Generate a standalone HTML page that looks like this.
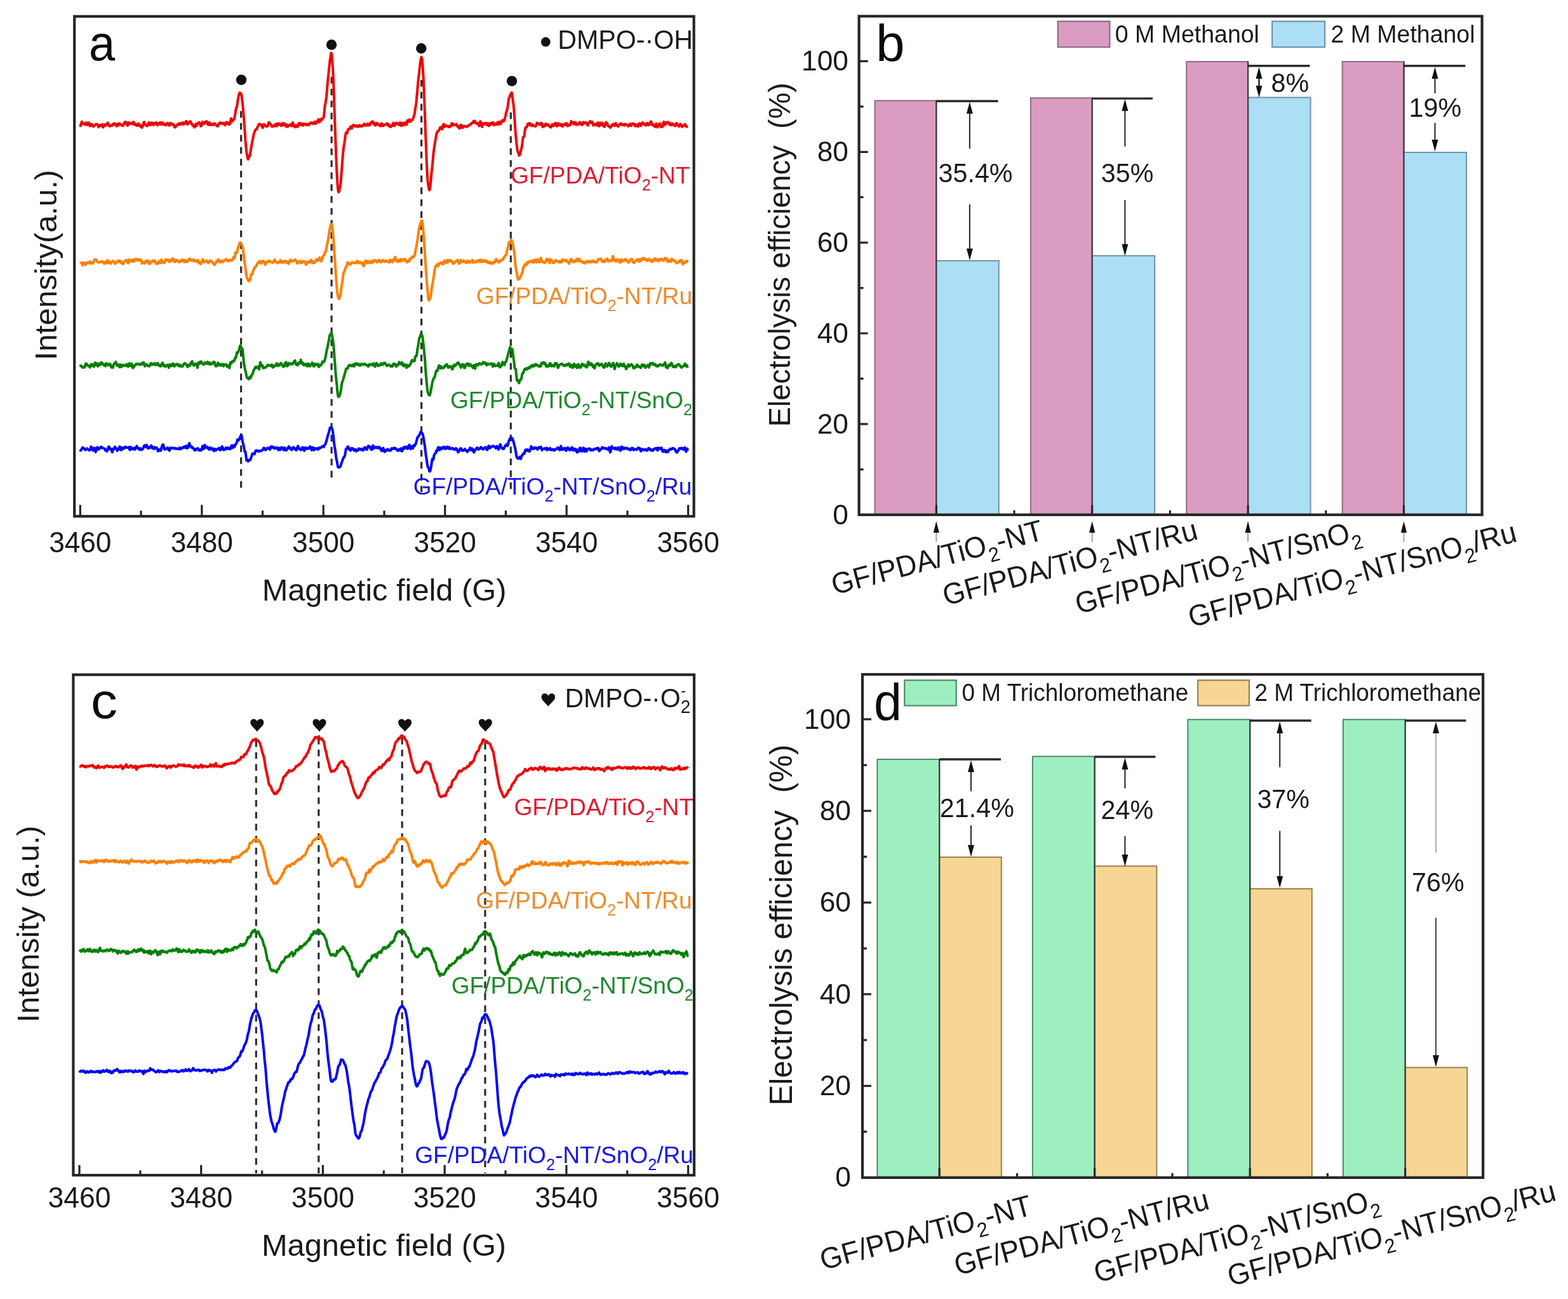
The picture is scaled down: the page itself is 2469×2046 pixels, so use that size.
<!DOCTYPE html>
<html><head><meta charset="utf-8"><title>Figure</title>
<style>
html,body{margin:0;padding:0;background:#fff;width:2469px;height:2046px;overflow:hidden}
svg{display:block}
text{font-family:'Liberation Sans', Arial, sans-serif}
</style></head><body>
<svg width="2469" height="2046" viewBox="0 0 2469 2046">
<rect width="2469" height="2046" fill="#fff"/>
<rect x="117.2" y="25.8" width="975.4" height="787.4" fill="none" stroke="#262626" stroke-width="4.2"/>
<path d="M126.3 813.2V795.2M222.0 813.2V804.2M317.8 813.2V795.2M413.5 813.2V804.2M509.2 813.2V795.2M605.0 813.2V804.2M700.7 813.2V795.2M796.4 813.2V804.2M892.1 813.2V795.2M987.9 813.2V804.2M1083.6 813.2V795.2" stroke="#262626" stroke-width="3.2" fill="none"/>
<text transform="translate(126.3 869.6) scale(1.000 1.04)" font-size="44.2" fill="#1a1a1a" text-anchor="middle" >3460</text>
<text transform="translate(317.8 869.6) scale(1.000 1.04)" font-size="44.2" fill="#1a1a1a" text-anchor="middle" >3480</text>
<text transform="translate(509.2 869.6) scale(1.000 1.04)" font-size="44.2" fill="#1a1a1a" text-anchor="middle" >3500</text>
<text transform="translate(700.7 869.6) scale(1.000 1.04)" font-size="44.2" fill="#1a1a1a" text-anchor="middle" >3520</text>
<text transform="translate(892.1 869.6) scale(1.000 1.04)" font-size="44.2" fill="#1a1a1a" text-anchor="middle" >3540</text>
<text transform="translate(1083.6 869.6) scale(1.000 1.04)" font-size="44.2" fill="#1a1a1a" text-anchor="middle" >3560</text>
<text transform="translate(605.0 946.0) scale(1.060 1.04)" font-size="46" fill="#1a1a1a" text-anchor="middle" >Magnetic field (G)</text>
<text transform="translate(89.3 417.5) rotate(-90) scale(1.054 1.04)" font-size="47" fill="#1a1a1a" text-anchor="middle" >Intensity(a.u.)</text>
<text transform="translate(140.0 94.7) scale(1.000 1.04)" font-size="74.1" fill="#0a0a0a" text-anchor="start" >a</text>
<circle cx="859.3" cy="66" r="7.4" fill="#111"/>
<text transform="translate(878.2 76.7) scale(1.030 1.04)" font-size="40" fill="#1a1a1a" text-anchor="start" >DMPO-·OH</text>
<line x1="379.6" y1="175" x2="379.6" y2="774" stroke="#2e2e2e" stroke-width="3.2" stroke-dasharray="10.5 8.3"/>
<line x1="522.1" y1="121" x2="522.1" y2="760" stroke="#2e2e2e" stroke-width="3.2" stroke-dasharray="10.5 8.3"/>
<line x1="663.6" y1="126" x2="663.6" y2="775" stroke="#2e2e2e" stroke-width="3.2" stroke-dasharray="10.5 8.3"/>
<line x1="804.3" y1="177" x2="804.3" y2="776" stroke="#2e2e2e" stroke-width="3.2" stroke-dasharray="10.5 8.3"/>
<path d="M126.3 199.9 L127.2 196.4 L128.1 193.7 L129.0 191.5 L129.9 194.3 L130.8 195.1 L131.7 195.0 L132.6 196.2 L133.5 195.9 L134.4 193.7 L135.3 193.3 L136.2 194.6 L137.1 196.6 L138.0 196.0 L138.9 193.1 L139.8 193.4 L140.7 196.9 L141.6 198.5 L142.5 196.2 L143.4 195.3 L144.3 197.1 L145.2 196.6 L146.1 198.0 L147.0 199.4 L147.9 198.3 L148.8 197.3 L149.7 197.3 L150.6 195.8 L151.5 195.6 L152.4 195.4 L153.3 195.9 L154.2 197.6 L155.1 200.3 L156.0 198.0 L156.9 196.9 L157.8 197.1 L158.7 198.1 L159.6 198.4 L160.5 196.1 L161.4 199.8 L162.3 200.5 L163.2 196.6 L164.1 196.2 L165.0 197.5 L165.9 198.1 L166.8 195.9 L167.7 196.6 L168.6 196.0 L169.5 193.4 L170.4 194.1 L171.3 197.2 L172.2 198.5 L173.1 198.8 L174.0 198.0 L174.9 197.3 L175.8 197.3 L176.7 197.7 L177.6 195.4 L178.5 195.6 L179.4 195.7 L180.3 194.4 L181.2 196.7 L182.1 195.4 L183.0 196.6 L183.9 198.7 L184.8 195.4 L185.7 195.3 L186.6 197.1 L187.5 194.4 L188.4 194.5 L189.3 196.2 L190.2 196.7 L191.1 196.7 L192.0 197.0 L192.9 198.2 L193.8 197.9 L194.7 196.3 L195.6 193.9 L196.5 192.5 L197.4 191.9 L198.3 194.0 L199.2 193.0 L200.1 196.4 L201.0 197.8 L201.9 193.9 L202.8 193.0 L203.7 194.1 L204.6 195.4 L205.5 193.8 L206.4 193.9 L207.3 193.9 L208.2 194.9 L209.1 195.3 L210.0 191.9 L210.9 194.0 L211.8 196.3 L212.7 196.5 L213.6 194.9 L214.5 197.3 L215.4 197.9 L216.3 197.9 L217.2 196.1 L218.1 194.7 L219.0 197.6 L219.9 198.6 L220.8 197.1 L221.7 197.4 L222.6 200.5 L223.5 200.9 L224.4 198.6 L225.3 198.1 L226.2 192.9 L227.1 192.1 L228.0 196.0 L228.9 196.2 L229.8 197.0 L230.7 197.8 L231.6 198.5 L232.5 197.6 L233.4 195.1 L234.3 192.8 L235.2 194.5 L236.1 196.2 L237.0 197.0 L237.9 193.7 L238.8 193.5 L239.7 193.5 L240.6 194.7 L241.5 196.9 L242.4 195.4 L243.3 193.8 L244.2 194.6 L245.1 195.0 L246.0 193.0 L246.9 194.3 L247.8 197.3 L248.7 196.8 L249.6 194.8 L250.5 193.9 L251.4 193.5 L252.3 192.9 L253.2 195.9 L254.1 196.3 L255.0 194.9 L255.9 193.0 L256.8 193.9 L257.7 196.1 L258.6 196.1 L259.5 195.4 L260.4 196.9 L261.3 197.3 L262.2 195.2 L263.1 194.3 L264.0 193.8 L264.9 194.3 L265.8 197.2 L266.7 197.7 L267.6 196.5 L268.5 194.1 L269.4 194.0 L270.3 195.4 L271.2 195.7 L272.1 195.9 L273.0 195.7 L273.9 198.0 L274.8 200.4 L275.7 200.6 L276.6 199.6 L277.5 197.6 L278.4 197.3 L279.3 196.2 L280.2 196.8 L281.1 195.2 L282.0 194.2 L282.9 194.5 L283.8 196.2 L284.7 196.2 L285.6 195.0 L286.5 193.4 L287.4 193.7 L288.3 193.4 L289.2 196.2 L290.1 195.3 L291.0 194.7 L291.9 193.4 L292.8 191.0 L293.7 191.2 L294.6 194.3 L295.5 196.0 L296.4 193.1 L297.3 192.7 L298.2 193.2 L299.1 191.2 L300.0 191.2 L300.9 193.7 L301.8 195.1 L302.7 196.1 L303.6 198.3 L304.5 197.3 L305.4 198.1 L306.3 200.5 L307.2 199.7 L308.1 195.3 L309.0 196.2 L309.9 197.8 L310.8 194.8 L311.7 193.8 L312.6 193.2 L313.5 192.8 L314.4 193.7 L315.3 196.3 L316.2 198.7 L317.1 198.6 L318.0 195.1 L318.9 191.9 L319.8 193.5 L320.7 194.3 L321.6 194.9 L322.5 193.6 L323.4 191.9 L324.3 193.1 L325.2 191.2 L326.1 192.7 L327.0 195.3 L327.9 196.7 L328.8 196.6 L329.7 192.8 L330.6 195.2 L331.5 196.8 L332.4 196.0 L333.3 196.1 L334.2 195.0 L335.1 196.8 L336.0 196.7 L336.9 194.5 L337.8 194.4 L338.7 195.0 L339.6 195.5 L340.5 197.5 L341.4 197.7 L342.3 198.9 L343.2 198.6 L344.1 196.5 L345.0 194.9 L345.9 193.5 L346.8 193.2 L347.7 193.8 L348.6 194.8 L349.5 193.9 L350.4 194.6 L351.3 194.7 L352.2 193.7 L353.1 194.5 L354.0 197.1 L354.9 196.8 L355.8 193.2 L356.7 192.5 L357.6 192.4 L358.5 193.3 L359.4 195.6 L360.3 195.4 L361.2 195.9 L362.1 195.3 L363.0 190.1 L363.9 186.5 L364.8 189.2 L365.7 191.2 L366.6 189.5 L367.5 188.8 L368.4 188.1 L369.3 185.5 L370.2 180.6 L371.1 174.3 L372.0 169.8 L372.9 168.7 L373.8 163.7 L374.7 156.6 L375.6 152.1 L376.5 148.1 L377.4 146.0 L378.3 148.4 L379.2 146.8 L380.1 148.9 L381.0 155.2 L381.9 162.1 L382.8 171.9 L383.7 182.7 L384.6 193.9 L385.5 207.2 L386.4 221.0 L387.3 230.6 L388.2 239.8 L389.1 244.4 L390.0 249.6 L390.9 250.9 L391.8 248.0 L392.7 244.7 L393.6 245.3 L394.5 238.9 L395.4 233.2 L396.3 228.7 L397.2 223.0 L398.1 219.3 L399.0 214.4 L399.9 209.8 L400.8 208.6 L401.7 205.2 L402.6 204.1 L403.5 204.0 L404.4 203.2 L405.3 200.4 L406.2 198.8 L407.1 197.4 L408.0 195.2 L408.9 195.7 L409.8 195.6 L410.7 195.9 L411.6 197.7 L412.5 198.7 L413.4 201.3 L414.3 200.3 L415.2 195.9 L416.1 196.5 L417.0 196.6 L417.9 198.2 L418.8 198.8 L419.7 199.4 L420.6 199.0 L421.5 198.6 L422.4 195.9 L423.3 192.5 L424.2 193.4 L425.1 194.9 L426.0 195.4 L426.9 196.3 L427.8 199.2 L428.7 198.6 L429.6 199.1 L430.5 198.3 L431.4 199.0 L432.3 196.5 L433.2 196.6 L434.1 195.5 L435.0 197.8 L435.9 198.7 L436.8 194.6 L437.7 194.5 L438.6 196.2 L439.5 195.5 L440.4 194.7 L441.3 197.3 L442.2 197.5 L443.1 198.3 L444.0 196.5 L444.9 194.1 L445.8 195.3 L446.7 197.2 L447.6 194.5 L448.5 195.2 L449.4 197.7 L450.3 199.0 L451.2 198.0 L452.1 196.3 L453.0 199.6 L453.9 198.2 L454.8 197.4 L455.7 197.4 L456.6 196.6 L457.5 195.8 L458.4 197.2 L459.3 198.6 L460.2 194.7 L461.1 193.1 L462.0 197.1 L462.9 198.6 L463.8 199.7 L464.7 200.1 L465.6 197.2 L466.5 197.4 L467.4 198.8 L468.3 199.9 L469.2 198.9 L470.1 195.4 L471.0 193.9 L471.9 194.5 L472.8 194.3 L473.7 196.9 L474.6 195.8 L475.5 194.6 L476.4 194.9 L477.3 197.6 L478.2 196.4 L479.1 195.1 L480.0 195.7 L480.9 195.5 L481.8 196.5 L482.7 197.0 L483.6 195.3 L484.5 195.6 L485.4 196.2 L486.3 196.9 L487.2 196.0 L488.1 194.4 L489.0 193.4 L489.9 193.8 L490.8 193.0 L491.7 194.6 L492.6 194.9 L493.5 194.7 L494.4 193.0 L495.3 191.9 L496.2 192.6 L497.1 194.9 L498.0 193.8 L498.9 192.1 L499.8 190.2 L500.7 190.0 L501.6 188.0 L502.5 192.5 L503.4 192.2 L504.3 190.4 L505.2 187.7 L506.1 187.4 L507.0 188.6 L507.9 187.1 L508.8 186.1 L509.7 184.5 L510.6 177.3 L511.5 166.6 L512.4 163.2 L513.3 158.5 L514.2 150.3 L515.1 139.3 L516.0 129.2 L516.9 120.6 L517.8 111.3 L518.7 102.7 L519.6 94.5 L520.5 89.3 L521.4 83.3 L522.3 85.5 L523.2 95.6 L524.1 108.4 L525.0 126.1 L525.9 151.3 L526.8 178.6 L527.7 205.1 L528.6 228.4 L529.5 251.8 L530.4 272.3 L531.3 288.0 L532.2 298.9 L533.1 302.5 L534.0 301.9 L534.9 296.2 L535.8 293.1 L536.7 286.3 L537.6 274.5 L538.5 263.1 L539.4 249.7 L540.3 240.0 L541.2 231.3 L542.1 226.4 L543.0 220.5 L543.9 213.0 L544.8 209.1 L545.7 208.4 L546.6 209.7 L547.5 205.8 L548.4 203.6 L549.3 203.1 L550.2 203.4 L551.1 203.0 L552.0 199.3 L552.9 199.3 L553.8 202.2 L554.7 200.7 L555.6 198.2 L556.5 196.7 L557.4 198.1 L558.3 198.4 L559.2 198.1 L560.1 199.1 L561.0 197.7 L561.9 198.0 L562.8 199.4 L563.7 199.3 L564.6 199.5 L565.5 197.7 L566.4 197.0 L567.3 198.0 L568.2 198.6 L569.1 199.4 L570.0 198.4 L570.9 197.4 L571.8 197.9 L572.7 197.4 L573.6 195.1 L574.5 195.5 L575.4 196.4 L576.3 197.8 L577.2 196.8 L578.1 196.9 L579.0 194.7 L579.9 195.9 L580.8 197.6 L581.7 196.9 L582.6 196.6 L583.5 193.4 L584.4 194.8 L585.3 194.3 L586.2 191.2 L587.1 192.0 L588.0 194.5 L588.9 193.0 L589.8 196.2 L590.7 197.4 L591.6 197.5 L592.5 195.4 L593.4 193.8 L594.3 194.4 L595.2 195.5 L596.1 196.8 L597.0 196.5 L597.9 197.4 L598.8 198.4 L599.7 198.2 L600.6 194.3 L601.5 195.6 L602.4 198.2 L603.3 198.2 L604.2 196.5 L605.1 196.3 L606.0 196.8 L606.9 196.8 L607.8 195.7 L608.7 194.8 L609.6 194.4 L610.5 196.1 L611.4 197.9 L612.3 196.1 L613.2 198.3 L614.1 199.8 L615.0 198.6 L615.9 199.5 L616.8 197.6 L617.7 198.0 L618.6 195.5 L619.5 193.6 L620.4 196.1 L621.3 198.1 L622.2 195.6 L623.1 195.1 L624.0 193.4 L624.9 193.5 L625.8 195.3 L626.7 195.5 L627.6 196.7 L628.5 196.8 L629.4 193.5 L630.3 193.3 L631.2 195.8 L632.1 198.2 L633.0 195.1 L633.9 193.9 L634.8 195.9 L635.7 197.4 L636.6 194.1 L637.5 193.0 L638.4 194.0 L639.3 195.8 L640.2 196.4 L641.1 191.3 L642.0 189.5 L642.9 191.9 L643.8 191.7 L644.7 188.1 L645.6 189.5 L646.5 191.5 L647.4 189.9 L648.3 189.5 L649.2 188.6 L650.1 187.4 L651.0 185.1 L651.9 182.3 L652.8 179.1 L653.7 172.5 L654.6 167.4 L655.5 161.5 L656.4 151.3 L657.3 141.3 L658.2 130.7 L659.1 121.4 L660.0 115.0 L660.9 105.7 L661.8 99.0 L662.7 92.9 L663.6 89.9 L664.5 92.6 L665.4 101.4 L666.3 115.1 L667.2 133.6 L668.1 153.9 L669.0 179.5 L669.9 205.8 L670.8 229.6 L671.7 252.1 L672.6 272.0 L673.5 285.0 L674.4 291.4 L675.3 297.8 L676.2 299.4 L677.1 297.1 L678.0 289.3 L678.9 278.7 L679.8 270.6 L680.7 262.3 L681.6 251.8 L682.5 241.4 L683.4 234.9 L684.3 228.4 L685.2 222.9 L686.1 218.4 L687.0 212.6 L687.9 209.5 L688.8 207.0 L689.7 206.9 L690.6 206.1 L691.5 204.3 L692.4 202.8 L693.3 200.6 L694.2 200.7 L695.1 200.2 L696.0 203.7 L696.9 202.2 L697.8 196.7 L698.7 195.4 L699.6 199.7 L700.5 199.2 L701.4 199.1 L702.3 197.5 L703.2 198.2 L704.1 198.3 L705.0 199.2 L705.9 199.2 L706.8 200.1 L707.7 198.5 L708.6 199.6 L709.5 198.7 L710.4 197.5 L711.3 194.3 L712.2 194.3 L713.1 197.4 L714.0 195.9 L714.9 196.2 L715.8 196.5 L716.7 196.4 L717.6 197.1 L718.5 195.5 L719.4 196.3 L720.3 199.1 L721.2 198.6 L722.1 200.3 L723.0 201.6 L723.9 202.4 L724.8 200.0 L725.7 196.5 L726.6 197.2 L727.5 199.0 L728.4 201.2 L729.3 200.2 L730.2 198.7 L731.1 199.1 L732.0 198.6 L732.9 199.1 L733.8 199.3 L734.7 199.9 L735.6 199.2 L736.5 198.9 L737.4 197.7 L738.3 197.4 L739.2 196.5 L740.1 196.7 L741.0 195.9 L741.9 194.6 L742.8 193.7 L743.7 193.9 L744.6 193.4 L745.5 191.1 L746.4 193.0 L747.3 190.3 L748.2 191.7 L749.1 193.3 L750.0 194.7 L750.9 194.4 L751.8 193.8 L752.7 194.5 L753.6 196.8 L754.5 198.5 L755.4 195.0 L756.3 191.1 L757.2 192.9 L758.1 196.9 L759.0 199.8 L759.9 195.4 L760.8 194.4 L761.7 195.9 L762.6 195.3 L763.5 193.9 L764.4 195.5 L765.3 193.9 L766.2 195.3 L767.1 197.0 L768.0 194.4 L768.9 195.7 L769.8 198.4 L770.7 196.1 L771.6 194.1 L772.5 195.1 L773.4 196.3 L774.3 193.8 L775.2 193.4 L776.1 192.7 L777.0 194.0 L777.9 197.1 L778.8 196.0 L779.7 195.0 L780.6 195.3 L781.5 193.6 L782.4 193.3 L783.3 196.4 L784.2 196.0 L785.1 192.3 L786.0 191.9 L786.9 195.2 L787.8 195.4 L788.7 193.8 L789.6 191.2 L790.5 190.5 L791.4 189.3 L792.3 191.5 L793.2 190.7 L794.1 189.7 L795.0 185.9 L795.9 183.4 L796.8 177.8 L797.7 175.1 L798.6 172.7 L799.5 167.8 L800.4 161.1 L801.3 154.9 L802.2 153.6 L803.1 150.5 L804.0 148.2 L804.9 146.6 L805.8 145.9 L806.7 151.0 L807.6 159.2 L808.5 164.2 L809.4 174.3 L810.3 186.7 L811.2 201.8 L812.1 212.6 L813.0 221.7 L813.9 231.0 L814.8 236.9 L815.7 239.8 L816.6 242.1 L817.5 244.8 L818.4 244.1 L819.3 241.9 L820.2 237.2 L821.1 234.0 L822.0 230.0 L822.9 221.0 L823.8 215.8 L824.7 215.7 L825.6 213.7 L826.5 205.8 L827.4 201.0 L828.3 200.8 L829.2 200.4 L830.1 199.0 L831.0 195.0 L831.9 196.0 L832.8 196.2 L833.7 194.0 L834.6 194.3 L835.5 197.4 L836.4 197.9 L837.3 197.0 L838.2 198.2 L839.1 196.4 L840.0 197.3 L840.9 198.5 L841.8 198.5 L842.7 199.0 L843.6 198.9 L844.5 196.4 L845.4 193.6 L846.3 194.9 L847.2 194.6 L848.1 194.6 L849.0 195.9 L849.9 194.5 L850.8 196.4 L851.7 195.0 L852.6 193.5 L853.5 195.4 L854.4 200.2 L855.3 199.5 L856.2 196.9 L857.1 198.3 L858.0 198.6 L858.9 195.0 L859.8 195.0 L860.7 196.8 L861.6 196.2 L862.5 195.8 L863.4 197.9 L864.3 197.5 L865.2 198.3 L866.1 200.0 L867.0 199.2 L867.9 200.4 L868.8 197.6 L869.7 195.9 L870.6 196.6 L871.5 198.0 L872.4 198.0 L873.3 196.5 L874.2 193.7 L875.1 193.9 L876.0 196.2 L876.9 198.8 L877.8 198.5 L878.7 194.0 L879.6 195.4 L880.5 196.4 L881.4 197.1 L882.3 197.3 L883.2 195.6 L884.1 195.6 L885.0 198.9 L885.9 199.2 L886.8 197.3 L887.7 196.7 L888.6 195.4 L889.5 194.9 L890.4 196.9 L891.3 195.4 L892.2 194.1 L893.1 195.7 L894.0 198.7 L894.9 197.7 L895.8 196.4 L896.7 196.3 L897.6 197.0 L898.5 195.0 L899.4 190.9 L900.3 192.3 L901.2 193.6 L902.1 194.7 L903.0 193.7 L903.9 192.3 L904.8 195.8 L905.7 195.1 L906.6 193.1 L907.5 196.2 L908.4 196.5 L909.3 196.4 L910.2 196.0 L911.1 195.6 L912.0 194.0 L912.9 192.4 L913.8 193.9 L914.7 195.7 L915.6 196.3 L916.5 196.7 L917.4 194.6 L918.3 192.4 L919.2 194.9 L920.1 193.8 L921.0 192.6 L921.9 193.3 L922.8 193.1 L923.7 194.6 L924.6 195.1 L925.5 197.7 L926.4 195.6 L927.3 193.8 L928.2 192.6 L929.1 190.9 L930.0 192.3 L930.9 193.5 L931.8 193.4 L932.7 192.0 L933.6 195.4 L934.5 197.8 L935.4 196.1 L936.3 196.1 L937.2 196.3 L938.1 194.9 L939.0 195.6 L939.9 197.5 L940.8 196.1 L941.7 193.1 L942.6 193.6 L943.5 198.7 L944.4 196.8 L945.3 193.4 L946.2 195.3 L947.1 196.7 L948.0 195.0 L948.9 193.6 L949.8 197.9 L950.7 199.1 L951.6 199.7 L952.5 198.2 L953.4 194.4 L954.3 192.6 L955.2 194.8 L956.1 194.1 L957.0 197.3 L957.9 198.3 L958.8 198.8 L959.7 199.7 L960.6 200.9 L961.5 200.7 L962.4 199.0 L963.3 197.2 L964.2 197.5 L965.1 195.8 L966.0 195.2 L966.9 197.1 L967.8 198.0 L968.7 197.4 L969.6 194.0 L970.5 196.5 L971.4 197.8 L972.3 197.8 L973.2 199.3 L974.1 198.2 L975.0 197.1 L975.9 195.7 L976.8 195.2 L977.7 194.3 L978.6 195.6 L979.5 197.0 L980.4 196.6 L981.3 196.1 L982.2 195.6 L983.1 197.5 L984.0 195.5 L984.9 195.7 L985.8 196.5 L986.7 196.1 L987.6 196.9 L988.5 197.4 L989.4 198.9 L990.3 197.8 L991.2 196.3 L992.1 195.0 L993.0 196.8 L993.9 198.1 L994.8 196.8 L995.7 194.6 L996.6 194.7 L997.5 195.6 L998.4 195.5 L999.3 195.3 L1000.2 198.8 L1001.1 197.6 L1002.0 196.6 L1002.9 196.1 L1003.8 197.5 L1004.7 199.3 L1005.6 196.0 L1006.5 194.7 L1007.4 194.3 L1008.3 195.9 L1009.2 198.2 L1010.1 195.9 L1011.0 194.1 L1011.9 192.8 L1012.8 194.6 L1013.7 195.9 L1014.6 195.1 L1015.5 195.6 L1016.4 197.4 L1017.3 197.3 L1018.2 195.8 L1019.1 194.0 L1020.0 194.2 L1020.9 197.2 L1021.8 195.1 L1022.7 196.3 L1023.6 194.8 L1024.5 191.5 L1025.4 191.6 L1026.3 194.3 L1027.2 197.3 L1028.1 195.8 L1029.0 197.4 L1029.9 198.3 L1030.8 197.0 L1031.7 199.9 L1032.6 198.0 L1033.5 194.5 L1034.4 198.9 L1035.3 200.5 L1036.2 197.5 L1037.1 196.7 L1038.0 196.4 L1038.9 194.4 L1039.8 197.6 L1040.7 200.2 L1041.6 198.1 L1042.5 199.5 L1043.4 199.6 L1044.3 193.5 L1045.2 191.8 L1046.1 194.2 L1047.0 196.7 L1047.9 196.1 L1048.8 193.7 L1049.7 192.5 L1050.6 192.7 L1051.5 193.2 L1052.4 192.6 L1053.3 194.1 L1054.2 196.2 L1055.1 194.8 L1056.0 194.4 L1056.9 197.3 L1057.8 196.4 L1058.7 194.6 L1059.6 195.3 L1060.5 197.0 L1061.4 196.2 L1062.3 197.0 L1063.2 198.5 L1064.1 197.6 L1065.0 194.0 L1065.9 194.7 L1066.8 196.0 L1067.7 197.3 L1068.6 198.9 L1069.5 199.0 L1070.4 196.4 L1071.3 195.1 L1072.2 196.4 L1073.1 197.2 L1074.0 199.7 L1074.9 198.6 L1075.8 197.9 L1076.7 198.2 L1077.6 196.2 L1078.5 195.8 L1079.4 196.7 L1080.3 198.5 L1081.2 199.7 L1082.1 199.2 L1083.0 198.8" fill="none" stroke="#f00000" stroke-width="4.0" stroke-linejoin="round"/>
<path d="M126.3 415.2 L127.2 414.0 L128.1 413.9 L129.0 414.3 L129.9 417.7 L130.8 414.2 L131.7 413.6 L132.6 413.6 L133.5 414.3 L134.4 417.4 L135.3 414.7 L136.2 414.7 L137.1 414.8 L138.0 413.0 L138.9 414.7 L139.8 414.4 L140.7 414.3 L141.6 412.0 L142.5 412.0 L143.4 414.8 L144.3 414.8 L145.2 414.2 L146.1 414.7 L147.0 413.9 L147.9 410.8 L148.8 408.7 L149.7 408.8 L150.6 408.7 L151.5 408.9 L152.4 411.0 L153.3 412.3 L154.2 413.2 L155.1 413.5 L156.0 412.9 L156.9 412.9 L157.8 412.9 L158.7 411.7 L159.6 412.0 L160.5 412.8 L161.4 412.3 L162.3 412.3 L163.2 413.8 L164.1 415.5 L165.0 414.4 L165.9 412.8 L166.8 412.3 L167.7 413.8 L168.6 414.6 L169.5 409.8 L170.4 412.1 L171.3 413.6 L172.2 413.3 L173.1 412.3 L174.0 415.2 L174.9 414.6 L175.8 412.5 L176.7 411.7 L177.6 410.8 L178.5 411.4 L179.4 412.1 L180.3 414.4 L181.2 415.4 L182.1 413.5 L183.0 413.3 L183.9 413.2 L184.8 411.9 L185.7 410.6 L186.6 412.4 L187.5 410.7 L188.4 410.5 L189.3 412.3 L190.2 414.2 L191.1 414.3 L192.0 412.0 L192.9 415.1 L193.8 415.9 L194.7 413.1 L195.6 412.1 L196.5 411.6 L197.4 410.9 L198.3 409.6 L199.2 409.4 L200.1 411.6 L201.0 413.7 L201.9 414.7 L202.8 410.7 L203.7 408.8 L204.6 411.0 L205.5 411.5 L206.4 411.9 L207.3 410.6 L208.2 409.2 L209.1 410.2 L210.0 412.2 L210.9 411.4 L211.8 409.1 L212.7 408.4 L213.6 407.8 L214.5 409.2 L215.4 410.0 L216.3 408.2 L217.2 408.3 L218.1 410.1 L219.0 410.5 L219.9 410.1 L220.8 409.4 L221.7 408.8 L222.6 411.1 L223.5 415.1 L224.4 413.0 L225.3 413.3 L226.2 412.5 L227.1 414.3 L228.0 414.8 L228.9 413.1 L229.8 410.9 L230.7 410.5 L231.6 412.4 L232.5 410.5 L233.4 410.9 L234.3 415.0 L235.2 415.7 L236.1 413.6 L237.0 412.3 L237.9 412.1 L238.8 412.9 L239.7 411.8 L240.6 410.3 L241.5 411.4 L242.4 412.3 L243.3 410.5 L244.2 411.1 L245.1 413.7 L246.0 415.8 L246.9 414.3 L247.8 414.1 L248.7 415.1 L249.6 411.8 L250.5 411.5 L251.4 413.9 L252.3 414.5 L253.2 412.1 L254.1 409.0 L255.0 412.1 L255.9 413.3 L256.8 412.7 L257.7 413.6 L258.6 414.2 L259.5 412.0 L260.4 409.3 L261.3 408.3 L262.2 410.1 L263.1 409.9 L264.0 409.4 L264.9 409.3 L265.8 411.2 L266.7 412.3 L267.6 411.3 L268.5 409.9 L269.4 411.6 L270.3 410.4 L271.2 407.6 L272.1 409.4 L273.0 407.7 L273.9 408.9 L274.8 412.4 L275.7 412.5 L276.6 410.5 L277.5 410.1 L278.4 410.8 L279.3 409.6 L280.2 411.5 L281.1 412.2 L282.0 412.9 L282.9 411.8 L283.8 410.6 L284.7 411.6 L285.6 410.9 L286.5 409.1 L287.4 409.0 L288.3 409.8 L289.2 411.7 L290.1 412.8 L291.0 411.3 L291.9 409.6 L292.8 410.6 L293.7 412.6 L294.6 412.8 L295.5 410.7 L296.4 411.0 L297.3 409.7 L298.2 407.3 L299.1 407.9 L300.0 409.4 L300.9 410.0 L301.8 410.1 L302.7 410.3 L303.6 410.9 L304.5 409.2 L305.4 408.7 L306.3 410.8 L307.2 411.0 L308.1 411.8 L309.0 411.3 L309.9 412.3 L310.8 409.8 L311.7 409.7 L312.6 413.1 L313.5 414.5 L314.4 412.7 L315.3 415.0 L316.2 415.8 L317.1 414.3 L318.0 411.5 L318.9 408.5 L319.8 408.8 L320.7 410.9 L321.6 412.9 L322.5 412.4 L323.4 411.8 L324.3 411.7 L325.2 410.6 L326.1 412.1 L327.0 412.3 L327.9 414.3 L328.8 413.4 L329.7 411.6 L330.6 410.9 L331.5 410.3 L332.4 411.8 L333.3 411.5 L334.2 412.9 L335.1 414.7 L336.0 414.3 L336.9 415.2 L337.8 417.3 L338.7 415.8 L339.6 414.6 L340.5 412.3 L341.4 410.9 L342.3 412.5 L343.2 411.3 L344.1 408.6 L345.0 411.7 L345.9 412.3 L346.8 411.3 L347.7 413.2 L348.6 412.2 L349.5 410.6 L350.4 410.7 L351.3 412.6 L352.2 411.3 L353.1 410.4 L354.0 410.2 L354.9 409.2 L355.8 408.2 L356.7 409.0 L357.6 410.0 L358.5 411.2 L359.4 410.1 L360.3 411.2 L361.2 410.2 L362.1 409.3 L363.0 410.0 L363.9 410.3 L364.8 410.3 L365.7 410.2 L366.6 408.3 L367.5 405.0 L368.4 405.2 L369.3 406.5 L370.2 402.2 L371.1 397.2 L372.0 397.9 L372.9 398.4 L373.8 394.9 L374.7 390.3 L375.6 387.3 L376.5 385.2 L377.4 382.4 L378.3 381.8 L379.2 383.8 L380.1 384.1 L381.0 386.6 L381.9 388.0 L382.8 393.0 L383.7 399.9 L384.6 408.3 L385.5 414.9 L386.4 421.4 L387.3 428.0 L388.2 435.0 L389.1 438.6 L390.0 438.0 L390.9 441.9 L391.8 442.9 L392.7 441.4 L393.6 441.0 L394.5 438.5 L395.4 432.3 L396.3 432.6 L397.2 432.0 L398.1 427.6 L399.0 425.6 L399.9 424.0 L400.8 421.5 L401.7 420.0 L402.6 420.0 L403.5 418.9 L404.4 416.9 L405.3 415.7 L406.2 413.5 L407.1 413.5 L408.0 412.9 L408.9 411.1 L409.8 412.1 L410.7 414.9 L411.6 414.7 L412.5 413.6 L413.4 411.1 L414.3 411.0 L415.2 411.3 L416.1 412.8 L417.0 416.1 L417.9 417.0 L418.8 414.1 L419.7 412.7 L420.6 411.7 L421.5 411.6 L422.4 412.7 L423.3 411.2 L424.2 410.5 L425.1 412.1 L426.0 412.1 L426.9 412.4 L427.8 412.9 L428.7 413.7 L429.6 413.6 L430.5 413.2 L431.4 410.7 L432.3 409.0 L433.2 411.0 L434.1 412.2 L435.0 412.6 L435.9 413.4 L436.8 414.7 L437.7 412.6 L438.6 412.3 L439.5 412.7 L440.4 413.2 L441.3 410.6 L442.2 410.2 L443.1 413.2 L444.0 413.6 L444.9 412.2 L445.8 411.6 L446.7 413.7 L447.6 413.0 L448.5 411.2 L449.4 410.8 L450.3 411.6 L451.2 413.7 L452.1 412.1 L453.0 411.9 L453.9 414.9 L454.8 415.3 L455.7 413.1 L456.6 410.5 L457.5 409.4 L458.4 410.4 L459.3 411.6 L460.2 410.9 L461.1 410.7 L462.0 411.1 L462.9 410.3 L463.8 409.2 L464.7 408.8 L465.6 409.5 L466.5 410.8 L467.4 413.5 L468.3 414.9 L469.2 413.1 L470.1 413.2 L471.0 411.9 L471.9 412.8 L472.8 411.3 L473.7 412.1 L474.6 414.2 L475.5 414.0 L476.4 412.0 L477.3 411.8 L478.2 411.0 L479.1 412.0 L480.0 412.9 L480.9 413.8 L481.8 417.0 L482.7 415.3 L483.6 413.4 L484.5 411.7 L485.4 411.8 L486.3 412.8 L487.2 413.6 L488.1 412.9 L489.0 410.9 L489.9 409.4 L490.8 410.2 L491.7 414.2 L492.6 414.5 L493.5 413.6 L494.4 412.4 L495.3 413.8 L496.2 412.5 L497.1 410.8 L498.0 409.1 L498.9 408.4 L499.8 410.6 L500.7 410.6 L501.6 409.4 L502.5 406.9 L503.4 405.6 L504.3 407.3 L505.2 410.8 L506.1 411.6 L507.0 408.0 L507.9 405.6 L508.8 403.2 L509.7 402.5 L510.6 401.3 L511.5 397.2 L512.4 396.9 L513.3 395.7 L514.2 389.7 L515.1 384.1 L516.0 381.8 L516.9 375.9 L517.8 369.2 L518.7 363.6 L519.6 358.9 L520.5 355.9 L521.4 352.9 L522.3 354.4 L523.2 357.9 L524.1 366.0 L525.0 376.5 L525.9 388.3 L526.8 403.0 L527.7 415.1 L528.6 428.0 L529.5 442.1 L530.4 453.6 L531.3 462.0 L532.2 467.3 L533.1 470.2 L534.0 470.6 L534.9 467.5 L535.8 466.5 L536.7 459.7 L537.6 452.9 L538.5 447.1 L539.4 442.5 L540.3 434.0 L541.2 429.4 L542.1 427.6 L543.0 425.4 L543.9 421.4 L544.8 421.3 L545.7 420.3 L546.6 415.7 L547.5 413.1 L548.4 415.8 L549.3 415.7 L550.2 415.6 L551.1 416.8 L552.0 416.0 L552.9 414.0 L553.8 413.7 L554.7 413.0 L555.6 414.1 L556.5 414.2 L557.4 414.1 L558.3 413.1 L559.2 413.8 L560.1 414.5 L561.0 414.6 L561.9 413.0 L562.8 410.9 L563.7 412.7 L564.6 412.6 L565.5 414.4 L566.4 413.9 L567.3 413.1 L568.2 413.3 L569.1 415.1 L570.0 413.7 L570.9 415.7 L571.8 417.8 L572.7 419.2 L573.6 416.6 L574.5 413.1 L575.4 411.1 L576.3 410.6 L577.2 411.0 L578.1 414.2 L579.0 413.5 L579.9 411.8 L580.8 413.4 L581.7 413.8 L582.6 414.4 L583.5 413.0 L584.4 411.1 L585.3 412.4 L586.2 413.5 L587.1 412.6 L588.0 411.3 L588.9 409.5 L589.8 409.9 L590.7 411.4 L591.6 412.0 L592.5 410.5 L593.4 411.3 L594.3 413.3 L595.2 410.5 L596.1 409.6 L597.0 409.4 L597.9 410.9 L598.8 412.6 L599.7 412.9 L600.6 412.7 L601.5 412.1 L602.4 409.6 L603.3 410.5 L604.2 410.5 L605.1 411.9 L606.0 411.4 L606.9 412.2 L607.8 410.5 L608.7 411.2 L609.6 411.8 L610.5 411.6 L611.4 411.8 L612.3 413.4 L613.2 411.7 L614.1 409.2 L615.0 410.2 L615.9 412.0 L616.8 411.2 L617.7 412.9 L618.6 410.3 L619.5 408.5 L620.4 410.6 L621.3 408.0 L622.2 404.9 L623.1 408.2 L624.0 409.0 L624.9 410.8 L625.8 412.3 L626.7 412.1 L627.6 410.0 L628.5 409.0 L629.4 411.8 L630.3 411.5 L631.2 410.0 L632.1 408.1 L633.0 408.9 L633.9 410.4 L634.8 410.5 L635.7 410.3 L636.6 408.5 L637.5 407.9 L638.4 410.2 L639.3 411.1 L640.2 412.8 L641.1 412.9 L642.0 410.6 L642.9 410.2 L643.8 411.9 L644.7 410.9 L645.6 407.3 L646.5 406.6 L647.4 407.3 L648.3 406.5 L649.2 404.3 L650.1 404.5 L651.0 404.8 L651.9 403.8 L652.8 402.7 L653.7 398.8 L654.6 392.7 L655.5 388.6 L656.4 383.7 L657.3 377.8 L658.2 371.6 L659.1 365.3 L660.0 359.7 L660.9 355.8 L661.8 353.0 L662.7 350.8 L663.6 347.7 L664.5 347.6 L665.4 350.2 L666.3 361.0 L667.2 372.9 L668.1 385.0 L669.0 399.1 L669.9 413.0 L670.8 427.0 L671.7 439.5 L672.6 450.6 L673.5 459.9 L674.4 469.5 L675.3 473.1 L676.2 472.0 L677.1 470.0 L678.0 467.9 L678.9 461.7 L679.8 454.1 L680.7 448.7 L681.6 443.6 L682.5 438.2 L683.4 432.4 L684.3 425.7 L685.2 421.9 L686.1 418.9 L687.0 419.0 L687.9 417.0 L688.8 415.9 L689.7 419.0 L690.6 417.8 L691.5 414.9 L692.4 414.7 L693.3 413.8 L694.2 415.0 L695.1 414.7 L696.0 413.2 L696.9 414.6 L697.8 416.4 L698.7 414.6 L699.6 410.6 L700.5 410.4 L701.4 412.9 L702.3 413.8 L703.2 413.8 L704.1 410.8 L705.0 409.3 L705.9 412.6 L706.8 411.1 L707.7 410.5 L708.6 409.9 L709.5 411.6 L710.4 410.6 L711.3 411.3 L712.2 412.4 L713.1 414.7 L714.0 415.5 L714.9 414.2 L715.8 413.6 L716.7 412.5 L717.6 411.6 L718.5 410.7 L719.4 410.9 L720.3 409.5 L721.2 412.2 L722.1 413.7 L723.0 415.3 L723.9 413.9 L724.8 409.5 L725.7 410.0 L726.6 412.2 L727.5 412.2 L728.4 412.6 L729.3 411.4 L730.2 410.4 L731.1 412.0 L732.0 412.6 L732.9 413.0 L733.8 413.8 L734.7 414.4 L735.6 411.0 L736.5 411.0 L737.4 413.0 L738.3 411.2 L739.2 412.0 L740.1 413.6 L741.0 413.1 L741.9 412.6 L742.8 411.0 L743.7 409.5 L744.6 412.5 L745.5 413.8 L746.4 412.9 L747.3 411.8 L748.2 412.6 L749.1 413.1 L750.0 411.7 L750.9 410.6 L751.8 410.4 L752.7 411.5 L753.6 410.2 L754.5 411.2 L755.4 412.4 L756.3 409.0 L757.2 409.9 L758.1 412.3 L759.0 412.1 L759.9 412.3 L760.8 409.7 L761.7 409.9 L762.6 412.0 L763.5 410.5 L764.4 410.9 L765.3 411.9 L766.2 412.9 L767.1 410.9 L768.0 411.9 L768.9 413.9 L769.8 414.5 L770.7 413.4 L771.6 413.1 L772.5 412.6 L773.4 414.9 L774.3 414.2 L775.2 414.4 L776.1 415.1 L777.0 413.1 L777.9 412.3 L778.8 413.2 L779.7 412.9 L780.6 408.9 L781.5 408.1 L782.4 410.8 L783.3 410.8 L784.2 411.6 L785.1 413.4 L786.0 411.1 L786.9 410.7 L787.8 411.4 L788.7 409.5 L789.6 409.4 L790.5 409.3 L791.4 409.3 L792.3 408.3 L793.2 405.9 L794.1 405.2 L795.0 403.8 L795.9 402.0 L796.8 401.6 L797.7 398.3 L798.6 394.1 L799.5 390.5 L800.4 386.7 L801.3 381.7 L802.2 382.9 L803.1 382.8 L804.0 379.2 L804.9 377.5 L805.8 378.9 L806.7 382.0 L807.6 384.9 L808.5 390.6 L809.4 395.2 L810.3 401.6 L811.2 413.9 L812.1 421.2 L813.0 425.8 L813.9 431.2 L814.8 436.3 L815.7 440.3 L816.6 439.8 L817.5 439.6 L818.4 437.9 L819.3 435.9 L820.2 434.9 L821.1 432.4 L822.0 429.6 L822.9 427.9 L823.8 421.4 L824.7 421.4 L825.6 418.0 L826.5 416.3 L827.4 417.4 L828.3 417.6 L829.2 416.2 L830.1 413.4 L831.0 415.0 L831.9 412.4 L832.8 412.1 L833.7 412.0 L834.6 411.6 L835.5 412.0 L836.4 412.7 L837.3 411.2 L838.2 410.2 L839.1 412.7 L840.0 413.6 L840.9 412.5 L841.8 410.5 L842.7 409.1 L843.6 411.6 L844.5 413.1 L845.4 411.0 L846.3 408.5 L847.2 411.1 L848.1 412.5 L849.0 413.2 L849.9 412.6 L850.8 408.0 L851.7 406.2 L852.6 411.0 L853.5 412.4 L854.4 411.6 L855.3 412.1 L856.2 413.6 L857.1 412.5 L858.0 414.1 L858.9 413.1 L859.8 411.4 L860.7 407.9 L861.6 409.9 L862.5 409.2 L863.4 408.3 L864.3 411.0 L865.2 414.3 L866.1 410.4 L867.0 408.4 L867.9 411.0 L868.8 410.1 L869.7 411.3 L870.6 414.0 L871.5 414.0 L872.4 413.5 L873.3 413.4 L874.2 411.4 L875.1 409.7 L876.0 410.6 L876.9 411.0 L877.8 411.5 L878.7 412.0 L879.6 413.0 L880.5 413.2 L881.4 411.3 L882.3 411.2 L883.2 412.6 L884.1 413.3 L885.0 410.6 L885.9 408.7 L886.8 410.9 L887.7 409.5 L888.6 409.6 L889.5 410.3 L890.4 410.7 L891.3 409.3 L892.2 411.8 L893.1 411.7 L894.0 412.5 L894.9 412.8 L895.8 415.3 L896.7 412.7 L897.6 410.4 L898.5 408.7 L899.4 408.0 L900.3 411.6 L901.2 410.0 L902.1 411.2 L903.0 412.8 L903.9 412.6 L904.8 411.0 L905.7 410.2 L906.6 411.3 L907.5 410.1 L908.4 407.8 L909.3 408.7 L910.2 411.5 L911.1 411.0 L912.0 407.6 L912.9 409.7 L913.8 410.9 L914.7 412.1 L915.6 411.4 L916.5 411.2 L917.4 413.0 L918.3 414.1 L919.2 413.8 L920.1 412.6 L921.0 413.5 L921.9 414.8 L922.8 412.5 L923.7 411.3 L924.6 412.1 L925.5 411.6 L926.4 412.8 L927.3 411.5 L928.2 412.0 L929.1 413.3 L930.0 411.3 L930.9 411.4 L931.8 412.6 L932.7 411.9 L933.6 410.4 L934.5 412.3 L935.4 412.0 L936.3 412.1 L937.2 413.1 L938.1 413.2 L939.0 412.7 L939.9 412.9 L940.8 411.4 L941.7 408.7 L942.6 408.0 L943.5 408.4 L944.4 408.7 L945.3 408.6 L946.2 407.3 L947.1 410.0 L948.0 412.2 L948.9 412.1 L949.8 410.5 L950.7 410.1 L951.6 412.7 L952.5 410.3 L953.4 409.4 L954.3 409.4 L955.2 407.4 L956.1 407.6 L957.0 410.2 L957.9 411.7 L958.8 410.4 L959.7 410.9 L960.6 411.2 L961.5 410.3 L962.4 409.4 L963.3 410.7 L964.2 407.6 L965.1 403.4 L966.0 406.2 L966.9 410.5 L967.8 410.1 L968.7 409.5 L969.6 411.5 L970.5 411.6 L971.4 409.9 L972.3 408.3 L973.2 409.6 L974.1 410.3 L975.0 410.6 L975.9 413.8 L976.8 411.3 L977.7 408.4 L978.6 408.5 L979.5 411.6 L980.4 411.4 L981.3 410.6 L982.2 410.3 L983.1 410.5 L984.0 408.3 L984.9 408.1 L985.8 409.2 L986.7 409.4 L987.6 411.3 L988.5 412.1 L989.4 413.1 L990.3 413.2 L991.2 412.0 L992.1 408.8 L993.0 408.8 L993.9 408.4 L994.8 408.1 L995.7 409.7 L996.6 412.7 L997.5 413.6 L998.4 414.0 L999.3 412.8 L1000.2 411.8 L1001.1 410.4 L1002.0 409.9 L1002.9 409.5 L1003.8 408.5 L1004.7 408.3 L1005.6 410.7 L1006.5 412.0 L1007.4 409.1 L1008.3 408.7 L1009.2 411.1 L1010.1 409.7 L1011.0 407.5 L1011.9 407.6 L1012.8 406.4 L1013.7 408.6 L1014.6 408.4 L1015.5 407.4 L1016.4 408.6 L1017.3 409.2 L1018.2 410.5 L1019.1 408.9 L1020.0 408.7 L1020.9 407.8 L1021.8 409.3 L1022.7 410.5 L1023.6 411.0 L1024.5 410.2 L1025.4 408.7 L1026.3 412.0 L1027.2 412.5 L1028.1 410.1 L1029.0 410.0 L1029.9 409.8 L1030.8 407.1 L1031.7 408.2 L1032.6 410.0 L1033.5 410.4 L1034.4 409.6 L1035.3 408.3 L1036.2 410.5 L1037.1 411.3 L1038.0 410.2 L1038.9 408.2 L1039.8 407.5 L1040.7 408.9 L1041.6 409.5 L1042.5 408.1 L1043.4 408.8 L1044.3 410.6 L1045.2 410.4 L1046.1 407.9 L1047.0 406.5 L1047.9 407.6 L1048.8 406.5 L1049.7 407.4 L1050.6 411.4 L1051.5 412.4 L1052.4 409.4 L1053.3 409.3 L1054.2 410.2 L1055.1 411.4 L1056.0 412.3 L1056.9 410.3 L1057.8 407.5 L1058.7 409.6 L1059.6 410.2 L1060.5 410.3 L1061.4 410.5 L1062.3 410.3 L1063.2 410.8 L1064.1 413.0 L1065.0 414.2 L1065.9 414.6 L1066.8 414.1 L1067.7 413.6 L1068.6 412.2 L1069.5 410.8 L1070.4 412.6 L1071.3 411.9 L1072.2 410.8 L1073.1 409.5 L1074.0 412.0 L1074.9 416.1 L1075.8 413.6 L1076.7 413.8 L1077.6 414.5 L1078.5 413.3 L1079.4 411.7 L1080.3 412.0 L1081.2 412.7 L1082.1 411.3 L1083.0 409.5" fill="none" stroke="#ff8000" stroke-width="4.0" stroke-linejoin="round"/>
<path d="M126.3 574.4 L127.2 576.5 L128.1 576.3 L129.0 577.3 L129.9 578.6 L130.8 578.2 L131.7 578.9 L132.6 578.8 L133.5 577.9 L134.4 574.0 L135.3 572.5 L136.2 572.8 L137.1 575.1 L138.0 575.4 L138.9 576.5 L139.8 576.0 L140.7 576.4 L141.6 578.7 L142.5 576.7 L143.4 574.1 L144.3 573.3 L145.2 576.2 L146.1 576.0 L147.0 574.7 L147.9 577.6 L148.8 575.3 L149.7 571.3 L150.6 573.2 L151.5 575.1 L152.4 572.3 L153.3 574.9 L154.2 576.9 L155.1 573.6 L156.0 572.7 L156.9 574.1 L157.8 574.9 L158.7 573.7 L159.6 570.8 L160.5 571.4 L161.4 573.1 L162.3 573.8 L163.2 575.2 L164.1 573.7 L165.0 574.1 L165.9 576.7 L166.8 574.2 L167.7 572.2 L168.6 573.2 L169.5 574.0 L170.4 575.4 L171.3 575.1 L172.2 573.6 L173.1 573.0 L174.0 573.9 L174.9 577.5 L175.8 578.7 L176.7 577.5 L177.6 579.1 L178.5 576.5 L179.4 573.3 L180.3 572.6 L181.2 571.7 L182.1 570.0 L183.0 571.9 L183.9 575.0 L184.8 576.0 L185.7 574.4 L186.6 574.2 L187.5 576.8 L188.4 578.2 L189.3 574.3 L190.2 574.6 L191.1 577.9 L192.0 577.2 L192.9 574.8 L193.8 575.5 L194.7 575.1 L195.6 576.1 L196.5 575.3 L197.4 575.3 L198.3 576.1 L199.2 573.7 L200.1 574.1 L201.0 576.9 L201.9 577.5 L202.8 575.2 L203.7 572.4 L204.6 575.8 L205.5 576.4 L206.4 574.1 L207.3 572.7 L208.2 577.1 L209.1 579.6 L210.0 578.6 L210.9 578.1 L211.8 575.6 L212.7 575.3 L213.6 574.0 L214.5 573.1 L215.4 573.7 L216.3 573.2 L217.2 573.1 L218.1 573.3 L219.0 573.9 L219.9 574.4 L220.8 574.4 L221.7 573.1 L222.6 573.6 L223.5 572.0 L224.4 573.8 L225.3 573.5 L226.2 570.7 L227.1 573.6 L228.0 576.8 L228.9 576.1 L229.8 574.1 L230.7 573.9 L231.6 575.2 L232.5 575.9 L233.4 576.6 L234.3 576.3 L235.2 576.8 L236.1 575.6 L237.0 573.0 L237.9 572.1 L238.8 573.3 L239.7 574.4 L240.6 573.8 L241.5 574.5 L242.4 572.2 L243.3 572.5 L244.2 572.9 L245.1 574.7 L246.0 575.0 L246.9 573.8 L247.8 572.1 L248.7 572.3 L249.6 574.0 L250.5 576.2 L251.4 575.2 L252.3 576.5 L253.2 576.9 L254.1 574.4 L255.0 572.9 L255.9 571.3 L256.8 574.1 L257.7 576.2 L258.6 574.9 L259.5 576.4 L260.4 577.6 L261.3 576.7 L262.2 575.4 L263.1 575.5 L264.0 574.5 L264.9 576.1 L265.8 579.2 L266.7 575.8 L267.6 574.2 L268.5 575.6 L269.4 576.5 L270.3 576.4 L271.2 573.9 L272.1 572.5 L273.0 573.4 L273.9 576.6 L274.8 577.1 L275.7 574.4 L276.6 574.0 L277.5 574.3 L278.4 573.4 L279.3 574.4 L280.2 575.9 L281.1 574.0 L282.0 575.9 L282.9 576.9 L283.8 574.7 L284.7 576.5 L285.6 576.7 L286.5 577.5 L287.4 577.3 L288.3 575.2 L289.2 573.7 L290.1 572.6 L291.0 572.0 L291.9 572.5 L292.8 573.7 L293.7 575.1 L294.6 575.9 L295.5 578.0 L296.4 575.4 L297.3 574.4 L298.2 574.6 L299.1 576.0 L300.0 573.9 L300.9 570.7 L301.8 570.2 L302.7 569.1 L303.6 573.2 L304.5 574.8 L305.4 575.8 L306.3 575.2 L307.2 572.9 L308.1 572.8 L309.0 573.0 L309.9 574.0 L310.8 579.2 L311.7 575.8 L312.6 570.9 L313.5 570.4 L314.4 572.6 L315.3 571.9 L316.2 569.5 L317.1 569.5 L318.0 572.1 L318.9 572.9 L319.8 573.8 L320.7 574.1 L321.6 574.1 L322.5 571.1 L323.4 572.6 L324.3 571.5 L325.2 571.5 L326.1 572.9 L327.0 570.1 L327.9 571.4 L328.8 572.8 L329.7 573.8 L330.6 571.3 L331.5 572.9 L332.4 573.9 L333.3 573.2 L334.2 573.0 L335.1 571.9 L336.0 570.1 L336.9 570.2 L337.8 570.3 L338.7 574.7 L339.6 576.6 L340.5 576.1 L341.4 576.7 L342.3 573.9 L343.2 571.4 L344.1 572.9 L345.0 575.3 L345.9 574.6 L346.8 573.8 L347.7 575.7 L348.6 575.2 L349.5 573.8 L350.4 573.5 L351.3 576.2 L352.2 576.7 L353.1 574.1 L354.0 574.1 L354.9 574.6 L355.8 574.5 L356.7 574.3 L357.6 577.6 L358.5 576.5 L359.4 575.7 L360.3 576.3 L361.2 579.8 L362.1 575.2 L363.0 570.5 L363.9 572.7 L364.8 571.4 L365.7 569.1 L366.6 568.9 L367.5 568.1 L368.4 569.1 L369.3 567.2 L370.2 563.3 L371.1 563.7 L372.0 561.2 L372.9 555.2 L373.8 556.5 L374.7 555.1 L375.6 552.8 L376.5 550.8 L377.4 546.6 L378.3 544.2 L379.2 545.8 L380.1 547.4 L381.0 549.2 L381.9 550.1 L382.8 558.7 L383.7 569.7 L384.6 574.8 L385.5 579.9 L386.4 583.7 L387.3 587.3 L388.2 592.6 L389.1 595.3 L390.0 595.4 L390.9 596.4 L391.8 597.2 L392.7 594.5 L393.6 593.5 L394.5 595.3 L395.4 593.8 L396.3 590.6 L397.2 590.3 L398.1 587.9 L399.0 584.5 L399.9 581.9 L400.8 581.4 L401.7 579.1 L402.6 578.0 L403.5 577.7 L404.4 579.3 L405.3 578.2 L406.2 577.5 L407.1 579.4 L408.0 581.7 L408.9 577.0 L409.8 570.4 L410.7 573.7 L411.6 576.1 L412.5 575.1 L413.4 575.7 L414.3 579.5 L415.2 579.7 L416.1 579.2 L417.0 578.7 L417.9 579.0 L418.8 578.5 L419.7 577.5 L420.6 576.2 L421.5 574.7 L422.4 575.0 L423.3 575.8 L424.2 575.4 L425.1 576.2 L426.0 575.6 L426.9 576.3 L427.8 574.4 L428.7 576.5 L429.6 578.7 L430.5 577.6 L431.4 575.9 L432.3 577.2 L433.2 576.2 L434.1 575.6 L435.0 574.0 L435.9 572.2 L436.8 575.0 L437.7 576.3 L438.6 575.9 L439.5 574.1 L440.4 575.2 L441.3 573.5 L442.2 571.8 L443.1 572.4 L444.0 574.2 L444.9 575.1 L445.8 577.6 L446.7 577.6 L447.6 576.8 L448.5 574.1 L449.4 571.3 L450.3 570.6 L451.2 573.5 L452.1 576.7 L453.0 575.8 L453.9 572.0 L454.8 573.7 L455.7 574.5 L456.6 572.4 L457.5 572.6 L458.4 572.4 L459.3 573.5 L460.2 573.7 L461.1 572.8 L462.0 571.3 L462.9 569.3 L463.8 569.8 L464.7 567.9 L465.6 572.6 L466.5 574.4 L467.4 572.7 L468.3 575.3 L469.2 574.7 L470.1 571.7 L471.0 571.1 L471.9 572.4 L472.8 571.1 L473.7 566.6 L474.6 570.5 L475.5 572.6 L476.4 570.8 L477.3 573.0 L478.2 575.3 L479.1 573.7 L480.0 573.6 L480.9 575.1 L481.8 573.0 L482.7 573.6 L483.6 576.7 L484.5 576.8 L485.4 572.9 L486.3 573.2 L487.2 575.5 L488.1 576.8 L489.0 575.4 L489.9 574.0 L490.8 573.9 L491.7 571.1 L492.6 573.8 L493.5 576.5 L494.4 577.1 L495.3 575.1 L496.2 572.9 L497.1 575.0 L498.0 573.9 L498.9 574.1 L499.8 575.1 L500.7 573.2 L501.6 577.7 L502.5 577.8 L503.4 576.2 L504.3 574.6 L505.2 575.0 L506.1 574.6 L507.0 572.2 L507.9 569.3 L508.8 570.4 L509.7 570.3 L510.6 569.3 L511.5 566.5 L512.4 563.2 L513.3 558.7 L514.2 552.9 L515.1 549.4 L516.0 545.8 L516.9 540.5 L517.8 536.2 L518.7 530.0 L519.6 527.1 L520.5 526.7 L521.4 524.9 L522.3 525.1 L523.2 530.2 L524.1 535.7 L525.0 541.7 L525.9 552.1 L526.8 565.0 L527.7 577.0 L528.6 588.8 L529.5 598.3 L530.4 605.9 L531.3 617.3 L532.2 623.5 L533.1 625.1 L534.0 624.1 L534.9 622.6 L535.8 619.7 L536.7 615.2 L537.6 609.1 L538.5 602.2 L539.4 600.9 L540.3 598.1 L541.2 594.6 L542.1 591.7 L543.0 588.0 L543.9 585.5 L544.8 581.0 L545.7 580.8 L546.6 580.1 L547.5 580.4 L548.4 577.3 L549.3 575.4 L550.2 575.3 L551.1 576.0 L552.0 575.0 L552.9 576.6 L553.8 576.6 L554.7 575.1 L555.6 574.2 L556.5 574.2 L557.4 577.1 L558.3 575.5 L559.2 572.7 L560.1 573.8 L561.0 572.4 L561.9 573.8 L562.8 574.7 L563.7 573.3 L564.6 573.1 L565.5 574.9 L566.4 575.8 L567.3 575.7 L568.2 574.9 L569.1 573.0 L570.0 573.9 L570.9 573.8 L571.8 574.5 L572.7 573.4 L573.6 573.1 L574.5 573.3 L575.4 574.1 L576.3 574.7 L577.2 575.4 L578.1 575.8 L579.0 575.0 L579.9 577.2 L580.8 575.0 L581.7 573.8 L582.6 574.8 L583.5 574.1 L584.4 573.9 L585.3 574.2 L586.2 573.4 L587.1 574.9 L588.0 572.6 L588.9 573.4 L589.8 576.8 L590.7 577.4 L591.6 575.0 L592.5 572.0 L593.4 572.6 L594.3 574.3 L595.2 576.3 L596.1 575.1 L597.0 575.1 L597.9 575.6 L598.8 574.1 L599.7 572.3 L600.6 573.2 L601.5 574.4 L602.4 574.7 L603.3 572.6 L604.2 571.8 L605.1 571.4 L606.0 571.4 L606.9 573.3 L607.8 573.7 L608.7 575.8 L609.6 576.2 L610.5 575.1 L611.4 574.8 L612.3 574.3 L613.2 575.1 L614.1 576.0 L615.0 576.9 L615.9 575.8 L616.8 577.3 L617.7 577.3 L618.6 575.7 L619.5 573.0 L620.4 572.9 L621.3 574.7 L622.2 574.7 L623.1 574.2 L624.0 577.4 L624.9 576.2 L625.8 575.1 L626.7 575.1 L627.6 572.3 L628.5 570.3 L629.4 572.4 L630.3 572.9 L631.2 573.8 L632.1 573.4 L633.0 570.9 L633.9 572.1 L634.8 575.7 L635.7 576.7 L636.6 574.5 L637.5 574.0 L638.4 574.4 L639.3 575.8 L640.2 579.1 L641.1 577.6 L642.0 574.9 L642.9 577.0 L643.8 577.0 L644.7 575.3 L645.6 575.0 L646.5 573.5 L647.4 570.2 L648.3 568.0 L649.2 567.2 L650.1 568.3 L651.0 569.2 L651.9 568.5 L652.8 568.4 L653.7 562.4 L654.6 560.7 L655.5 560.9 L656.4 557.7 L657.3 549.8 L658.2 545.8 L659.1 540.8 L660.0 533.4 L660.9 531.9 L661.8 528.7 L662.7 526.1 L663.6 527.1 L664.5 527.5 L665.4 530.7 L666.3 538.9 L667.2 546.2 L668.1 556.4 L669.0 564.7 L669.9 579.3 L670.8 590.8 L671.7 601.4 L672.6 610.7 L673.5 617.7 L674.4 619.8 L675.3 621.9 L676.2 622.6 L677.1 621.9 L678.0 617.6 L678.9 612.3 L679.8 608.5 L680.7 602.4 L681.6 599.4 L682.5 596.8 L683.4 594.8 L684.3 594.6 L685.2 590.6 L686.1 587.3 L687.0 583.7 L687.9 584.1 L688.8 584.1 L689.7 580.1 L690.6 577.3 L691.5 575.5 L692.4 576.8 L693.3 580.0 L694.2 577.1 L695.1 578.1 L696.0 579.9 L696.9 579.4 L697.8 578.9 L698.7 578.8 L699.6 578.9 L700.5 575.9 L701.4 576.2 L702.3 576.1 L703.2 573.7 L704.1 574.8 L705.0 577.2 L705.9 579.0 L706.8 577.3 L707.7 577.8 L708.6 576.8 L709.5 578.4 L710.4 577.0 L711.3 579.2 L712.2 581.9 L713.1 579.8 L714.0 577.7 L714.9 574.5 L715.8 575.7 L716.7 576.2 L717.6 574.9 L718.5 574.3 L719.4 572.5 L720.3 572.2 L721.2 571.1 L722.1 571.6 L723.0 574.4 L723.9 574.0 L724.8 576.1 L725.7 579.0 L726.6 577.7 L727.5 574.6 L728.4 574.1 L729.3 574.1 L730.2 576.2 L731.1 579.6 L732.0 579.3 L732.9 575.1 L733.8 573.8 L734.7 575.4 L735.6 572.9 L736.5 574.1 L737.4 572.5 L738.3 575.4 L739.2 576.2 L740.1 574.5 L741.0 573.9 L741.9 576.2 L742.8 576.8 L743.7 577.5 L744.6 579.4 L745.5 576.0 L746.4 575.1 L747.3 579.1 L748.2 580.7 L749.1 575.5 L750.0 573.7 L750.9 573.8 L751.8 575.1 L752.7 575.4 L753.6 573.2 L754.5 572.6 L755.4 572.2 L756.3 573.4 L757.2 573.6 L758.1 574.0 L759.0 573.4 L759.9 572.6 L760.8 570.3 L761.7 571.0 L762.6 572.3 L763.5 572.7 L764.4 571.3 L765.3 572.5 L766.2 575.1 L767.1 574.5 L768.0 572.8 L768.9 573.2 L769.8 573.4 L770.7 574.1 L771.6 573.3 L772.5 572.6 L773.4 573.2 L774.3 572.5 L775.2 575.6 L776.1 577.4 L777.0 576.2 L777.9 573.1 L778.8 574.4 L779.7 576.5 L780.6 576.1 L781.5 575.7 L782.4 575.7 L783.3 576.0 L784.2 573.8 L785.1 571.7 L786.0 575.1 L786.9 578.4 L787.8 576.9 L788.7 576.4 L789.6 576.7 L790.5 572.3 L791.4 570.2 L792.3 571.1 L793.2 573.2 L794.1 574.9 L795.0 572.8 L795.9 570.1 L796.8 569.7 L797.7 566.8 L798.6 563.7 L799.5 560.0 L800.4 556.4 L801.3 554.1 L802.2 550.3 L803.1 546.9 L804.0 548.4 L804.9 551.5 L805.8 550.1 L806.7 550.0 L807.6 556.5 L808.5 564.3 L809.4 569.8 L810.3 579.4 L811.2 580.6 L812.1 581.3 L813.0 590.4 L813.9 598.7 L814.8 599.7 L815.7 599.2 L816.6 602.5 L817.5 603.2 L818.4 598.9 L819.3 598.4 L820.2 597.9 L821.1 595.8 L822.0 590.9 L822.9 587.5 L823.8 587.2 L824.7 585.3 L825.6 582.5 L826.5 580.9 L827.4 581.1 L828.3 580.3 L829.2 582.0 L830.1 579.8 L831.0 580.7 L831.9 580.6 L832.8 579.0 L833.7 578.2 L834.6 579.3 L835.5 577.7 L836.4 576.0 L837.3 577.1 L838.2 577.0 L839.1 575.1 L840.0 576.9 L840.9 574.6 L841.8 576.2 L842.7 575.7 L843.6 573.5 L844.5 574.5 L845.4 574.6 L846.3 575.9 L847.2 575.4 L848.1 576.2 L849.0 577.3 L849.9 577.4 L850.8 575.8 L851.7 576.6 L852.6 572.1 L853.5 571.7 L854.4 572.5 L855.3 570.7 L856.2 571.0 L857.1 573.3 L858.0 571.6 L858.9 573.0 L859.8 576.6 L860.7 577.3 L861.6 575.5 L862.5 576.5 L863.4 577.1 L864.3 576.2 L865.2 574.1 L866.1 572.2 L867.0 572.7 L867.9 576.8 L868.8 576.6 L869.7 575.0 L870.6 575.2 L871.5 576.8 L872.4 576.9 L873.3 574.6 L874.2 572.1 L875.1 572.1 L876.0 572.3 L876.9 572.9 L877.8 577.5 L878.7 579.3 L879.6 576.8 L880.5 575.2 L881.4 574.6 L882.3 574.2 L883.2 573.6 L884.1 573.0 L885.0 573.0 L885.9 573.9 L886.8 575.1 L887.7 576.1 L888.6 576.1 L889.5 574.8 L890.4 575.9 L891.3 574.2 L892.2 574.2 L893.1 575.4 L894.0 573.5 L894.9 573.9 L895.8 572.6 L896.7 574.8 L897.6 577.8 L898.5 577.7 L899.4 574.6 L900.3 575.1 L901.2 579.0 L902.1 579.1 L903.0 577.3 L903.9 573.1 L904.8 577.2 L905.7 577.3 L906.6 574.8 L907.5 576.9 L908.4 579.5 L909.3 577.7 L910.2 573.9 L911.1 573.8 L912.0 578.5 L912.9 578.9 L913.8 577.6 L914.7 578.7 L915.6 575.6 L916.5 573.2 L917.4 574.9 L918.3 575.4 L919.2 574.2 L920.1 576.3 L921.0 575.2 L921.9 576.3 L922.8 577.9 L923.7 578.5 L924.6 577.6 L925.5 572.1 L926.4 569.9 L927.3 571.0 L928.2 573.5 L929.1 575.0 L930.0 572.9 L930.9 572.4 L931.8 573.4 L932.7 575.2 L933.6 578.0 L934.5 575.9 L935.4 579.1 L936.3 580.1 L937.2 576.1 L938.1 574.5 L939.0 574.0 L939.9 573.1 L940.8 572.4 L941.7 572.2 L942.6 575.0 L943.5 575.9 L944.4 574.3 L945.3 575.2 L946.2 573.8 L947.1 573.1 L948.0 574.2 L948.9 575.2 L949.8 578.3 L950.7 579.0 L951.6 578.4 L952.5 576.1 L953.4 572.5 L954.3 572.8 L955.2 575.1 L956.1 577.1 L957.0 575.0 L957.9 575.1 L958.8 571.7 L959.7 572.5 L960.6 574.5 L961.5 577.2 L962.4 577.5 L963.3 576.1 L964.2 575.1 L965.1 571.9 L966.0 571.9 L966.9 577.7 L967.8 581.4 L968.7 578.5 L969.6 575.4 L970.5 574.6 L971.4 572.1 L972.3 573.4 L973.2 575.2 L974.1 577.4 L975.0 577.0 L975.9 576.1 L976.8 573.1 L977.7 573.3 L978.6 574.1 L979.5 576.3 L980.4 576.3 L981.3 574.5 L982.2 573.0 L983.1 577.0 L984.0 576.1 L984.9 577.2 L985.8 581.2 L986.7 580.4 L987.6 577.9 L988.5 576.8 L989.4 574.1 L990.3 574.9 L991.2 577.2 L992.1 576.2 L993.0 575.3 L993.9 573.9 L994.8 574.6 L995.7 575.3 L996.6 577.0 L997.5 580.0 L998.4 578.3 L999.3 578.1 L1000.2 579.2 L1001.1 577.9 L1002.0 577.2 L1002.9 574.3 L1003.8 575.9 L1004.7 577.6 L1005.6 576.7 L1006.5 577.6 L1007.4 577.4 L1008.3 578.8 L1009.2 579.3 L1010.1 576.7 L1011.0 574.3 L1011.9 574.5 L1012.8 576.3 L1013.7 575.7 L1014.6 574.5 L1015.5 578.1 L1016.4 579.2 L1017.3 577.4 L1018.2 577.1 L1019.1 576.4 L1020.0 574.9 L1020.9 576.7 L1021.8 578.6 L1022.7 576.1 L1023.6 572.9 L1024.5 572.2 L1025.4 573.5 L1026.3 573.8 L1027.2 572.9 L1028.1 571.6 L1029.0 573.7 L1029.9 574.7 L1030.8 574.5 L1031.7 573.8 L1032.6 576.0 L1033.5 576.7 L1034.4 576.9 L1035.3 575.5 L1036.2 576.7 L1037.1 576.3 L1038.0 575.0 L1038.9 574.9 L1039.8 573.8 L1040.7 574.5 L1041.6 574.9 L1042.5 575.1 L1043.4 575.8 L1044.3 575.7 L1045.2 573.7 L1046.1 573.6 L1047.0 570.8 L1047.9 573.3 L1048.8 578.7 L1049.7 578.1 L1050.6 577.7 L1051.5 579.7 L1052.4 575.8 L1053.3 574.6 L1054.2 574.4 L1055.1 575.9 L1056.0 574.1 L1056.9 571.7 L1057.8 572.4 L1058.7 574.8 L1059.6 577.5 L1060.5 578.0 L1061.4 578.1 L1062.3 576.9 L1063.2 576.3 L1064.1 578.3 L1065.0 576.0 L1065.9 575.6 L1066.8 574.3 L1067.7 574.0 L1068.6 574.0 L1069.5 574.0 L1070.4 576.2 L1071.3 576.5 L1072.2 578.0 L1073.1 579.0 L1074.0 578.0 L1074.9 577.2 L1075.8 577.0 L1076.7 575.9 L1077.6 575.7 L1078.5 572.9 L1079.4 574.5 L1080.3 576.8 L1081.2 575.0 L1082.1 577.3 L1083.0 579.2" fill="none" stroke="#008000" stroke-width="4.0" stroke-linejoin="round"/>
<path d="M126.3 711.3 L127.2 709.1 L128.1 708.2 L129.0 706.8 L129.9 704.8 L130.8 706.1 L131.7 705.6 L132.6 707.0 L133.5 707.5 L134.4 708.9 L135.3 707.9 L136.2 707.0 L137.1 706.3 L138.0 707.8 L138.9 707.9 L139.8 708.8 L140.7 709.4 L141.6 708.8 L142.5 706.2 L143.4 703.5 L144.3 704.7 L145.2 708.1 L146.1 709.5 L147.0 709.0 L147.9 706.1 L148.8 705.5 L149.7 709.6 L150.6 712.1 L151.5 708.7 L152.4 705.9 L153.3 704.3 L154.2 706.1 L155.1 707.9 L156.0 705.6 L156.9 705.3 L157.8 705.9 L158.7 705.1 L159.6 703.5 L160.5 704.7 L161.4 705.5 L162.3 705.9 L163.2 706.2 L164.1 706.4 L165.0 706.7 L165.9 709.3 L166.8 708.8 L167.7 710.6 L168.6 710.8 L169.5 708.2 L170.4 705.1 L171.3 703.3 L172.2 704.5 L173.1 707.0 L174.0 707.9 L174.9 707.0 L175.8 708.6 L176.7 712.3 L177.6 709.6 L178.5 706.9 L179.4 707.8 L180.3 705.5 L181.2 703.7 L182.1 706.1 L183.0 706.4 L183.9 707.9 L184.8 709.9 L185.7 707.6 L186.6 706.3 L187.5 707.4 L188.4 703.4 L189.3 704.1 L190.2 708.5 L191.1 709.0 L192.0 706.1 L192.9 705.0 L193.8 706.3 L194.7 706.8 L195.6 706.2 L196.5 704.8 L197.4 703.5 L198.3 704.2 L199.2 705.0 L200.1 705.1 L201.0 705.0 L201.9 704.8 L202.8 704.1 L203.7 707.5 L204.6 708.6 L205.5 705.5 L206.4 704.2 L207.3 706.4 L208.2 707.3 L209.1 707.0 L210.0 707.6 L210.9 705.6 L211.8 705.3 L212.7 707.9 L213.6 706.3 L214.5 704.4 L215.4 702.6 L216.3 704.5 L217.2 705.6 L218.1 706.9 L219.0 708.1 L219.9 707.1 L220.8 706.0 L221.7 708.4 L222.6 708.6 L223.5 708.3 L224.4 707.4 L225.3 706.4 L226.2 703.9 L227.1 702.0 L228.0 701.4 L228.9 703.7 L229.8 704.3 L230.7 700.8 L231.6 702.7 L232.5 704.6 L233.4 706.4 L234.3 704.8 L235.2 704.2 L236.1 705.1 L237.0 704.7 L237.9 701.7 L238.8 702.5 L239.7 705.6 L240.6 706.2 L241.5 706.5 L242.4 707.1 L243.3 704.2 L244.2 704.9 L245.1 705.3 L246.0 705.8 L246.9 705.4 L247.8 707.7 L248.7 710.7 L249.6 708.9 L250.5 708.0 L251.4 709.5 L252.3 709.6 L253.2 709.7 L254.1 705.7 L255.0 703.1 L255.9 700.8 L256.8 700.0 L257.7 702.5 L258.6 707.7 L259.5 707.8 L260.4 707.5 L261.3 707.1 L262.2 706.5 L263.1 705.5 L264.0 705.1 L264.9 708.1 L265.8 708.1 L266.7 709.8 L267.6 708.3 L268.5 705.2 L269.4 705.5 L270.3 705.9 L271.2 705.7 L272.1 705.8 L273.0 706.3 L273.9 705.6 L274.8 705.6 L275.7 706.7 L276.6 706.7 L277.5 706.3 L278.4 706.9 L279.3 706.5 L280.2 707.0 L281.1 707.3 L282.0 707.2 L282.9 705.0 L283.8 707.5 L284.7 706.8 L285.6 707.0 L286.5 705.1 L287.4 704.9 L288.3 705.4 L289.2 704.1 L290.1 703.5 L291.0 704.5 L291.9 705.4 L292.8 702.2 L293.7 703.8 L294.6 706.0 L295.5 705.1 L296.4 705.0 L297.3 699.6 L298.2 698.1 L299.1 701.2 L300.0 702.6 L300.9 703.6 L301.8 705.0 L302.7 704.1 L303.6 705.6 L304.5 706.3 L305.4 707.0 L306.3 709.2 L307.2 708.0 L308.1 709.1 L309.0 706.9 L309.9 707.2 L310.8 707.0 L311.7 706.1 L312.6 708.2 L313.5 709.6 L314.4 708.7 L315.3 708.2 L316.2 709.5 L317.1 709.0 L318.0 706.4 L318.9 702.5 L319.8 705.4 L320.7 707.3 L321.6 703.7 L322.5 700.9 L323.4 703.4 L324.3 704.8 L325.2 703.5 L326.1 705.0 L327.0 706.1 L327.9 704.8 L328.8 705.7 L329.7 708.1 L330.6 706.4 L331.5 705.0 L332.4 707.0 L333.3 707.9 L334.2 707.1 L335.1 706.4 L336.0 707.2 L336.9 710.4 L337.8 707.3 L338.7 707.3 L339.6 708.8 L340.5 709.2 L341.4 707.7 L342.3 707.5 L343.2 706.9 L344.1 706.8 L345.0 705.5 L345.9 708.5 L346.8 708.9 L347.7 708.5 L348.6 706.1 L349.5 703.2 L350.4 704.2 L351.3 706.6 L352.2 708.8 L353.1 708.0 L354.0 708.3 L354.9 706.8 L355.8 705.1 L356.7 705.6 L357.6 707.2 L358.5 707.1 L359.4 705.2 L360.3 705.7 L361.2 706.5 L362.1 707.5 L363.0 707.0 L363.9 703.2 L364.8 701.7 L365.7 701.8 L366.6 705.5 L367.5 703.4 L368.4 701.3 L369.3 703.8 L370.2 701.3 L371.1 699.5 L372.0 698.8 L372.9 696.8 L373.8 692.4 L374.7 692.8 L375.6 693.6 L376.5 692.2 L377.4 690.2 L378.3 688.4 L379.2 686.1 L380.1 685.0 L381.0 689.1 L381.9 695.5 L382.8 699.1 L383.7 701.8 L384.6 707.1 L385.5 711.7 L386.4 711.5 L387.3 717.3 L388.2 725.2 L389.1 724.7 L390.0 724.5 L390.9 726.6 L391.8 724.8 L392.7 724.4 L393.6 724.6 L394.5 724.0 L395.4 720.4 L396.3 718.6 L397.2 715.0 L398.1 714.5 L399.0 714.4 L399.9 714.7 L400.8 715.3 L401.7 712.1 L402.6 710.1 L403.5 709.4 L404.4 709.5 L405.3 710.4 L406.2 710.8 L407.1 711.2 L408.0 709.8 L408.9 710.6 L409.8 710.6 L410.7 710.1 L411.6 710.1 L412.5 709.6 L413.4 708.7 L414.3 707.6 L415.2 705.5 L416.1 705.7 L417.0 707.5 L417.9 708.8 L418.8 708.5 L419.7 706.8 L420.6 705.9 L421.5 706.7 L422.4 706.0 L423.3 705.1 L424.2 707.2 L425.1 707.9 L426.0 705.5 L426.9 703.3 L427.8 704.6 L428.7 704.7 L429.6 703.6 L430.5 705.4 L431.4 706.1 L432.3 706.4 L433.2 705.0 L434.1 705.1 L435.0 706.1 L435.9 706.7 L436.8 705.0 L437.7 706.6 L438.6 708.9 L439.5 706.6 L440.4 705.5 L441.3 708.4 L442.2 707.8 L443.1 704.8 L444.0 705.3 L444.9 704.8 L445.8 706.7 L446.7 708.9 L447.6 708.2 L448.5 705.4 L449.4 706.1 L450.3 709.4 L451.2 708.8 L452.1 707.4 L453.0 706.9 L453.9 704.8 L454.8 703.2 L455.7 704.1 L456.6 706.3 L457.5 706.1 L458.4 707.9 L459.3 708.6 L460.2 707.1 L461.1 705.0 L462.0 704.5 L462.9 704.7 L463.8 706.4 L464.7 708.0 L465.6 707.9 L466.5 709.1 L467.4 707.0 L468.3 704.2 L469.2 702.6 L470.1 704.5 L471.0 707.3 L471.9 707.3 L472.8 706.9 L473.7 708.8 L474.6 708.1 L475.5 706.8 L476.4 704.5 L477.3 704.8 L478.2 708.1 L479.1 709.9 L480.0 706.3 L480.9 704.9 L481.8 706.3 L482.7 707.2 L483.6 706.6 L484.5 705.4 L485.4 705.6 L486.3 706.6 L487.2 705.5 L488.1 703.2 L489.0 704.1 L489.9 707.1 L490.8 709.0 L491.7 707.8 L492.6 704.9 L493.5 705.3 L494.4 709.0 L495.3 707.7 L496.2 706.0 L497.1 706.5 L498.0 707.1 L498.9 706.4 L499.8 707.0 L500.7 708.1 L501.6 705.7 L502.5 705.0 L503.4 705.9 L504.3 705.5 L505.2 705.0 L506.1 704.5 L507.0 703.2 L507.9 703.2 L508.8 703.1 L509.7 704.0 L510.6 701.2 L511.5 700.4 L512.4 699.7 L513.3 696.5 L514.2 694.0 L515.1 690.2 L516.0 686.9 L516.9 683.9 L517.8 681.2 L518.7 677.8 L519.6 673.5 L520.5 674.3 L521.4 674.4 L522.3 673.8 L523.2 675.6 L524.1 680.5 L525.0 687.1 L525.9 696.6 L526.8 703.0 L527.7 708.2 L528.6 714.9 L529.5 722.0 L530.4 726.0 L531.3 731.0 L532.2 735.7 L533.1 735.2 L534.0 736.2 L534.9 735.7 L535.8 735.0 L536.7 733.0 L537.6 729.8 L538.5 727.8 L539.4 724.6 L540.3 722.6 L541.2 720.1 L542.1 719.8 L543.0 717.9 L543.9 712.5 L544.8 707.2 L545.7 706.7 L546.6 705.6 L547.5 703.6 L548.4 703.5 L549.3 707.8 L550.2 707.9 L551.1 708.5 L552.0 709.6 L552.9 706.5 L553.8 705.9 L554.7 707.0 L555.6 706.3 L556.5 708.1 L557.4 709.6 L558.3 709.1 L559.2 707.6 L560.1 708.2 L561.0 710.7 L561.9 709.2 L562.8 708.9 L563.7 709.3 L564.6 706.5 L565.5 708.0 L566.4 707.5 L567.3 708.4 L568.2 707.6 L569.1 706.9 L570.0 707.5 L570.9 709.3 L571.8 709.3 L572.7 708.5 L573.6 705.2 L574.5 704.7 L575.4 704.8 L576.3 705.9 L577.2 708.0 L578.1 707.9 L579.0 704.8 L579.9 702.4 L580.8 703.3 L581.7 703.0 L582.6 704.0 L583.5 706.2 L584.4 707.8 L585.3 708.5 L586.2 704.4 L587.1 701.8 L588.0 702.6 L588.9 706.2 L589.8 704.5 L590.7 704.8 L591.6 704.8 L592.5 704.1 L593.4 705.5 L594.3 705.0 L595.2 706.0 L596.1 703.9 L597.0 704.1 L597.9 704.9 L598.8 706.3 L599.7 708.6 L600.6 709.8 L601.5 710.3 L602.4 709.0 L603.3 705.6 L604.2 707.6 L605.1 711.0 L606.0 711.7 L606.9 710.4 L607.8 708.9 L608.7 709.4 L609.6 708.1 L610.5 707.5 L611.4 709.4 L612.3 709.0 L613.2 708.8 L614.1 709.8 L615.0 709.7 L615.9 707.5 L616.8 706.1 L617.7 706.8 L618.6 707.0 L619.5 706.7 L620.4 705.4 L621.3 706.4 L622.2 706.9 L623.1 706.2 L624.0 707.8 L624.9 708.2 L625.8 709.4 L626.7 710.0 L627.6 708.8 L628.5 707.6 L629.4 709.1 L630.3 709.5 L631.2 706.3 L632.1 708.4 L633.0 710.6 L633.9 708.6 L634.8 706.2 L635.7 704.4 L636.6 705.1 L637.5 706.2 L638.4 704.1 L639.3 703.5 L640.2 704.0 L641.1 706.5 L642.0 706.8 L642.9 703.6 L643.8 701.7 L644.7 700.6 L645.6 705.3 L646.5 707.3 L647.4 705.5 L648.3 703.2 L649.2 705.2 L650.1 706.3 L651.0 702.0 L651.9 701.2 L652.8 702.5 L653.7 700.4 L654.6 699.4 L655.5 696.0 L656.4 692.9 L657.3 689.2 L658.2 687.9 L659.1 687.2 L660.0 685.5 L660.9 684.4 L661.8 681.9 L662.7 679.7 L663.6 681.2 L664.5 682.4 L665.4 682.9 L666.3 686.7 L667.2 692.1 L668.1 697.0 L669.0 702.8 L669.9 710.9 L670.8 717.9 L671.7 723.0 L672.6 730.0 L673.5 735.2 L674.4 736.4 L675.3 737.5 L676.2 742.4 L677.1 742.3 L678.0 739.5 L678.9 734.9 L679.8 728.4 L680.7 722.8 L681.6 724.8 L682.5 723.3 L683.4 717.3 L684.3 715.4 L685.2 714.3 L686.1 713.4 L687.0 709.9 L687.9 711.1 L688.8 709.1 L689.7 704.9 L690.6 704.3 L691.5 707.6 L692.4 708.7 L693.3 705.8 L694.2 705.1 L695.1 705.7 L696.0 707.1 L696.9 705.9 L697.8 704.4 L698.7 703.7 L699.6 704.1 L700.5 706.5 L701.4 707.2 L702.3 705.6 L703.2 704.7 L704.1 703.6 L705.0 705.7 L705.9 706.5 L706.8 706.6 L707.7 704.4 L708.6 707.2 L709.5 706.9 L710.4 706.6 L711.3 706.5 L712.2 705.8 L713.1 707.2 L714.0 707.4 L714.9 707.0 L715.8 708.3 L716.7 707.6 L717.6 706.2 L718.5 706.5 L719.4 707.3 L720.3 709.8 L721.2 712.1 L722.1 710.2 L723.0 710.9 L723.9 709.0 L724.8 706.4 L725.7 706.1 L726.6 707.5 L727.5 708.6 L728.4 710.1 L729.3 708.9 L730.2 708.7 L731.1 709.2 L732.0 707.2 L732.9 708.3 L733.8 709.8 L734.7 709.5 L735.6 711.7 L736.5 710.7 L737.4 709.2 L738.3 709.4 L739.2 708.4 L740.1 705.2 L741.0 707.3 L741.9 707.8 L742.8 709.3 L743.7 706.6 L744.6 708.1 L745.5 711.3 L746.4 712.4 L747.3 709.8 L748.2 708.7 L749.1 708.0 L750.0 706.3 L750.9 705.3 L751.8 705.3 L752.7 707.1 L753.6 707.8 L754.5 706.5 L755.4 706.9 L756.3 706.0 L757.2 704.3 L758.1 705.9 L759.0 705.6 L759.9 707.3 L760.8 707.8 L761.7 707.1 L762.6 706.6 L763.5 705.0 L764.4 704.4 L765.3 706.5 L766.2 706.5 L767.1 708.6 L768.0 707.3 L768.9 702.8 L769.8 702.4 L770.7 705.0 L771.6 705.5 L772.5 705.4 L773.4 703.7 L774.3 703.5 L775.2 703.3 L776.1 702.4 L777.0 703.0 L777.9 703.1 L778.8 703.6 L779.7 703.8 L780.6 706.1 L781.5 705.1 L782.4 702.9 L783.3 703.4 L784.2 706.7 L785.1 708.0 L786.0 706.0 L786.9 701.5 L787.8 699.9 L788.7 703.1 L789.6 704.5 L790.5 706.1 L791.4 706.8 L792.3 706.8 L793.2 706.9 L794.1 704.9 L795.0 702.7 L795.9 701.5 L796.8 701.7 L797.7 699.7 L798.6 702.4 L799.5 701.5 L800.4 698.2 L801.3 694.5 L802.2 692.7 L803.1 690.4 L804.0 690.0 L804.9 690.7 L805.8 689.9 L806.7 690.4 L807.6 693.0 L808.5 695.3 L809.4 698.9 L810.3 702.8 L811.2 705.9 L812.1 711.1 L813.0 717.2 L813.9 720.7 L814.8 721.0 L815.7 722.2 L816.6 722.3 L817.5 722.0 L818.4 719.6 L819.3 721.5 L820.2 722.6 L821.1 718.8 L822.0 717.4 L822.9 715.9 L823.8 715.8 L824.7 713.7 L825.6 714.4 L826.5 711.6 L827.4 708.4 L828.3 709.5 L829.2 709.8 L830.1 708.1 L831.0 708.2 L831.9 710.4 L832.8 710.5 L833.7 711.1 L834.6 709.3 L835.5 706.9 L836.4 703.0 L837.3 704.7 L838.2 706.5 L839.1 706.7 L840.0 707.2 L840.9 705.1 L841.8 706.0 L842.7 706.1 L843.6 705.0 L844.5 705.4 L845.4 706.5 L846.3 708.0 L847.2 706.8 L848.1 704.9 L849.0 705.6 L849.9 704.4 L850.8 703.9 L851.7 703.7 L852.6 706.9 L853.5 709.0 L854.4 707.5 L855.3 707.1 L856.2 706.8 L857.1 706.1 L858.0 707.3 L858.9 706.3 L859.8 706.0 L860.7 705.4 L861.6 708.8 L862.5 708.6 L863.4 706.9 L864.3 707.2 L865.2 707.7 L866.1 705.8 L867.0 707.5 L867.9 708.7 L868.8 708.0 L869.7 708.4 L870.6 707.6 L871.5 707.6 L872.4 709.4 L873.3 708.6 L874.2 708.7 L875.1 707.7 L876.0 706.9 L876.9 707.0 L877.8 705.3 L878.7 705.1 L879.6 706.5 L880.5 708.0 L881.4 708.9 L882.3 707.7 L883.2 702.6 L884.1 704.8 L885.0 708.2 L885.9 706.9 L886.8 708.1 L887.7 707.1 L888.6 705.8 L889.5 706.1 L890.4 706.1 L891.3 710.0 L892.2 708.6 L893.1 706.1 L894.0 704.9 L894.9 706.6 L895.8 708.1 L896.7 707.8 L897.6 709.0 L898.5 707.1 L899.4 705.9 L900.3 704.6 L901.2 705.2 L902.1 709.1 L903.0 707.6 L903.9 707.1 L904.8 709.4 L905.7 707.3 L906.6 707.3 L907.5 707.9 L908.4 712.6 L909.3 712.1 L910.2 710.3 L911.1 711.3 L912.0 707.9 L912.9 705.4 L913.8 705.4 L914.7 709.3 L915.6 710.9 L916.5 710.6 L917.4 707.3 L918.3 705.2 L919.2 707.2 L920.1 711.0 L921.0 710.4 L921.9 706.5 L922.8 709.9 L923.7 710.8 L924.6 709.2 L925.5 707.9 L926.4 707.0 L927.3 706.4 L928.2 706.5 L929.1 707.1 L930.0 709.4 L930.9 709.1 L931.8 708.1 L932.7 708.7 L933.6 709.2 L934.5 708.9 L935.4 707.2 L936.3 707.5 L937.2 707.2 L938.1 706.6 L939.0 707.3 L939.9 706.0 L940.8 706.8 L941.7 705.4 L942.6 708.0 L943.5 710.5 L944.4 709.5 L945.3 707.7 L946.2 707.3 L947.1 707.3 L948.0 704.6 L948.9 705.0 L949.8 705.6 L950.7 705.5 L951.6 705.8 L952.5 706.7 L953.4 706.9 L954.3 706.0 L955.2 707.1 L956.1 707.2 L957.0 708.1 L957.9 706.9 L958.8 704.9 L959.7 706.3 L960.6 712.4 L961.5 711.6 L962.4 704.7 L963.3 703.0 L964.2 705.7 L965.1 705.7 L966.0 706.5 L966.9 705.9 L967.8 707.3 L968.7 707.1 L969.6 705.4 L970.5 706.2 L971.4 707.6 L972.3 708.2 L973.2 705.1 L974.1 705.1 L975.0 705.6 L975.9 707.7 L976.8 709.9 L977.7 707.2 L978.6 703.4 L979.5 706.3 L980.4 707.3 L981.3 705.1 L982.2 705.0 L983.1 707.0 L984.0 705.9 L984.9 705.8 L985.8 705.9 L986.7 705.3 L987.6 707.3 L988.5 707.0 L989.4 706.9 L990.3 706.5 L991.2 708.3 L992.1 708.8 L993.0 708.7 L993.9 707.9 L994.8 705.4 L995.7 705.4 L996.6 706.5 L997.5 708.9 L998.4 708.1 L999.3 707.1 L1000.2 707.5 L1001.1 708.4 L1002.0 707.9 L1002.9 708.0 L1003.8 707.4 L1004.7 705.2 L1005.6 705.6 L1006.5 706.5 L1007.4 706.1 L1008.3 709.0 L1009.2 710.7 L1010.1 708.2 L1011.0 707.4 L1011.9 707.2 L1012.8 708.3 L1013.7 709.1 L1014.6 709.1 L1015.5 708.5 L1016.4 707.7 L1017.3 708.9 L1018.2 709.4 L1019.1 709.7 L1020.0 708.7 L1020.9 706.1 L1021.8 706.0 L1022.7 707.4 L1023.6 708.4 L1024.5 707.5 L1025.4 709.4 L1026.3 708.8 L1027.2 708.9 L1028.1 709.8 L1029.0 707.6 L1029.9 706.9 L1030.8 707.5 L1031.7 706.9 L1032.6 706.1 L1033.5 705.7 L1034.4 705.9 L1035.3 709.6 L1036.2 707.0 L1037.1 705.3 L1038.0 706.6 L1038.9 707.1 L1039.8 706.2 L1040.7 705.6 L1041.6 705.3 L1042.5 708.4 L1043.4 711.2 L1044.3 711.3 L1045.2 710.3 L1046.1 708.8 L1047.0 709.6 L1047.9 711.8 L1048.8 712.1 L1049.7 709.7 L1050.6 710.6 L1051.5 712.2 L1052.4 710.2 L1053.3 708.6 L1054.2 708.7 L1055.1 708.0 L1056.0 706.6 L1056.9 707.6 L1057.8 707.2 L1058.7 706.7 L1059.6 705.8 L1060.5 706.1 L1061.4 706.9 L1062.3 707.2 L1063.2 707.8 L1064.1 711.0 L1065.0 712.1 L1065.9 712.7 L1066.8 710.5 L1067.7 710.4 L1068.6 708.7 L1069.5 706.3 L1070.4 706.0 L1071.3 706.8 L1072.2 705.9 L1073.1 706.1 L1074.0 705.6 L1074.9 707.5 L1075.8 706.3 L1076.7 708.0 L1077.6 707.5 L1078.5 704.9 L1079.4 708.6 L1080.3 711.5 L1081.2 707.5 L1082.1 706.5 L1083.0 710.0" fill="none" stroke="#0000ff" stroke-width="4.0" stroke-linejoin="round"/>
<circle cx="380" cy="125.7" r="8.2" fill="#111"/>
<circle cx="522" cy="70.5" r="8.2" fill="#111"/>
<circle cx="663.3" cy="76.2" r="8.2" fill="#111"/>
<circle cx="806" cy="127.6" r="8.2" fill="#111"/>
<text transform="translate(1086.5 289.0) scale(1.022 1.04)" font-size="36.3" fill="#e3182f" text-anchor="end" >GF/PDA/TiO<tspan font-size="0.68em" dy="0.4265em">2</tspan><tspan dy="-0.2900em">​</tspan>-NT</text>
<text transform="translate(1090.0 478.6) scale(1.022 1.04)" font-size="36.3" fill="#f08a2a" text-anchor="end" >GF/PDA/TiO<tspan font-size="0.68em" dy="0.4265em">2</tspan><tspan dy="-0.2900em">​</tspan>-NT/Ru</text>
<text transform="translate(1090.0 643.2) scale(1.022 1.04)" font-size="36.3" fill="#1e8a2e" text-anchor="end" >GF/PDA/TiO<tspan font-size="0.68em" dy="0.4265em">2</tspan><tspan dy="-0.2900em">​</tspan>-NT/SnO<tspan font-size="0.68em" dy="0.4265em">2</tspan><tspan dy="-0.2900em">​</tspan></text>
<text transform="translate(1089.5 779.0) scale(1.022 1.04)" font-size="36.3" fill="#1515f0" text-anchor="end" >GF/PDA/TiO<tspan font-size="0.68em" dy="0.4265em">2</tspan><tspan dy="-0.2900em">​</tspan>-NT/SnO<tspan font-size="0.68em" dy="0.4265em">2</tspan><tspan dy="-0.2900em">​</tspan>/Ru</text>
<rect x="115.4" y="1062.7" width="977.6" height="788.3" fill="none" stroke="#262626" stroke-width="4.2"/>
<path d="M125.0 1851.0V1835.0M220.9 1851.0V1843.5M316.7 1851.0V1835.0M412.6 1851.0V1843.5M508.4 1851.0V1835.0M604.3 1851.0V1843.5M700.2 1851.0V1835.0M796.0 1851.0V1843.5M891.9 1851.0V1835.0M987.7 1851.0V1843.5M1083.6 1851.0V1835.0" stroke="#262626" stroke-width="3.2" fill="none"/>
<text transform="translate(125.0 1902.4) scale(0.990 1.04)" font-size="45.0" fill="#1a1a1a" text-anchor="middle" >3460</text>
<text transform="translate(316.7 1902.4) scale(0.990 1.04)" font-size="45.0" fill="#1a1a1a" text-anchor="middle" >3480</text>
<text transform="translate(508.4 1902.4) scale(0.990 1.04)" font-size="45.0" fill="#1a1a1a" text-anchor="middle" >3500</text>
<text transform="translate(700.2 1902.4) scale(0.990 1.04)" font-size="45.0" fill="#1a1a1a" text-anchor="middle" >3520</text>
<text transform="translate(891.9 1902.4) scale(0.990 1.04)" font-size="45.0" fill="#1a1a1a" text-anchor="middle" >3540</text>
<text transform="translate(1083.6 1902.4) scale(0.990 1.04)" font-size="45.0" fill="#1a1a1a" text-anchor="middle" >3560</text>
<text transform="translate(604.5 1978.0) scale(1.050 1.04)" font-size="46.5" fill="#1a1a1a" text-anchor="middle" >Magnetic field (G)</text>
<text transform="translate(60.9 1455.5) rotate(-90) scale(1.042 1.04)" font-size="47" fill="#1a1a1a" text-anchor="middle" >Intensity (a.u.)</text>
<text transform="translate(143.0 1131.0) scale(1.106 1.04)" font-size="75.6" fill="#0a0a0a" text-anchor="start" >c</text>
<path transform="translate(863.3 1092.3)" d="M0 20.48 C-3.07 15.36 -10.75 11.26 -10.75 5.63 C-10.75 1.54 -7.99 0 -5.43 0 C-2.87 0 -0.82 1.54 0 3.58 C0.82 1.54 2.87 0 5.43 0 C7.99 0 10.75 1.54 10.75 5.63 C10.75 11.26 3.07 15.36 0 20.48 Z" fill="#111"/>
<text transform="translate(889.5 1114.0) scale(1.000 1.04)" font-size="41" fill="#1a1a1a" text-anchor="start" >DMPO-·O<tspan font-size="0.68em" dy="0.3em">2</tspan></text>
<line x1="1073" y1="1089.5" x2="1079" y2="1089.5" stroke="#222" stroke-width="2"/>
<line x1="403.3" y1="1166" x2="403.3" y2="1848" stroke="#2e2e2e" stroke-width="3.2" stroke-dasharray="10.5 8.3"/>
<line x1="501.8" y1="1162" x2="501.8" y2="1848" stroke="#2e2e2e" stroke-width="3.2" stroke-dasharray="10.5 8.3"/>
<line x1="633.2" y1="1162" x2="633.2" y2="1848" stroke="#2e2e2e" stroke-width="3.2" stroke-dasharray="10.5 8.3"/>
<line x1="763.9" y1="1170" x2="763.9" y2="1848" stroke="#2e2e2e" stroke-width="3.2" stroke-dasharray="10.5 8.3"/>
<path d="M125.0 1206.7 L125.9 1207.0 L126.8 1207.3 L127.7 1206.2 L128.6 1206.5 L129.5 1205.3 L130.4 1205.9 L131.3 1206.7 L132.2 1207.6 L133.1 1206.8 L134.0 1206.5 L134.9 1208.2 L135.8 1208.4 L136.7 1206.8 L137.6 1207.0 L138.5 1206.7 L139.4 1207.0 L140.3 1206.9 L141.2 1206.1 L142.1 1206.6 L143.0 1206.1 L143.9 1206.1 L144.8 1206.2 L145.7 1205.2 L146.6 1205.9 L147.5 1207.8 L148.4 1208.9 L149.3 1208.8 L150.2 1208.1 L151.1 1209.0 L152.0 1210.0 L152.9 1209.0 L153.8 1206.4 L154.7 1205.9 L155.6 1208.0 L156.5 1209.1 L157.4 1208.5 L158.3 1208.7 L159.2 1208.3 L160.1 1208.1 L161.0 1208.1 L161.9 1207.8 L162.8 1207.9 L163.7 1209.4 L164.6 1208.8 L165.5 1207.1 L166.4 1206.6 L167.3 1206.4 L168.2 1206.9 L169.1 1205.9 L170.0 1206.7 L170.9 1207.9 L171.8 1208.1 L172.7 1207.5 L173.6 1206.5 L174.5 1207.4 L175.4 1207.7 L176.3 1208.3 L177.2 1207.9 L178.1 1208.9 L179.0 1208.4 L179.9 1208.0 L180.8 1207.0 L181.7 1206.6 L182.6 1207.1 L183.5 1207.9 L184.4 1207.1 L185.3 1207.4 L186.2 1208.5 L187.1 1208.0 L188.0 1207.2 L188.9 1206.9 L189.8 1205.4 L190.7 1205.5 L191.6 1208.0 L192.5 1210.5 L193.4 1210.8 L194.3 1210.3 L195.2 1208.3 L196.1 1207.1 L197.0 1207.3 L197.9 1205.2 L198.8 1204.0 L199.7 1206.6 L200.6 1208.2 L201.5 1208.4 L202.4 1208.8 L203.3 1208.2 L204.2 1207.1 L205.1 1205.9 L206.0 1206.0 L206.9 1205.7 L207.8 1206.9 L208.7 1208.8 L209.6 1208.1 L210.5 1207.5 L211.4 1207.6 L212.3 1208.9 L213.2 1206.4 L214.1 1208.4 L215.0 1212.3 L215.9 1209.0 L216.8 1207.1 L217.7 1208.2 L218.6 1208.8 L219.5 1208.3 L220.4 1207.4 L221.3 1207.7 L222.2 1206.4 L223.1 1206.0 L224.0 1206.4 L224.9 1207.3 L225.8 1206.8 L226.7 1206.3 L227.6 1206.5 L228.5 1206.0 L229.4 1206.1 L230.3 1206.3 L231.2 1205.9 L232.1 1205.3 L233.0 1205.6 L233.9 1206.6 L234.8 1205.2 L235.7 1206.0 L236.6 1205.7 L237.5 1205.1 L238.4 1204.7 L239.3 1205.8 L240.2 1206.4 L241.1 1207.1 L242.0 1206.0 L242.9 1204.9 L243.8 1205.3 L244.7 1207.1 L245.6 1207.2 L246.5 1206.9 L247.4 1207.9 L248.3 1207.1 L249.2 1206.4 L250.1 1206.4 L251.0 1205.6 L251.9 1205.8 L252.8 1205.6 L253.7 1206.9 L254.6 1207.3 L255.5 1207.0 L256.4 1207.3 L257.3 1206.5 L258.2 1206.8 L259.1 1206.3 L260.0 1205.7 L260.9 1207.5 L261.8 1209.4 L262.7 1210.1 L263.6 1207.9 L264.5 1207.6 L265.4 1207.9 L266.3 1206.5 L267.2 1207.1 L268.1 1206.8 L269.0 1208.9 L269.9 1207.5 L270.8 1206.4 L271.7 1206.8 L272.6 1205.7 L273.5 1205.9 L274.4 1206.1 L275.3 1206.7 L276.2 1207.4 L277.1 1207.7 L278.0 1207.2 L278.9 1206.9 L279.8 1206.0 L280.7 1204.3 L281.6 1204.1 L282.5 1205.3 L283.4 1204.6 L284.3 1204.8 L285.2 1205.6 L286.1 1205.2 L287.0 1204.6 L287.9 1204.6 L288.8 1205.9 L289.7 1206.5 L290.6 1204.6 L291.5 1205.4 L292.4 1206.8 L293.3 1206.4 L294.2 1205.7 L295.1 1206.3 L296.0 1207.1 L296.9 1207.1 L297.8 1205.2 L298.7 1205.5 L299.6 1206.9 L300.5 1207.5 L301.4 1207.5 L302.3 1207.8 L303.2 1208.2 L304.1 1208.7 L305.0 1209.5 L305.9 1207.3 L306.8 1206.2 L307.7 1205.9 L308.6 1207.4 L309.5 1207.6 L310.4 1206.8 L311.3 1206.8 L312.2 1208.9 L313.1 1208.6 L314.0 1207.8 L314.9 1206.3 L315.8 1205.7 L316.7 1204.7 L317.6 1207.6 L318.5 1208.6 L319.4 1207.9 L320.3 1206.1 L321.2 1206.5 L322.1 1207.1 L323.0 1207.0 L323.9 1206.7 L324.8 1207.1 L325.7 1208.0 L326.6 1207.2 L327.5 1207.7 L328.4 1207.6 L329.3 1206.7 L330.2 1205.9 L331.1 1204.2 L332.0 1205.6 L332.9 1207.1 L333.8 1205.6 L334.7 1204.7 L335.6 1206.3 L336.5 1206.1 L337.4 1207.4 L338.3 1206.4 L339.2 1203.4 L340.1 1202.0 L341.0 1206.1 L341.9 1207.3 L342.8 1206.9 L343.7 1206.9 L344.6 1206.4 L345.5 1206.2 L346.4 1207.4 L347.3 1208.0 L348.2 1207.3 L349.1 1207.9 L350.0 1206.9 L350.9 1204.8 L351.8 1205.9 L352.7 1205.9 L353.6 1203.3 L354.5 1203.6 L355.4 1204.4 L356.3 1203.6 L357.2 1203.7 L358.1 1203.3 L359.0 1202.7 L359.9 1202.9 L360.8 1202.9 L361.7 1203.0 L362.6 1202.7 L363.5 1201.9 L364.4 1201.4 L365.3 1201.7 L366.2 1202.0 L367.1 1201.5 L368.0 1202.2 L368.9 1201.5 L369.8 1202.3 L370.7 1200.8 L371.6 1199.5 L372.5 1199.1 L373.4 1199.4 L374.3 1198.5 L375.2 1197.1 L376.1 1197.2 L377.0 1197.0 L377.9 1196.5 L378.8 1195.4 L379.7 1192.2 L380.6 1192.2 L381.5 1192.1 L382.4 1192.7 L383.3 1192.5 L384.2 1189.3 L385.1 1188.0 L386.0 1188.1 L386.9 1188.4 L387.8 1187.0 L388.7 1184.4 L389.6 1183.3 L390.5 1181.6 L391.4 1180.2 L392.3 1178.1 L393.2 1176.3 L394.1 1173.7 L395.0 1170.7 L395.9 1168.9 L396.8 1168.2 L397.7 1166.3 L398.6 1165.2 L399.5 1165.3 L400.4 1165.7 L401.3 1165.2 L402.2 1163.9 L403.1 1164.2 L404.0 1164.9 L404.9 1165.1 L405.8 1166.7 L406.7 1167.1 L407.6 1167.5 L408.5 1169.6 L409.4 1171.2 L410.3 1174.2 L411.2 1176.5 L412.1 1180.9 L413.0 1184.9 L413.9 1187.0 L414.8 1190.1 L415.7 1193.7 L416.6 1198.6 L417.5 1204.3 L418.4 1210.2 L419.3 1214.2 L420.2 1217.6 L421.1 1222.8 L422.0 1226.5 L422.9 1232.0 L423.8 1235.7 L424.7 1237.4 L425.6 1237.5 L426.5 1238.9 L427.4 1241.6 L428.3 1244.2 L429.2 1246.0 L430.1 1246.7 L431.0 1248.9 L431.9 1250.3 L432.8 1250.5 L433.7 1249.1 L434.6 1248.8 L435.5 1249.8 L436.4 1248.6 L437.3 1245.7 L438.2 1246.0 L439.1 1245.5 L440.0 1243.4 L440.9 1242.0 L441.8 1239.0 L442.7 1235.7 L443.6 1233.2 L444.5 1232.2 L445.4 1228.3 L446.3 1224.2 L447.2 1223.4 L448.1 1222.7 L449.0 1221.6 L449.9 1221.7 L450.8 1219.1 L451.7 1217.7 L452.6 1217.5 L453.5 1216.8 L454.4 1214.4 L455.3 1213.2 L456.2 1213.9 L457.1 1214.9 L458.0 1214.6 L458.9 1214.3 L459.8 1213.4 L460.7 1213.7 L461.6 1212.9 L462.5 1211.8 L463.4 1211.3 L464.3 1210.4 L465.2 1208.8 L466.1 1206.8 L467.0 1206.9 L467.9 1206.4 L468.8 1205.9 L469.7 1204.8 L470.6 1203.7 L471.5 1203.8 L472.4 1204.0 L473.3 1202.4 L474.2 1200.8 L475.1 1200.1 L476.0 1199.4 L476.9 1197.3 L477.8 1196.1 L478.7 1194.4 L479.6 1192.6 L480.5 1192.8 L481.4 1191.7 L482.3 1189.0 L483.2 1187.2 L484.1 1186.5 L485.0 1185.1 L485.9 1182.2 L486.8 1181.0 L487.7 1177.9 L488.6 1173.2 L489.5 1172.1 L490.4 1171.2 L491.3 1169.4 L492.2 1168.5 L493.1 1166.9 L494.0 1165.4 L494.9 1163.3 L495.8 1161.5 L496.7 1161.7 L497.6 1160.9 L498.5 1161.5 L499.4 1162.0 L500.3 1163.3 L501.2 1161.2 L502.1 1159.9 L503.0 1162.8 L503.9 1163.2 L504.8 1164.1 L505.7 1164.4 L506.6 1163.2 L507.5 1164.0 L508.4 1166.6 L509.3 1167.4 L510.2 1169.2 L511.1 1174.3 L512.0 1179.9 L512.9 1182.3 L513.8 1185.4 L514.7 1191.0 L515.6 1194.8 L516.5 1197.8 L517.4 1201.1 L518.3 1204.3 L519.2 1209.3 L520.1 1211.3 L521.0 1214.6 L521.9 1215.7 L522.8 1214.3 L523.7 1214.1 L524.6 1214.0 L525.5 1214.7 L526.4 1214.7 L527.3 1213.5 L528.2 1212.5 L529.1 1211.0 L530.0 1210.5 L530.9 1208.9 L531.8 1206.2 L532.7 1204.4 L533.6 1204.2 L534.5 1202.2 L535.4 1200.9 L536.3 1200.2 L537.2 1200.3 L538.1 1199.5 L539.0 1198.5 L539.9 1199.2 L540.8 1200.4 L541.7 1203.1 L542.6 1205.7 L543.5 1206.7 L544.4 1207.6 L545.3 1208.4 L546.2 1208.6 L547.1 1210.3 L548.0 1213.0 L548.9 1217.5 L549.8 1220.1 L550.7 1222.2 L551.6 1225.9 L552.5 1229.4 L553.4 1233.1 L554.3 1235.6 L555.2 1238.2 L556.1 1241.5 L557.0 1244.4 L557.9 1247.4 L558.8 1249.0 L559.7 1251.1 L560.6 1253.2 L561.5 1254.1 L562.4 1255.8 L563.3 1257.0 L564.2 1256.3 L565.1 1256.4 L566.0 1254.6 L566.9 1253.5 L567.8 1252.7 L568.7 1250.7 L569.6 1247.6 L570.5 1245.9 L571.4 1245.3 L572.3 1243.0 L573.2 1241.2 L574.1 1239.6 L575.0 1236.6 L575.9 1233.5 L576.8 1231.1 L577.7 1230.8 L578.6 1230.6 L579.5 1226.8 L580.4 1224.4 L581.3 1224.5 L582.2 1224.8 L583.1 1223.0 L584.0 1221.7 L584.9 1220.9 L585.8 1219.9 L586.7 1217.9 L587.6 1216.8 L588.5 1217.6 L589.4 1217.7 L590.3 1214.7 L591.2 1214.1 L592.1 1213.6 L593.0 1212.9 L593.9 1212.3 L594.8 1211.5 L595.7 1211.2 L596.6 1209.2 L597.5 1207.8 L598.4 1208.1 L599.3 1209.2 L600.2 1209.8 L601.1 1207.5 L602.0 1206.4 L602.9 1204.0 L603.8 1204.6 L604.7 1204.6 L605.6 1202.9 L606.5 1202.0 L607.4 1200.2 L608.3 1198.8 L609.2 1198.3 L610.1 1197.4 L611.0 1195.6 L611.9 1197.4 L612.8 1197.4 L613.7 1194.4 L614.6 1193.1 L615.5 1192.1 L616.4 1191.2 L617.3 1187.0 L618.2 1184.3 L619.1 1182.3 L620.0 1180.7 L620.9 1176.6 L621.8 1172.8 L622.7 1169.7 L623.6 1168.6 L624.5 1168.0 L625.4 1166.5 L626.3 1165.7 L627.2 1163.1 L628.1 1163.4 L629.0 1163.7 L629.9 1161.9 L630.8 1160.0 L631.7 1159.0 L632.6 1158.4 L633.5 1160.1 L634.4 1159.9 L635.3 1160.0 L636.2 1160.7 L637.1 1162.2 L638.0 1164.8 L638.9 1166.1 L639.8 1166.6 L640.7 1168.4 L641.6 1172.3 L642.5 1174.8 L643.4 1176.7 L644.3 1181.3 L645.2 1185.8 L646.1 1188.9 L647.0 1192.9 L647.9 1198.0 L648.8 1201.4 L649.7 1203.0 L650.6 1206.9 L651.5 1209.8 L652.4 1212.0 L653.3 1213.6 L654.2 1215.0 L655.1 1214.9 L656.0 1216.7 L656.9 1217.6 L657.8 1216.1 L658.7 1215.6 L659.6 1215.4 L660.5 1215.8 L661.4 1215.8 L662.3 1214.6 L663.2 1214.1 L664.1 1211.1 L665.0 1209.5 L665.9 1207.3 L666.8 1204.2 L667.7 1203.2 L668.6 1202.8 L669.5 1201.1 L670.4 1200.1 L671.3 1200.2 L672.2 1199.7 L673.1 1200.7 L674.0 1201.5 L674.9 1203.1 L675.8 1203.7 L676.7 1202.6 L677.6 1204.7 L678.5 1209.3 L679.4 1213.9 L680.3 1215.5 L681.2 1217.6 L682.1 1220.7 L683.0 1225.2 L683.9 1226.8 L684.8 1229.8 L685.7 1232.6 L686.6 1232.9 L687.5 1234.1 L688.4 1239.2 L689.3 1244.4 L690.2 1247.6 L691.1 1249.6 L692.0 1253.0 L692.9 1253.6 L693.8 1254.9 L694.7 1255.0 L695.6 1254.2 L696.5 1254.4 L697.4 1254.1 L698.3 1253.0 L699.2 1252.9 L700.1 1252.7 L701.0 1253.9 L701.9 1253.0 L702.8 1249.2 L703.7 1246.7 L704.6 1246.2 L705.5 1244.7 L706.4 1241.4 L707.3 1240.6 L708.2 1239.6 L709.1 1239.0 L710.0 1240.2 L710.9 1236.5 L711.8 1231.9 L712.7 1229.2 L713.6 1229.1 L714.5 1228.1 L715.4 1227.1 L716.3 1226.6 L717.2 1225.8 L718.1 1223.0 L719.0 1221.9 L719.9 1220.0 L720.8 1217.9 L721.7 1216.1 L722.6 1214.6 L723.5 1213.9 L724.4 1215.4 L725.3 1215.2 L726.2 1214.0 L727.1 1214.2 L728.0 1213.4 L728.9 1212.1 L729.8 1210.7 L730.7 1210.4 L731.6 1211.0 L732.5 1210.4 L733.4 1209.4 L734.3 1209.4 L735.2 1208.1 L736.1 1206.6 L737.0 1207.4 L737.9 1206.8 L738.8 1206.6 L739.7 1203.3 L740.6 1201.2 L741.5 1202.6 L742.4 1202.8 L743.3 1200.3 L744.2 1199.4 L745.1 1199.6 L746.0 1197.7 L746.9 1195.1 L747.8 1192.2 L748.7 1189.4 L749.6 1186.8 L750.5 1184.9 L751.4 1183.9 L752.3 1183.2 L753.2 1182.7 L754.1 1180.4 L755.0 1177.1 L755.9 1174.8 L756.8 1173.1 L757.7 1171.8 L758.6 1171.3 L759.5 1168.0 L760.4 1165.0 L761.3 1164.7 L762.2 1165.5 L763.1 1167.1 L764.0 1168.0 L764.9 1168.2 L765.8 1167.9 L766.7 1167.6 L767.6 1169.9 L768.5 1170.2 L769.4 1170.1 L770.3 1170.9 L771.2 1171.4 L772.1 1173.0 L773.0 1175.6 L773.9 1177.6 L774.8 1180.3 L775.7 1182.4 L776.6 1183.6 L777.5 1188.3 L778.4 1195.0 L779.3 1199.2 L780.2 1204.6 L781.1 1210.4 L782.0 1215.6 L782.9 1221.1 L783.8 1225.8 L784.7 1230.3 L785.6 1235.1 L786.5 1239.3 L787.4 1241.8 L788.3 1244.5 L789.2 1246.2 L790.1 1248.1 L791.0 1250.8 L791.9 1252.8 L792.8 1254.7 L793.7 1255.6 L794.6 1254.8 L795.5 1254.2 L796.4 1253.5 L797.3 1251.4 L798.2 1250.4 L799.1 1249.5 L800.0 1246.6 L800.9 1244.5 L801.8 1244.2 L802.7 1244.2 L803.6 1242.7 L804.5 1240.5 L805.4 1238.4 L806.3 1236.0 L807.2 1234.8 L808.1 1233.5 L809.0 1233.0 L809.9 1231.3 L810.8 1230.1 L811.7 1228.5 L812.6 1226.5 L813.5 1224.7 L814.4 1222.9 L815.3 1221.8 L816.2 1222.0 L817.1 1220.7 L818.0 1220.2 L818.9 1220.1 L819.8 1219.7 L820.7 1219.5 L821.6 1218.8 L822.5 1218.3 L823.4 1216.6 L824.3 1216.2 L825.2 1215.0 L826.1 1213.0 L827.0 1211.3 L827.9 1212.7 L828.8 1213.6 L829.7 1214.0 L830.6 1214.2 L831.5 1213.2 L832.4 1211.9 L833.3 1211.0 L834.2 1211.2 L835.1 1211.2 L836.0 1209.6 L836.9 1209.5 L837.8 1211.1 L838.7 1212.4 L839.6 1211.8 L840.5 1211.6 L841.4 1210.5 L842.3 1209.5 L843.2 1210.0 L844.1 1210.8 L845.0 1210.4 L845.9 1210.6 L846.8 1211.5 L847.7 1212.9 L848.6 1211.8 L849.5 1208.8 L850.4 1207.9 L851.3 1208.4 L852.2 1209.7 L853.1 1210.9 L854.0 1211.5 L854.9 1210.9 L855.8 1208.3 L856.7 1208.1 L857.6 1210.0 L858.5 1214.5 L859.4 1212.5 L860.3 1210.4 L861.2 1210.8 L862.1 1211.5 L863.0 1210.8 L863.9 1209.8 L864.8 1211.3 L865.7 1212.2 L866.6 1211.2 L867.5 1211.0 L868.4 1210.9 L869.3 1212.1 L870.2 1210.7 L871.1 1210.6 L872.0 1211.4 L872.9 1211.8 L873.8 1211.5 L874.7 1210.7 L875.6 1212.5 L876.5 1213.8 L877.4 1212.6 L878.3 1211.5 L879.2 1209.9 L880.1 1209.0 L881.0 1211.6 L881.9 1211.3 L882.8 1210.9 L883.7 1212.6 L884.6 1212.9 L885.5 1212.2 L886.4 1212.6 L887.3 1211.6 L888.2 1210.4 L889.1 1210.5 L890.0 1211.5 L890.9 1210.7 L891.8 1209.9 L892.7 1210.6 L893.6 1211.0 L894.5 1210.6 L895.4 1211.2 L896.3 1211.8 L897.2 1211.3 L898.1 1211.6 L899.0 1211.2 L899.9 1211.1 L900.8 1210.5 L901.7 1209.9 L902.6 1209.3 L903.5 1210.2 L904.4 1209.5 L905.3 1209.4 L906.2 1209.2 L907.1 1209.7 L908.0 1210.7 L908.9 1209.7 L909.8 1210.2 L910.7 1211.0 L911.6 1211.4 L912.5 1211.3 L913.4 1211.1 L914.3 1211.5 L915.2 1211.7 L916.1 1209.2 L917.0 1208.4 L917.9 1209.8 L918.8 1210.6 L919.7 1211.1 L920.6 1210.8 L921.5 1210.5 L922.4 1208.5 L923.3 1209.2 L924.2 1210.4 L925.1 1210.4 L926.0 1210.7 L926.9 1210.1 L927.8 1210.2 L928.7 1211.3 L929.6 1211.5 L930.5 1211.2 L931.4 1211.9 L932.3 1211.0 L933.2 1210.2 L934.1 1208.9 L935.0 1211.3 L935.9 1212.7 L936.8 1211.8 L937.7 1210.9 L938.6 1211.7 L939.5 1211.2 L940.4 1210.0 L941.3 1210.0 L942.2 1210.7 L943.1 1210.0 L944.0 1210.3 L944.9 1211.8 L945.8 1212.2 L946.7 1211.9 L947.6 1210.8 L948.5 1211.6 L949.4 1212.7 L950.3 1212.8 L951.2 1214.5 L952.1 1213.1 L953.0 1211.0 L953.9 1209.5 L954.8 1210.7 L955.7 1210.8 L956.6 1208.7 L957.5 1208.0 L958.4 1209.0 L959.3 1210.1 L960.2 1210.4 L961.1 1210.4 L962.0 1209.9 L962.9 1211.8 L963.8 1212.5 L964.7 1211.0 L965.6 1209.7 L966.5 1209.5 L967.4 1210.2 L968.3 1210.2 L969.2 1209.8 L970.1 1209.2 L971.0 1209.3 L971.9 1208.7 L972.8 1208.0 L973.7 1207.7 L974.6 1208.0 L975.5 1209.2 L976.4 1208.3 L977.3 1208.7 L978.2 1209.6 L979.1 1209.9 L980.0 1209.6 L980.9 1210.1 L981.8 1209.4 L982.7 1209.1 L983.6 1208.7 L984.5 1208.3 L985.4 1208.8 L986.3 1209.5 L987.2 1210.3 L988.1 1210.8 L989.0 1208.6 L989.9 1208.4 L990.8 1208.9 L991.7 1210.3 L992.6 1210.6 L993.5 1209.3 L994.4 1209.0 L995.3 1210.1 L996.2 1209.3 L997.1 1207.7 L998.0 1208.3 L998.9 1209.1 L999.8 1209.5 L1000.7 1211.3 L1001.6 1209.4 L1002.5 1209.1 L1003.4 1209.7 L1004.3 1209.5 L1005.2 1208.6 L1006.1 1209.0 L1007.0 1210.0 L1007.9 1210.6 L1008.8 1210.6 L1009.7 1210.0 L1010.6 1209.7 L1011.5 1209.8 L1012.4 1209.2 L1013.3 1208.3 L1014.2 1208.7 L1015.1 1210.0 L1016.0 1209.6 L1016.9 1209.8 L1017.8 1210.4 L1018.7 1209.7 L1019.6 1209.7 L1020.5 1210.6 L1021.4 1209.2 L1022.3 1208.0 L1023.2 1208.7 L1024.1 1210.1 L1025.0 1211.2 L1025.9 1210.4 L1026.8 1209.8 L1027.7 1208.8 L1028.6 1209.0 L1029.5 1208.0 L1030.4 1209.8 L1031.3 1210.9 L1032.2 1211.6 L1033.1 1210.4 L1034.0 1209.9 L1034.9 1209.1 L1035.8 1208.7 L1036.7 1209.7 L1037.6 1210.2 L1038.5 1210.3 L1039.4 1213.2 L1040.3 1212.3 L1041.2 1208.6 L1042.1 1207.4 L1043.0 1207.7 L1043.9 1208.1 L1044.8 1210.3 L1045.7 1209.9 L1046.6 1208.7 L1047.5 1208.6 L1048.4 1210.3 L1049.3 1210.2 L1050.2 1210.4 L1051.1 1211.2 L1052.0 1212.0 L1052.9 1210.9 L1053.8 1211.8 L1054.7 1212.1 L1055.6 1211.6 L1056.5 1211.7 L1057.4 1210.0 L1058.3 1210.9 L1059.2 1212.5 L1060.1 1212.9 L1061.0 1212.4 L1061.9 1211.4 L1062.8 1209.5 L1063.7 1210.4 L1064.6 1210.8 L1065.5 1210.0 L1066.4 1209.2 L1067.3 1210.1 L1068.2 1210.0 L1069.1 1206.6 L1070.0 1208.7 L1070.9 1212.2 L1071.8 1211.9 L1072.7 1211.0 L1073.6 1211.6 L1074.5 1211.5 L1075.4 1210.6 L1076.3 1210.8 L1077.2 1209.4 L1078.1 1209.8 L1079.0 1211.2 L1079.9 1210.5 L1080.8 1209.1 L1081.7 1208.6 L1082.6 1209.2 L1083.5 1210.3" fill="none" stroke="#f00000" stroke-width="4.0" stroke-linejoin="round"/>
<path d="M125.0 1356.8 L125.9 1356.4 L126.8 1358.0 L127.7 1357.4 L128.6 1356.5 L129.5 1356.4 L130.4 1357.5 L131.3 1356.7 L132.2 1357.3 L133.1 1356.8 L134.0 1357.0 L134.9 1357.2 L135.8 1358.0 L136.7 1357.9 L137.6 1356.9 L138.5 1358.4 L139.4 1359.0 L140.3 1359.4 L141.2 1359.0 L142.1 1357.2 L143.0 1358.3 L143.9 1356.3 L144.8 1356.4 L145.7 1357.9 L146.6 1358.8 L147.5 1358.4 L148.4 1356.9 L149.3 1354.9 L150.2 1355.0 L151.1 1357.4 L152.0 1358.5 L152.9 1355.0 L153.8 1355.5 L154.7 1356.1 L155.6 1355.5 L156.5 1356.0 L157.4 1356.4 L158.3 1356.1 L159.2 1355.7 L160.1 1355.3 L161.0 1356.2 L161.9 1355.4 L162.8 1355.6 L163.7 1357.7 L164.6 1356.1 L165.5 1354.8 L166.4 1354.1 L167.3 1355.5 L168.2 1355.0 L169.1 1355.4 L170.0 1357.0 L170.9 1356.9 L171.8 1356.0 L172.7 1356.9 L173.6 1357.0 L174.5 1356.2 L175.4 1355.6 L176.3 1356.1 L177.2 1355.2 L178.1 1356.4 L179.0 1356.2 L179.9 1354.9 L180.8 1355.9 L181.7 1358.0 L182.6 1355.4 L183.5 1355.9 L184.4 1356.5 L185.3 1357.2 L186.2 1357.6 L187.1 1358.2 L188.0 1357.9 L188.9 1356.6 L189.8 1355.4 L190.7 1356.4 L191.6 1357.7 L192.5 1358.2 L193.4 1358.4 L194.3 1356.9 L195.2 1355.6 L196.1 1356.2 L197.0 1357.5 L197.9 1358.6 L198.8 1358.7 L199.7 1357.7 L200.6 1355.9 L201.5 1357.6 L202.4 1360.3 L203.3 1359.0 L204.2 1357.4 L205.1 1355.9 L206.0 1355.7 L206.9 1353.7 L207.8 1355.0 L208.7 1356.2 L209.6 1356.4 L210.5 1357.1 L211.4 1356.5 L212.3 1356.5 L213.2 1356.7 L214.1 1356.2 L215.0 1357.3 L215.9 1356.4 L216.8 1356.7 L217.7 1356.5 L218.6 1356.0 L219.5 1356.4 L220.4 1356.6 L221.3 1356.8 L222.2 1358.2 L223.1 1356.3 L224.0 1356.7 L224.9 1358.0 L225.8 1358.0 L226.7 1357.5 L227.6 1355.6 L228.5 1356.1 L229.4 1357.3 L230.3 1358.0 L231.2 1356.7 L232.1 1357.5 L233.0 1359.2 L233.9 1358.5 L234.8 1357.9 L235.7 1357.9 L236.6 1357.9 L237.5 1355.6 L238.4 1355.8 L239.3 1356.7 L240.2 1357.4 L241.1 1356.8 L242.0 1355.4 L242.9 1356.6 L243.8 1357.7 L244.7 1360.0 L245.6 1358.6 L246.5 1359.1 L247.4 1359.1 L248.3 1357.3 L249.2 1356.4 L250.1 1357.9 L251.0 1358.0 L251.9 1356.1 L252.8 1357.1 L253.7 1358.1 L254.6 1358.2 L255.5 1357.2 L256.4 1357.7 L257.3 1356.1 L258.2 1356.5 L259.1 1356.4 L260.0 1356.9 L260.9 1358.3 L261.8 1359.1 L262.7 1360.3 L263.6 1357.9 L264.5 1356.9 L265.4 1358.3 L266.3 1357.8 L267.2 1357.5 L268.1 1359.1 L269.0 1358.8 L269.9 1356.3 L270.8 1356.9 L271.7 1358.2 L272.6 1357.6 L273.5 1358.7 L274.4 1357.9 L275.3 1357.6 L276.2 1357.0 L277.1 1355.8 L278.0 1356.0 L278.9 1355.8 L279.8 1356.4 L280.7 1357.8 L281.6 1357.3 L282.5 1355.3 L283.4 1354.5 L284.3 1356.6 L285.2 1356.4 L286.1 1355.9 L287.0 1356.4 L287.9 1355.2 L288.8 1355.2 L289.7 1357.1 L290.6 1355.6 L291.5 1356.0 L292.4 1356.6 L293.3 1356.8 L294.2 1358.9 L295.1 1359.3 L296.0 1357.1 L296.9 1355.2 L297.8 1355.7 L298.7 1355.1 L299.6 1356.9 L300.5 1357.8 L301.4 1357.8 L302.3 1358.1 L303.2 1356.9 L304.1 1355.5 L305.0 1356.1 L305.9 1356.7 L306.8 1354.6 L307.7 1355.4 L308.6 1356.0 L309.5 1357.7 L310.4 1354.7 L311.3 1353.7 L312.2 1356.7 L313.1 1357.2 L314.0 1355.7 L314.9 1355.2 L315.8 1354.5 L316.7 1355.7 L317.6 1357.0 L318.5 1356.7 L319.4 1355.9 L320.3 1355.8 L321.2 1357.8 L322.1 1359.0 L323.0 1357.9 L323.9 1355.4 L324.8 1355.6 L325.7 1355.3 L326.6 1355.8 L327.5 1357.6 L328.4 1359.5 L329.3 1357.7 L330.2 1356.3 L331.1 1356.0 L332.0 1356.2 L332.9 1355.2 L333.8 1356.9 L334.7 1357.4 L335.6 1356.6 L336.5 1358.9 L337.4 1359.4 L338.3 1357.1 L339.2 1357.1 L340.1 1356.2 L341.0 1356.1 L341.9 1357.4 L342.8 1356.8 L343.7 1354.7 L344.6 1354.4 L345.5 1355.4 L346.4 1354.3 L347.3 1354.2 L348.2 1355.1 L349.1 1355.6 L350.0 1356.9 L350.9 1357.7 L351.8 1355.7 L352.7 1356.2 L353.6 1354.6 L354.5 1355.4 L355.4 1357.3 L356.3 1357.6 L357.2 1354.9 L358.1 1356.2 L359.0 1355.5 L359.9 1355.1 L360.8 1356.1 L361.7 1357.7 L362.6 1357.9 L363.5 1355.3 L364.4 1353.1 L365.3 1351.7 L366.2 1350.1 L367.1 1351.0 L368.0 1352.7 L368.9 1350.6 L369.8 1350.0 L370.7 1350.4 L371.6 1350.1 L372.5 1349.4 L373.4 1348.9 L374.3 1349.6 L375.2 1351.1 L376.1 1350.3 L377.0 1348.5 L377.9 1347.0 L378.8 1347.0 L379.7 1346.4 L380.6 1344.4 L381.5 1343.6 L382.4 1343.9 L383.3 1342.7 L384.2 1341.8 L385.1 1341.8 L386.0 1340.9 L386.9 1340.1 L387.8 1341.0 L388.7 1339.2 L389.6 1337.3 L390.5 1336.9 L391.4 1336.0 L392.3 1332.4 L393.2 1328.2 L394.1 1327.5 L395.0 1327.7 L395.9 1327.4 L396.8 1327.1 L397.7 1325.4 L398.6 1323.9 L399.5 1323.6 L400.4 1322.4 L401.3 1322.2 L402.2 1320.9 L403.1 1322.5 L404.0 1322.5 L404.9 1324.4 L405.8 1325.7 L406.7 1323.3 L407.6 1323.6 L408.5 1325.2 L409.4 1326.6 L410.3 1328.4 L411.2 1330.5 L412.1 1331.6 L413.0 1333.2 L413.9 1336.5 L414.8 1339.7 L415.7 1344.1 L416.6 1348.2 L417.5 1352.0 L418.4 1355.8 L419.3 1360.9 L420.2 1365.3 L421.1 1369.0 L422.0 1372.2 L422.9 1375.8 L423.8 1378.8 L424.7 1379.8 L425.6 1379.7 L426.5 1383.0 L427.4 1386.2 L428.3 1385.5 L429.2 1387.7 L430.1 1389.6 L431.0 1392.0 L431.9 1391.8 L432.8 1390.9 L433.7 1390.2 L434.6 1389.5 L435.5 1391.8 L436.4 1390.5 L437.3 1387.8 L438.2 1387.1 L439.1 1387.1 L440.0 1385.2 L440.9 1383.6 L441.8 1383.1 L442.7 1380.9 L443.6 1379.2 L444.5 1377.5 L445.4 1375.2 L446.3 1375.3 L447.2 1373.2 L448.1 1369.3 L449.0 1367.4 L449.9 1367.4 L450.8 1366.6 L451.7 1364.7 L452.6 1363.9 L453.5 1363.3 L454.4 1363.0 L455.3 1363.7 L456.2 1364.9 L457.1 1364.4 L458.0 1361.7 L458.9 1360.9 L459.8 1360.4 L460.7 1360.2 L461.6 1360.1 L462.5 1361.1 L463.4 1360.1 L464.3 1358.4 L465.2 1358.4 L466.1 1356.6 L467.0 1356.2 L467.9 1355.8 L468.8 1354.2 L469.7 1353.2 L470.6 1353.7 L471.5 1353.7 L472.4 1353.0 L473.3 1353.6 L474.2 1352.0 L475.1 1350.1 L476.0 1349.8 L476.9 1348.6 L477.8 1348.3 L478.7 1347.8 L479.6 1347.1 L480.5 1346.5 L481.4 1344.3 L482.3 1342.5 L483.2 1340.0 L484.1 1337.3 L485.0 1336.4 L485.9 1334.8 L486.8 1331.6 L487.7 1332.0 L488.6 1331.8 L489.5 1331.0 L490.4 1329.4 L491.3 1328.1 L492.2 1325.8 L493.1 1324.1 L494.0 1323.5 L494.9 1322.3 L495.8 1322.7 L496.7 1321.3 L497.6 1321.8 L498.5 1320.1 L499.4 1318.9 L500.3 1318.4 L501.2 1319.2 L502.1 1319.4 L503.0 1317.8 L503.9 1316.5 L504.8 1316.2 L505.7 1318.6 L506.6 1322.6 L507.5 1324.3 L508.4 1325.4 L509.3 1329.2 L510.2 1328.9 L511.1 1330.0 L512.0 1334.5 L512.9 1336.3 L513.8 1338.1 L514.7 1342.4 L515.6 1347.6 L516.5 1350.9 L517.4 1351.7 L518.3 1353.2 L519.2 1356.8 L520.1 1360.6 L521.0 1362.3 L521.9 1363.4 L522.8 1363.9 L523.7 1364.4 L524.6 1362.7 L525.5 1361.2 L526.4 1359.6 L527.3 1360.0 L528.2 1358.9 L529.1 1358.8 L530.0 1358.6 L530.9 1357.1 L531.8 1355.3 L532.7 1352.7 L533.6 1353.2 L534.5 1353.7 L535.4 1353.1 L536.3 1352.4 L537.2 1351.3 L538.1 1351.6 L539.0 1350.9 L539.9 1351.5 L540.8 1353.6 L541.7 1354.9 L542.6 1354.5 L543.5 1353.3 L544.4 1354.1 L545.3 1355.7 L546.2 1358.5 L547.1 1362.1 L548.0 1363.5 L548.9 1363.7 L549.8 1366.8 L550.7 1369.2 L551.6 1370.7 L552.5 1373.7 L553.4 1377.6 L554.3 1379.5 L555.2 1381.5 L556.1 1382.4 L557.0 1382.6 L557.9 1387.5 L558.8 1392.2 L559.7 1395.9 L560.6 1397.2 L561.5 1395.6 L562.4 1396.3 L563.3 1396.8 L564.2 1396.9 L565.1 1396.0 L566.0 1396.4 L566.9 1396.5 L567.8 1395.6 L568.7 1394.5 L569.6 1393.5 L570.5 1391.3 L571.4 1389.4 L572.3 1388.0 L573.2 1386.3 L574.1 1385.1 L575.0 1382.7 L575.9 1378.0 L576.8 1375.2 L577.7 1374.6 L578.6 1375.5 L579.5 1375.1 L580.4 1372.8 L581.3 1369.7 L582.2 1371.7 L583.1 1373.0 L584.0 1369.9 L584.9 1368.2 L585.8 1367.9 L586.7 1365.5 L587.6 1364.4 L588.5 1365.0 L589.4 1363.4 L590.3 1363.1 L591.2 1361.8 L592.1 1360.7 L593.0 1360.0 L593.9 1360.3 L594.8 1359.6 L595.7 1358.5 L596.6 1357.5 L597.5 1357.3 L598.4 1358.3 L599.3 1358.1 L600.2 1357.9 L601.1 1357.0 L602.0 1355.2 L602.9 1353.3 L603.8 1355.4 L604.7 1356.1 L605.6 1354.9 L606.5 1353.3 L607.4 1352.1 L608.3 1350.5 L609.2 1349.6 L610.1 1350.5 L611.0 1350.0 L611.9 1347.4 L612.8 1345.4 L613.7 1345.0 L614.6 1344.3 L615.5 1342.5 L616.4 1340.1 L617.3 1340.3 L618.2 1342.3 L619.1 1339.9 L620.0 1334.4 L620.9 1332.5 L621.8 1330.9 L622.7 1329.7 L623.6 1328.2 L624.5 1327.2 L625.4 1324.7 L626.3 1322.6 L627.2 1322.3 L628.1 1322.1 L629.0 1322.1 L629.9 1321.5 L630.8 1320.8 L631.7 1319.8 L632.6 1319.2 L633.5 1319.2 L634.4 1320.3 L635.3 1322.0 L636.2 1322.5 L637.1 1321.2 L638.0 1321.7 L638.9 1323.5 L639.8 1325.8 L640.7 1326.2 L641.6 1328.0 L642.5 1329.3 L643.4 1333.3 L644.3 1335.9 L645.2 1339.5 L646.1 1342.7 L647.0 1343.1 L647.9 1345.2 L648.8 1350.3 L649.7 1353.5 L650.6 1357.0 L651.5 1359.2 L652.4 1357.4 L653.3 1356.2 L654.2 1359.4 L655.1 1361.4 L656.0 1363.4 L656.9 1365.0 L657.8 1363.3 L658.7 1362.4 L659.6 1363.7 L660.5 1363.2 L661.4 1360.8 L662.3 1361.3 L663.2 1360.7 L664.1 1359.6 L665.0 1357.4 L665.9 1355.7 L666.8 1355.3 L667.7 1357.4 L668.6 1357.5 L669.5 1357.9 L670.4 1355.9 L671.3 1354.5 L672.2 1355.1 L673.1 1355.8 L674.0 1357.5 L674.9 1357.2 L675.8 1356.9 L676.7 1355.0 L677.6 1355.9 L678.5 1357.8 L679.4 1358.8 L680.3 1360.8 L681.2 1364.7 L682.1 1368.0 L683.0 1371.6 L683.9 1373.4 L684.8 1375.3 L685.7 1376.7 L686.6 1379.8 L687.5 1382.4 L688.4 1385.4 L689.3 1389.0 L690.2 1390.3 L691.1 1390.5 L692.0 1392.4 L692.9 1395.1 L693.8 1395.4 L694.7 1396.4 L695.6 1398.2 L696.5 1398.0 L697.4 1396.3 L698.3 1395.5 L699.2 1395.1 L700.1 1394.4 L701.0 1394.2 L701.9 1394.3 L702.8 1392.5 L703.7 1390.4 L704.6 1388.7 L705.5 1387.5 L706.4 1385.3 L707.3 1383.8 L708.2 1381.5 L709.1 1380.6 L710.0 1378.7 L710.9 1375.4 L711.8 1376.4 L712.7 1376.4 L713.6 1375.1 L714.5 1374.7 L715.4 1373.1 L716.3 1371.2 L717.2 1370.4 L718.1 1369.4 L719.0 1366.4 L719.9 1365.2 L720.8 1365.7 L721.7 1363.9 L722.6 1362.4 L723.5 1360.9 L724.4 1362.0 L725.3 1362.2 L726.2 1360.9 L727.1 1361.1 L728.0 1360.0 L728.9 1360.5 L729.8 1362.1 L730.7 1362.1 L731.6 1360.4 L732.5 1360.1 L733.4 1358.6 L734.3 1358.0 L735.2 1355.0 L736.1 1353.9 L737.0 1354.5 L737.9 1354.2 L738.8 1354.1 L739.7 1353.6 L740.6 1353.2 L741.5 1352.7 L742.4 1350.5 L743.3 1349.2 L744.2 1348.6 L745.1 1347.3 L746.0 1345.9 L746.9 1344.3 L747.8 1344.0 L748.7 1342.0 L749.6 1341.6 L750.5 1339.9 L751.4 1337.1 L752.3 1336.6 L753.2 1335.8 L754.1 1333.2 L755.0 1331.3 L755.9 1329.3 L756.8 1327.9 L757.7 1325.4 L758.6 1327.5 L759.5 1327.8 L760.4 1325.8 L761.3 1324.7 L762.2 1325.9 L763.1 1326.0 L764.0 1325.1 L764.9 1327.2 L765.8 1329.1 L766.7 1326.4 L767.6 1325.0 L768.5 1326.4 L769.4 1327.8 L770.3 1327.3 L771.2 1328.3 L772.1 1329.5 L773.0 1330.2 L773.9 1331.9 L774.8 1335.3 L775.7 1338.0 L776.6 1338.9 L777.5 1341.0 L778.4 1345.3 L779.3 1349.5 L780.2 1353.5 L781.1 1357.2 L782.0 1362.9 L782.9 1367.5 L783.8 1372.6 L784.7 1375.3 L785.6 1377.6 L786.5 1380.6 L787.4 1383.9 L788.3 1386.3 L789.2 1387.7 L790.1 1387.6 L791.0 1389.2 L791.9 1390.7 L792.8 1390.7 L793.7 1392.7 L794.6 1393.9 L795.5 1393.1 L796.4 1392.6 L797.3 1391.8 L798.2 1390.9 L799.1 1389.9 L800.0 1390.7 L800.9 1390.1 L801.8 1389.0 L802.7 1388.6 L803.6 1386.2 L804.5 1382.9 L805.4 1379.6 L806.3 1379.0 L807.2 1379.9 L808.1 1379.4 L809.0 1376.8 L809.9 1375.4 L810.8 1372.1 L811.7 1369.3 L812.6 1369.4 L813.5 1369.6 L814.4 1369.2 L815.3 1368.7 L816.2 1367.8 L817.1 1369.2 L818.0 1367.7 L818.9 1364.4 L819.8 1364.7 L820.7 1367.0 L821.6 1365.2 L822.5 1364.8 L823.4 1364.8 L824.3 1366.4 L825.2 1363.9 L826.1 1364.8 L827.0 1364.0 L827.9 1362.6 L828.8 1363.1 L829.7 1363.6 L830.6 1361.3 L831.5 1362.6 L832.4 1364.0 L833.3 1362.4 L834.2 1362.4 L835.1 1362.2 L836.0 1360.0 L836.9 1358.4 L837.8 1356.6 L838.7 1359.6 L839.6 1360.6 L840.5 1360.8 L841.4 1358.3 L842.3 1358.8 L843.2 1360.9 L844.1 1360.9 L845.0 1360.1 L845.9 1360.2 L846.8 1359.9 L847.7 1359.0 L848.6 1360.7 L849.5 1359.7 L850.4 1358.1 L851.3 1357.3 L852.2 1358.8 L853.1 1362.0 L854.0 1362.2 L854.9 1361.5 L855.8 1362.6 L856.7 1362.6 L857.6 1360.2 L858.5 1358.1 L859.4 1358.3 L860.3 1359.9 L861.2 1361.8 L862.1 1362.0 L863.0 1362.1 L863.9 1363.2 L864.8 1362.0 L865.7 1361.5 L866.6 1360.1 L867.5 1360.2 L868.4 1361.4 L869.3 1361.5 L870.2 1359.6 L871.1 1361.3 L872.0 1360.9 L872.9 1361.8 L873.8 1360.8 L874.7 1359.4 L875.6 1360.5 L876.5 1362.9 L877.4 1361.5 L878.3 1360.0 L879.2 1358.9 L880.1 1359.8 L881.0 1362.4 L881.9 1363.6 L882.8 1363.6 L883.7 1361.7 L884.6 1359.7 L885.5 1359.4 L886.4 1360.9 L887.3 1359.3 L888.2 1358.0 L889.1 1358.6 L890.0 1359.5 L890.9 1360.3 L891.8 1360.1 L892.7 1362.7 L893.6 1364.6 L894.5 1360.5 L895.4 1355.9 L896.3 1355.7 L897.2 1358.3 L898.1 1360.2 L899.0 1360.4 L899.9 1358.1 L900.8 1359.3 L901.7 1360.3 L902.6 1360.4 L903.5 1359.6 L904.4 1359.0 L905.3 1359.2 L906.2 1359.9 L907.1 1360.1 L908.0 1358.4 L908.9 1357.9 L909.8 1358.0 L910.7 1357.8 L911.6 1356.9 L912.5 1359.6 L913.4 1359.3 L914.3 1357.9 L915.2 1358.2 L916.1 1358.2 L917.0 1358.0 L917.9 1359.5 L918.8 1362.6 L919.7 1362.1 L920.6 1357.8 L921.5 1358.3 L922.4 1358.6 L923.3 1357.4 L924.2 1357.8 L925.1 1358.2 L926.0 1357.9 L926.9 1356.6 L927.8 1357.3 L928.7 1359.6 L929.6 1360.3 L930.5 1360.4 L931.4 1359.7 L932.3 1358.5 L933.2 1359.3 L934.1 1359.4 L935.0 1360.0 L935.9 1359.6 L936.8 1359.6 L937.7 1359.2 L938.6 1360.5 L939.5 1359.9 L940.4 1359.4 L941.3 1359.2 L942.2 1361.0 L943.1 1361.6 L944.0 1361.3 L944.9 1359.5 L945.8 1359.9 L946.7 1359.7 L947.6 1359.5 L948.5 1359.9 L949.4 1359.9 L950.3 1360.5 L951.2 1358.7 L952.1 1358.1 L953.0 1358.8 L953.9 1359.8 L954.8 1358.4 L955.7 1357.8 L956.6 1359.9 L957.5 1360.8 L958.4 1359.6 L959.3 1359.7 L960.2 1359.4 L961.1 1360.0 L962.0 1359.6 L962.9 1358.5 L963.8 1360.7 L964.7 1360.4 L965.6 1360.8 L966.5 1360.3 L967.4 1359.1 L968.3 1360.3 L969.2 1358.9 L970.1 1358.1 L971.0 1359.9 L971.9 1361.9 L972.8 1360.2 L973.7 1356.5 L974.6 1357.2 L975.5 1358.1 L976.4 1357.5 L977.3 1356.9 L978.2 1357.1 L979.1 1359.1 L980.0 1363.1 L980.9 1360.5 L981.8 1357.9 L982.7 1359.2 L983.6 1360.4 L984.5 1359.6 L985.4 1359.7 L986.3 1358.2 L987.2 1359.4 L988.1 1362.0 L989.0 1359.9 L989.9 1358.6 L990.8 1360.4 L991.7 1360.1 L992.6 1360.4 L993.5 1359.1 L994.4 1358.4 L995.3 1360.6 L996.2 1359.4 L997.1 1358.2 L998.0 1360.2 L998.9 1360.9 L999.8 1362.4 L1000.7 1361.6 L1001.6 1359.5 L1002.5 1357.1 L1003.4 1356.9 L1004.3 1358.0 L1005.2 1357.8 L1006.1 1359.6 L1007.0 1361.1 L1007.9 1361.4 L1008.8 1362.1 L1009.7 1361.8 L1010.6 1360.9 L1011.5 1359.7 L1012.4 1359.1 L1013.3 1359.6 L1014.2 1360.6 L1015.1 1361.5 L1016.0 1360.0 L1016.9 1358.6 L1017.8 1358.1 L1018.7 1358.0 L1019.6 1359.2 L1020.5 1361.9 L1021.4 1361.7 L1022.3 1360.5 L1023.2 1360.1 L1024.1 1359.0 L1025.0 1357.7 L1025.9 1357.6 L1026.8 1359.3 L1027.7 1360.6 L1028.6 1360.6 L1029.5 1359.3 L1030.4 1359.2 L1031.3 1358.3 L1032.2 1358.9 L1033.1 1358.9 L1034.0 1358.7 L1034.9 1357.4 L1035.8 1358.2 L1036.7 1358.4 L1037.6 1358.5 L1038.5 1359.7 L1039.4 1359.8 L1040.3 1360.0 L1041.2 1360.0 L1042.1 1358.2 L1043.0 1358.1 L1043.9 1356.4 L1044.8 1356.8 L1045.7 1356.4 L1046.6 1356.9 L1047.5 1358.5 L1048.4 1359.5 L1049.3 1359.5 L1050.2 1359.7 L1051.1 1359.4 L1052.0 1358.5 L1052.9 1358.6 L1053.8 1357.8 L1054.7 1357.5 L1055.6 1358.8 L1056.5 1357.6 L1057.4 1355.8 L1058.3 1356.2 L1059.2 1358.2 L1060.1 1358.5 L1061.0 1358.4 L1061.9 1358.8 L1062.8 1358.3 L1063.7 1357.8 L1064.6 1357.7 L1065.5 1359.5 L1066.4 1360.2 L1067.3 1358.3 L1068.2 1358.1 L1069.1 1359.5 L1070.0 1360.1 L1070.9 1359.7 L1071.8 1358.6 L1072.7 1358.6 L1073.6 1358.3 L1074.5 1358.4 L1075.4 1357.7 L1076.3 1358.1 L1077.2 1358.0 L1078.1 1359.7 L1079.0 1357.9 L1079.9 1358.8 L1080.8 1360.0 L1081.7 1359.3 L1082.6 1358.9 L1083.5 1357.5" fill="none" stroke="#ff8000" stroke-width="4.0" stroke-linejoin="round"/>
<path d="M125.0 1498.9 L125.9 1497.6 L126.8 1497.0 L127.7 1498.8 L128.6 1498.4 L129.5 1496.1 L130.4 1495.7 L131.3 1494.8 L132.2 1495.7 L133.1 1498.9 L134.0 1498.0 L134.9 1498.2 L135.8 1498.0 L136.7 1496.9 L137.6 1495.3 L138.5 1495.6 L139.4 1498.0 L140.3 1498.2 L141.2 1494.8 L142.1 1495.0 L143.0 1497.1 L143.9 1499.0 L144.8 1499.1 L145.7 1498.8 L146.6 1497.5 L147.5 1495.9 L148.4 1497.0 L149.3 1498.8 L150.2 1497.2 L151.1 1496.0 L152.0 1498.5 L152.9 1498.6 L153.8 1499.1 L154.7 1499.7 L155.6 1496.7 L156.5 1494.3 L157.4 1493.0 L158.3 1496.1 L159.2 1497.7 L160.1 1497.2 L161.0 1497.4 L161.9 1498.5 L162.8 1498.2 L163.7 1497.7 L164.6 1497.0 L165.5 1497.3 L166.4 1498.3 L167.3 1497.0 L168.2 1495.9 L169.1 1495.8 L170.0 1496.5 L170.9 1497.3 L171.8 1497.8 L172.7 1497.1 L173.6 1495.6 L174.5 1494.6 L175.4 1496.4 L176.3 1495.7 L177.2 1496.8 L178.1 1498.6 L179.0 1497.5 L179.9 1496.3 L180.8 1497.4 L181.7 1496.8 L182.6 1497.0 L183.5 1499.2 L184.4 1500.6 L185.3 1501.9 L186.2 1497.8 L187.1 1497.6 L188.0 1499.3 L188.9 1500.2 L189.8 1499.5 L190.7 1500.7 L191.6 1499.3 L192.5 1497.7 L193.4 1498.2 L194.3 1498.7 L195.2 1498.5 L196.1 1498.1 L197.0 1499.0 L197.9 1500.9 L198.8 1501.9 L199.7 1501.9 L200.6 1498.4 L201.5 1498.2 L202.4 1501.7 L203.3 1500.8 L204.2 1500.2 L205.1 1500.1 L206.0 1499.8 L206.9 1498.9 L207.8 1499.1 L208.7 1499.6 L209.6 1497.7 L210.5 1497.0 L211.4 1495.8 L212.3 1497.1 L213.2 1497.4 L214.1 1499.2 L215.0 1497.6 L215.9 1499.1 L216.8 1496.6 L217.7 1495.3 L218.6 1497.5 L219.5 1497.9 L220.4 1496.2 L221.3 1494.6 L222.2 1494.0 L223.1 1496.8 L224.0 1497.7 L224.9 1496.0 L225.8 1498.6 L226.7 1500.2 L227.6 1497.5 L228.5 1499.2 L229.4 1499.8 L230.3 1498.7 L231.2 1498.8 L232.1 1498.1 L233.0 1500.2 L233.9 1501.7 L234.8 1499.4 L235.7 1497.4 L236.6 1497.2 L237.5 1502.1 L238.4 1502.8 L239.3 1499.8 L240.2 1499.3 L241.1 1500.0 L242.0 1500.5 L242.9 1498.1 L243.8 1498.3 L244.7 1496.6 L245.6 1498.6 L246.5 1499.3 L247.4 1502.8 L248.3 1504.3 L249.2 1500.2 L250.1 1498.9 L251.0 1501.3 L251.9 1503.0 L252.8 1501.3 L253.7 1498.1 L254.6 1497.1 L255.5 1498.9 L256.4 1498.9 L257.3 1498.1 L258.2 1498.9 L259.1 1499.5 L260.0 1499.0 L260.9 1499.2 L261.8 1499.7 L262.7 1500.7 L263.6 1498.8 L264.5 1498.8 L265.4 1498.1 L266.3 1497.3 L267.2 1497.5 L268.1 1497.2 L269.0 1497.4 L269.9 1498.5 L270.8 1498.1 L271.7 1495.5 L272.6 1496.4 L273.5 1496.9 L274.4 1496.1 L275.3 1497.3 L276.2 1496.9 L277.1 1495.6 L278.0 1493.8 L278.9 1494.5 L279.8 1497.7 L280.7 1499.8 L281.6 1496.8 L282.5 1495.0 L283.4 1498.4 L284.3 1499.0 L285.2 1499.1 L286.1 1497.8 L287.0 1498.8 L287.9 1498.0 L288.8 1496.0 L289.7 1496.7 L290.6 1497.3 L291.5 1497.2 L292.4 1498.9 L293.3 1498.3 L294.2 1498.8 L295.1 1498.3 L296.0 1498.9 L296.9 1498.0 L297.8 1495.3 L298.7 1496.9 L299.6 1498.6 L300.5 1498.6 L301.4 1500.6 L302.3 1500.2 L303.2 1497.6 L304.1 1498.1 L305.0 1498.5 L305.9 1498.1 L306.8 1500.3 L307.7 1499.8 L308.6 1497.9 L309.5 1496.1 L310.4 1495.6 L311.3 1496.4 L312.2 1497.8 L313.1 1497.2 L314.0 1499.6 L314.9 1500.7 L315.8 1496.6 L316.7 1496.8 L317.6 1499.3 L318.5 1498.6 L319.4 1497.1 L320.3 1497.9 L321.2 1498.8 L322.1 1499.4 L323.0 1497.9 L323.9 1498.2 L324.8 1499.1 L325.7 1499.7 L326.6 1498.5 L327.5 1496.7 L328.4 1497.6 L329.3 1500.4 L330.2 1499.6 L331.1 1499.4 L332.0 1498.2 L332.9 1497.2 L333.8 1500.0 L334.7 1500.5 L335.6 1501.0 L336.5 1502.2 L337.4 1502.7 L338.3 1499.2 L339.2 1498.7 L340.1 1500.3 L341.0 1499.2 L341.9 1498.5 L342.8 1498.1 L343.7 1497.0 L344.6 1497.6 L345.5 1498.7 L346.4 1497.5 L347.3 1497.4 L348.2 1500.0 L349.1 1500.6 L350.0 1498.9 L350.9 1498.1 L351.8 1499.9 L352.7 1499.0 L353.6 1496.0 L354.5 1495.4 L355.4 1494.4 L356.3 1494.8 L357.2 1499.0 L358.1 1498.9 L359.0 1495.0 L359.9 1496.3 L360.8 1496.5 L361.7 1496.8 L362.6 1497.5 L363.5 1497.1 L364.4 1495.3 L365.3 1494.4 L366.2 1496.1 L367.1 1496.5 L368.0 1492.7 L368.9 1491.9 L369.8 1492.3 L370.7 1491.6 L371.6 1492.3 L372.5 1493.8 L373.4 1493.0 L374.3 1491.6 L375.2 1490.8 L376.1 1490.1 L377.0 1490.7 L377.9 1488.8 L378.8 1487.1 L379.7 1487.4 L380.6 1488.6 L381.5 1489.7 L382.4 1487.6 L383.3 1487.0 L384.2 1488.8 L385.1 1487.1 L386.0 1486.8 L386.9 1485.6 L387.8 1483.7 L388.7 1480.8 L389.6 1479.3 L390.5 1475.9 L391.4 1475.5 L392.3 1476.9 L393.2 1475.9 L394.1 1475.0 L395.0 1473.4 L395.9 1469.2 L396.8 1469.1 L397.7 1466.8 L398.6 1466.0 L399.5 1467.5 L400.4 1466.3 L401.3 1464.3 L402.2 1466.4 L403.1 1468.4 L404.0 1470.1 L404.9 1470.2 L405.8 1468.4 L406.7 1467.1 L407.6 1469.4 L408.5 1471.9 L409.4 1473.8 L410.3 1475.4 L411.2 1476.5 L412.1 1478.2 L413.0 1479.5 L413.9 1482.3 L414.8 1486.6 L415.7 1489.7 L416.6 1490.5 L417.5 1493.8 L418.4 1498.4 L419.3 1503.2 L420.2 1507.5 L421.1 1512.8 L422.0 1513.4 L422.9 1514.2 L423.8 1517.2 L424.7 1521.2 L425.6 1525.9 L426.5 1526.6 L427.4 1528.1 L428.3 1529.3 L429.2 1528.5 L430.1 1527.5 L431.0 1528.9 L431.9 1528.6 L432.8 1529.2 L433.7 1529.9 L434.6 1530.2 L435.5 1531.5 L436.4 1528.8 L437.3 1526.7 L438.2 1526.4 L439.1 1526.1 L440.0 1522.7 L440.9 1521.3 L441.8 1519.6 L442.7 1517.9 L443.6 1515.1 L444.5 1515.4 L445.4 1515.7 L446.3 1513.6 L447.2 1513.1 L448.1 1510.4 L449.0 1508.6 L449.9 1507.1 L450.8 1508.0 L451.7 1507.6 L452.6 1506.7 L453.5 1506.3 L454.4 1505.3 L455.3 1506.5 L456.2 1504.3 L457.1 1502.0 L458.0 1501.8 L458.9 1501.3 L459.8 1499.5 L460.7 1501.3 L461.6 1505.9 L462.5 1503.3 L463.4 1502.0 L464.3 1502.5 L465.2 1499.4 L466.1 1496.6 L467.0 1496.7 L467.9 1495.6 L468.8 1496.7 L469.7 1496.5 L470.6 1495.5 L471.5 1492.0 L472.4 1490.3 L473.3 1492.4 L474.2 1493.3 L475.1 1491.8 L476.0 1490.3 L476.9 1489.5 L477.8 1489.2 L478.7 1488.8 L479.6 1486.3 L480.5 1486.4 L481.4 1486.9 L482.3 1485.2 L483.2 1483.2 L484.1 1482.3 L485.0 1482.3 L485.9 1480.7 L486.8 1478.1 L487.7 1479.9 L488.6 1477.6 L489.5 1474.6 L490.4 1471.9 L491.3 1471.5 L492.2 1472.5 L493.1 1470.8 L494.0 1467.1 L494.9 1467.1 L495.8 1467.6 L496.7 1467.8 L497.6 1470.6 L498.5 1469.8 L499.4 1466.3 L500.3 1464.6 L501.2 1466.1 L502.1 1466.3 L503.0 1465.8 L503.9 1466.0 L504.8 1468.3 L505.7 1469.3 L506.6 1470.9 L507.5 1471.1 L508.4 1470.6 L509.3 1471.9 L510.2 1473.2 L511.1 1475.4 L512.0 1477.1 L512.9 1479.9 L513.8 1480.8 L514.7 1486.0 L515.6 1490.2 L516.5 1493.1 L517.4 1494.2 L518.3 1497.8 L519.2 1501.3 L520.1 1502.9 L521.0 1504.4 L521.9 1504.8 L522.8 1504.1 L523.7 1503.2 L524.6 1502.5 L525.5 1504.0 L526.4 1505.0 L527.3 1505.6 L528.2 1503.8 L529.1 1504.8 L530.0 1502.6 L530.9 1497.6 L531.8 1498.4 L532.7 1499.6 L533.6 1498.0 L534.5 1497.8 L535.4 1496.8 L536.3 1494.5 L537.2 1494.4 L538.1 1494.5 L539.0 1494.3 L539.9 1490.9 L540.8 1492.0 L541.7 1492.8 L542.6 1494.7 L543.5 1496.6 L544.4 1497.3 L545.3 1498.3 L546.2 1500.2 L547.1 1500.9 L548.0 1504.0 L548.9 1505.2 L549.8 1505.9 L550.7 1509.5 L551.6 1512.3 L552.5 1513.8 L553.4 1515.0 L554.3 1519.6 L555.2 1525.4 L556.1 1527.0 L557.0 1525.2 L557.9 1526.4 L558.8 1527.6 L559.7 1527.9 L560.6 1529.7 L561.5 1533.5 L562.4 1536.7 L563.3 1537.5 L564.2 1538.0 L565.1 1537.4 L566.0 1533.5 L566.9 1531.3 L567.8 1529.3 L568.7 1529.7 L569.6 1530.6 L570.5 1530.0 L571.4 1526.2 L572.3 1524.6 L573.2 1523.9 L574.1 1521.8 L575.0 1519.3 L575.9 1519.6 L576.8 1517.8 L577.7 1515.8 L578.6 1514.5 L579.5 1513.8 L580.4 1512.7 L581.3 1512.9 L582.2 1513.6 L583.1 1511.9 L584.0 1510.8 L584.9 1508.9 L585.8 1505.7 L586.7 1504.8 L587.6 1506.5 L588.5 1505.5 L589.4 1504.7 L590.3 1503.3 L591.2 1503.0 L592.1 1506.5 L593.0 1508.5 L593.9 1505.4 L594.8 1500.9 L595.7 1500.5 L596.6 1500.6 L597.5 1498.8 L598.4 1499.1 L599.3 1500.4 L600.2 1500.5 L601.1 1496.6 L602.0 1496.0 L602.9 1493.8 L603.8 1492.4 L604.7 1494.0 L605.6 1491.9 L606.5 1492.8 L607.4 1494.1 L608.3 1492.9 L609.2 1491.9 L610.1 1492.1 L611.0 1489.9 L611.9 1489.2 L612.8 1490.6 L613.7 1488.7 L614.6 1485.9 L615.5 1484.3 L616.4 1484.9 L617.3 1485.4 L618.2 1482.9 L619.1 1482.0 L620.0 1482.4 L620.9 1480.0 L621.8 1475.8 L622.7 1474.7 L623.6 1470.7 L624.5 1470.9 L625.4 1468.6 L626.3 1467.6 L627.2 1467.3 L628.1 1466.9 L629.0 1467.0 L629.9 1467.4 L630.8 1469.0 L631.7 1466.6 L632.6 1465.0 L633.5 1466.0 L634.4 1466.0 L635.3 1466.9 L636.2 1467.4 L637.1 1468.8 L638.0 1470.6 L638.9 1472.6 L639.8 1474.5 L640.7 1475.5 L641.6 1476.2 L642.5 1477.2 L643.4 1479.7 L644.3 1484.5 L645.2 1485.5 L646.1 1487.4 L647.0 1490.9 L647.9 1495.0 L648.8 1498.4 L649.7 1498.9 L650.6 1498.7 L651.5 1501.4 L652.4 1502.5 L653.3 1503.8 L654.2 1506.4 L655.1 1506.4 L656.0 1506.7 L656.9 1507.6 L657.8 1507.4 L658.7 1506.8 L659.6 1505.5 L660.5 1503.6 L661.4 1502.9 L662.3 1502.8 L663.2 1502.6 L664.1 1501.5 L665.0 1498.0 L665.9 1496.4 L666.8 1494.3 L667.7 1497.3 L668.6 1497.1 L669.5 1494.5 L670.4 1493.7 L671.3 1493.6 L672.2 1493.3 L673.1 1494.8 L674.0 1495.7 L674.9 1494.3 L675.8 1495.1 L676.7 1496.1 L677.6 1498.5 L678.5 1497.8 L679.4 1500.7 L680.3 1504.6 L681.2 1506.7 L682.1 1508.2 L683.0 1511.1 L683.9 1513.0 L684.8 1515.3 L685.7 1515.7 L686.6 1519.2 L687.5 1524.6 L688.4 1528.3 L689.3 1529.3 L690.2 1529.5 L691.1 1534.0 L692.0 1534.8 L692.9 1537.0 L693.8 1535.7 L694.7 1533.6 L695.6 1534.6 L696.5 1534.5 L697.4 1535.2 L698.3 1535.4 L699.2 1534.3 L700.1 1532.7 L701.0 1531.0 L701.9 1529.9 L702.8 1526.5 L703.7 1525.6 L704.6 1525.2 L705.5 1525.7 L706.4 1523.5 L707.3 1520.3 L708.2 1520.3 L709.1 1521.4 L710.0 1520.8 L710.9 1519.6 L711.8 1518.0 L712.7 1517.8 L713.6 1517.6 L714.5 1517.3 L715.4 1516.2 L716.3 1516.2 L717.2 1513.7 L718.1 1513.3 L719.0 1512.6 L719.9 1508.5 L720.8 1508.3 L721.7 1509.6 L722.6 1507.5 L723.5 1506.9 L724.4 1509.1 L725.3 1508.6 L726.2 1505.9 L727.1 1504.2 L728.0 1504.4 L728.9 1503.7 L729.8 1504.2 L730.7 1500.6 L731.6 1496.9 L732.5 1494.4 L733.4 1498.3 L734.3 1501.2 L735.2 1500.4 L736.1 1500.6 L737.0 1499.7 L737.9 1498.8 L738.8 1498.1 L739.7 1496.7 L740.6 1495.8 L741.5 1496.5 L742.4 1496.5 L743.3 1495.8 L744.2 1494.1 L745.1 1492.8 L746.0 1490.8 L746.9 1489.9 L747.8 1486.6 L748.7 1485.0 L749.6 1486.1 L750.5 1484.4 L751.4 1482.9 L752.3 1481.4 L753.2 1479.0 L754.1 1475.3 L755.0 1475.4 L755.9 1475.2 L756.8 1473.6 L757.7 1473.0 L758.6 1472.0 L759.5 1472.0 L760.4 1471.8 L761.3 1469.6 L762.2 1467.7 L763.1 1468.3 L764.0 1466.7 L764.9 1467.9 L765.8 1468.9 L766.7 1468.8 L767.6 1470.8 L768.5 1472.1 L769.4 1473.0 L770.3 1472.0 L771.2 1470.4 L772.1 1471.9 L773.0 1476.0 L773.9 1480.0 L774.8 1480.3 L775.7 1482.4 L776.6 1484.3 L777.5 1487.4 L778.4 1490.0 L779.3 1490.9 L780.2 1494.1 L781.1 1501.1 L782.0 1504.4 L782.9 1509.3 L783.8 1514.3 L784.7 1517.7 L785.6 1520.1 L786.5 1522.2 L787.4 1527.3 L788.3 1528.9 L789.2 1530.2 L790.1 1531.4 L791.0 1531.2 L791.9 1532.7 L792.8 1532.7 L793.7 1533.6 L794.6 1535.1 L795.5 1535.3 L796.4 1533.2 L797.3 1531.4 L798.2 1531.5 L799.1 1532.4 L800.0 1529.3 L800.9 1526.1 L801.8 1528.4 L802.7 1527.5 L803.6 1523.3 L804.5 1520.9 L805.4 1521.0 L806.3 1521.1 L807.2 1518.1 L808.1 1516.1 L809.0 1518.7 L809.9 1519.1 L810.8 1515.0 L811.7 1513.8 L812.6 1512.7 L813.5 1511.6 L814.4 1510.3 L815.3 1509.2 L816.2 1507.7 L817.1 1507.8 L818.0 1505.6 L818.9 1505.6 L819.8 1507.2 L820.7 1508.9 L821.6 1510.0 L822.5 1510.7 L823.4 1508.5 L824.3 1504.2 L825.2 1504.9 L826.1 1507.1 L827.0 1506.6 L827.9 1504.7 L828.8 1505.6 L829.7 1505.5 L830.6 1503.6 L831.5 1503.0 L832.4 1504.0 L833.3 1502.2 L834.2 1502.9 L835.1 1504.4 L836.0 1502.1 L836.9 1499.7 L837.8 1499.7 L838.7 1498.1 L839.6 1499.6 L840.5 1501.4 L841.4 1503.2 L842.3 1503.4 L843.2 1500.6 L844.1 1499.8 L845.0 1501.8 L845.9 1504.7 L846.8 1503.4 L847.7 1500.3 L848.6 1500.7 L849.5 1501.1 L850.4 1501.8 L851.3 1502.4 L852.2 1504.3 L853.1 1507.8 L854.0 1507.0 L854.9 1501.5 L855.8 1500.2 L856.7 1501.9 L857.6 1501.8 L858.5 1502.1 L859.4 1499.9 L860.3 1499.2 L861.2 1499.6 L862.1 1499.7 L863.0 1501.1 L863.9 1502.4 L864.8 1500.6 L865.7 1501.1 L866.6 1503.0 L867.5 1502.5 L868.4 1502.9 L869.3 1504.1 L870.2 1504.3 L871.1 1503.1 L872.0 1501.5 L872.9 1500.5 L873.8 1503.1 L874.7 1504.9 L875.6 1503.9 L876.5 1501.4 L877.4 1503.0 L878.3 1504.0 L879.2 1502.6 L880.1 1500.2 L881.0 1500.0 L881.9 1500.7 L882.8 1504.2 L883.7 1505.3 L884.6 1502.1 L885.5 1499.7 L886.4 1500.9 L887.3 1503.2 L888.2 1503.4 L889.1 1503.3 L890.0 1501.3 L890.9 1502.4 L891.8 1502.3 L892.7 1503.3 L893.6 1504.5 L894.5 1504.9 L895.4 1506.2 L896.3 1504.3 L897.2 1502.7 L898.1 1501.3 L899.0 1502.3 L899.9 1501.8 L900.8 1503.4 L901.7 1503.3 L902.6 1504.0 L903.5 1503.3 L904.4 1502.2 L905.3 1501.6 L906.2 1503.3 L907.1 1505.7 L908.0 1504.5 L908.9 1504.8 L909.8 1506.6 L910.7 1506.1 L911.6 1503.0 L912.5 1500.0 L913.4 1499.9 L914.3 1502.9 L915.2 1502.3 L916.1 1504.0 L917.0 1505.1 L917.9 1505.2 L918.8 1506.4 L919.7 1504.6 L920.6 1501.4 L921.5 1500.7 L922.4 1499.8 L923.3 1498.9 L924.2 1501.7 L925.1 1502.3 L926.0 1501.9 L926.9 1499.3 L927.8 1497.0 L928.7 1498.2 L929.6 1500.0 L930.5 1499.7 L931.4 1501.7 L932.3 1503.3 L933.2 1502.0 L934.1 1500.3 L935.0 1500.3 L935.9 1500.0 L936.8 1501.1 L937.7 1503.5 L938.6 1502.9 L939.5 1499.4 L940.4 1499.0 L941.3 1501.7 L942.2 1501.5 L943.1 1501.0 L944.0 1499.6 L944.9 1499.4 L945.8 1499.7 L946.7 1502.0 L947.6 1502.0 L948.5 1503.6 L949.4 1502.8 L950.3 1503.1 L951.2 1501.9 L952.1 1501.3 L953.0 1502.7 L953.9 1502.3 L954.8 1501.7 L955.7 1503.2 L956.6 1503.0 L957.5 1502.2 L958.4 1504.4 L959.3 1502.5 L960.2 1500.2 L961.1 1502.7 L962.0 1502.2 L962.9 1500.4 L963.8 1500.8 L964.7 1503.1 L965.6 1503.1 L966.5 1500.6 L967.4 1500.6 L968.3 1501.0 L969.2 1502.7 L970.1 1500.3 L971.0 1499.9 L971.9 1502.3 L972.8 1504.0 L973.7 1503.4 L974.6 1503.1 L975.5 1502.2 L976.4 1501.9 L977.3 1502.7 L978.2 1502.4 L979.1 1502.2 L980.0 1501.3 L980.9 1502.7 L981.8 1503.5 L982.7 1503.4 L983.6 1502.1 L984.5 1500.6 L985.4 1503.0 L986.3 1505.3 L987.2 1504.0 L988.1 1502.9 L989.0 1503.0 L989.9 1504.7 L990.8 1504.7 L991.7 1502.7 L992.6 1501.1 L993.5 1499.2 L994.4 1501.4 L995.3 1502.4 L996.2 1505.3 L997.1 1506.1 L998.0 1502.1 L998.9 1500.9 L999.8 1500.2 L1000.7 1500.9 L1001.6 1503.2 L1002.5 1502.2 L1003.4 1501.4 L1004.3 1502.6 L1005.2 1504.1 L1006.1 1503.0 L1007.0 1499.8 L1007.9 1501.3 L1008.8 1501.9 L1009.7 1502.9 L1010.6 1502.3 L1011.5 1502.0 L1012.4 1501.5 L1013.3 1501.9 L1014.2 1500.2 L1015.1 1502.4 L1016.0 1502.6 L1016.9 1501.3 L1017.8 1501.3 L1018.7 1499.2 L1019.6 1499.1 L1020.5 1499.7 L1021.4 1501.0 L1022.3 1504.0 L1023.2 1506.0 L1024.1 1504.0 L1025.0 1503.4 L1025.9 1500.4 L1026.8 1500.2 L1027.7 1498.5 L1028.6 1497.0 L1029.5 1499.2 L1030.4 1500.8 L1031.3 1503.0 L1032.2 1503.0 L1033.1 1502.7 L1034.0 1503.5 L1034.9 1502.2 L1035.8 1502.3 L1036.7 1502.6 L1037.6 1501.0 L1038.5 1504.2 L1039.4 1501.7 L1040.3 1498.7 L1041.2 1500.2 L1042.1 1500.1 L1043.0 1499.6 L1043.9 1499.5 L1044.8 1500.0 L1045.7 1499.8 L1046.6 1499.8 L1047.5 1498.8 L1048.4 1497.9 L1049.3 1500.9 L1050.2 1501.7 L1051.1 1499.9 L1052.0 1498.3 L1052.9 1498.7 L1053.8 1501.1 L1054.7 1500.8 L1055.6 1502.2 L1056.5 1502.0 L1057.4 1500.8 L1058.3 1499.2 L1059.2 1497.6 L1060.1 1496.7 L1061.0 1498.6 L1061.9 1498.6 L1062.8 1499.5 L1063.7 1499.4 L1064.6 1498.8 L1065.5 1502.1 L1066.4 1501.6 L1067.3 1500.6 L1068.2 1499.2 L1069.1 1500.8 L1070.0 1500.9 L1070.9 1500.5 L1071.8 1501.7 L1072.7 1503.5 L1073.6 1503.7 L1074.5 1501.0 L1075.4 1503.7 L1076.3 1507.5 L1077.2 1506.4 L1078.1 1503.2 L1079.0 1500.8 L1079.9 1500.8 L1080.8 1498.4 L1081.7 1500.6 L1082.6 1505.3 L1083.5 1504.4" fill="none" stroke="#008000" stroke-width="4.0" stroke-linejoin="round"/>
<path d="M125.0 1689.3 L125.9 1687.7 L126.8 1687.2 L127.7 1686.7 L128.6 1686.3 L129.5 1686.6 L130.4 1688.0 L131.3 1687.7 L132.2 1686.6 L133.1 1687.6 L134.0 1688.9 L134.9 1689.7 L135.8 1689.0 L136.7 1687.8 L137.6 1687.4 L138.5 1688.5 L139.4 1689.2 L140.3 1688.8 L141.2 1688.0 L142.1 1687.5 L143.0 1686.6 L143.9 1687.9 L144.8 1688.7 L145.7 1687.8 L146.6 1687.8 L147.5 1688.4 L148.4 1688.2 L149.3 1688.8 L150.2 1688.4 L151.1 1688.1 L152.0 1687.4 L152.9 1688.0 L153.8 1688.4 L154.7 1687.0 L155.6 1687.5 L156.5 1687.2 L157.4 1689.8 L158.3 1688.9 L159.2 1687.0 L160.1 1687.5 L161.0 1688.2 L161.9 1687.0 L162.8 1685.6 L163.7 1687.3 L164.6 1688.0 L165.5 1687.2 L166.4 1686.8 L167.3 1686.2 L168.2 1685.2 L169.1 1686.3 L170.0 1688.2 L170.9 1688.2 L171.8 1687.3 L172.7 1686.4 L173.6 1687.8 L174.5 1690.2 L175.4 1688.5 L176.3 1688.2 L177.2 1689.7 L178.1 1688.2 L179.0 1686.2 L179.9 1686.5 L180.8 1686.7 L181.7 1685.5 L182.6 1686.2 L183.5 1685.2 L184.4 1683.9 L185.3 1684.7 L186.2 1685.8 L187.1 1687.6 L188.0 1688.7 L188.9 1689.0 L189.8 1687.2 L190.7 1686.6 L191.6 1687.2 L192.5 1688.5 L193.4 1688.1 L194.3 1687.1 L195.2 1686.9 L196.1 1688.0 L197.0 1686.2 L197.9 1686.4 L198.8 1687.0 L199.7 1687.2 L200.6 1686.6 L201.5 1687.8 L202.4 1687.1 L203.3 1686.0 L204.2 1686.2 L205.1 1686.7 L206.0 1686.8 L206.9 1687.3 L207.8 1686.6 L208.7 1687.7 L209.6 1688.9 L210.5 1688.2 L211.4 1688.2 L212.3 1687.4 L213.2 1686.0 L214.1 1687.4 L215.0 1687.4 L215.9 1687.9 L216.8 1688.2 L217.7 1687.6 L218.6 1686.8 L219.5 1686.1 L220.4 1687.2 L221.3 1687.3 L222.2 1687.6 L223.1 1687.6 L224.0 1686.8 L224.9 1689.4 L225.8 1691.6 L226.7 1688.2 L227.6 1686.3 L228.5 1688.5 L229.4 1688.4 L230.3 1687.7 L231.2 1687.0 L232.1 1686.3 L233.0 1686.3 L233.9 1686.8 L234.8 1686.7 L235.7 1684.7 L236.6 1682.5 L237.5 1684.6 L238.4 1685.1 L239.3 1684.5 L240.2 1684.5 L241.1 1685.1 L242.0 1686.5 L242.9 1686.6 L243.8 1687.4 L244.7 1688.0 L245.6 1688.8 L246.5 1688.5 L247.4 1687.9 L248.3 1686.5 L249.2 1685.9 L250.1 1687.7 L251.0 1688.4 L251.9 1687.3 L252.8 1686.8 L253.7 1686.8 L254.6 1687.2 L255.5 1688.3 L256.4 1688.0 L257.3 1688.3 L258.2 1687.8 L259.1 1687.5 L260.0 1688.8 L260.9 1687.7 L261.8 1687.2 L262.7 1688.6 L263.6 1688.2 L264.5 1686.9 L265.4 1685.9 L266.3 1685.4 L267.2 1686.0 L268.1 1686.9 L269.0 1686.7 L269.9 1687.5 L270.8 1687.2 L271.7 1687.3 L272.6 1686.5 L273.5 1686.8 L274.4 1686.9 L275.3 1686.7 L276.2 1686.5 L277.1 1686.2 L278.0 1686.9 L278.9 1688.2 L279.8 1687.7 L280.7 1688.2 L281.6 1688.2 L282.5 1687.7 L283.4 1687.7 L284.3 1687.1 L285.2 1686.4 L286.1 1685.9 L287.0 1685.4 L287.9 1685.9 L288.8 1687.6 L289.7 1686.8 L290.6 1686.5 L291.5 1686.2 L292.4 1684.2 L293.3 1685.7 L294.2 1686.6 L295.1 1686.2 L296.0 1685.6 L296.9 1684.5 L297.8 1684.0 L298.7 1686.5 L299.6 1687.3 L300.5 1686.8 L301.4 1686.5 L302.3 1685.8 L303.2 1683.8 L304.1 1682.4 L305.0 1683.7 L305.9 1684.6 L306.8 1685.8 L307.7 1686.0 L308.6 1686.1 L309.5 1685.8 L310.4 1685.2 L311.3 1685.4 L312.2 1685.3 L313.1 1685.0 L314.0 1686.4 L314.9 1687.0 L315.8 1686.3 L316.7 1685.9 L317.6 1686.0 L318.5 1685.8 L319.4 1685.1 L320.3 1685.4 L321.2 1685.2 L322.1 1684.8 L323.0 1685.1 L323.9 1685.0 L324.8 1685.6 L325.7 1687.0 L326.6 1687.5 L327.5 1685.7 L328.4 1685.2 L329.3 1686.3 L330.2 1685.5 L331.1 1686.0 L332.0 1686.3 L332.9 1688.0 L333.8 1689.7 L334.7 1686.9 L335.6 1686.1 L336.5 1685.5 L337.4 1685.0 L338.3 1685.5 L339.2 1685.9 L340.1 1687.7 L341.0 1686.7 L341.9 1685.2 L342.8 1685.2 L343.7 1684.9 L344.6 1684.4 L345.5 1684.4 L346.4 1685.0 L347.3 1685.4 L348.2 1685.1 L349.1 1684.7 L350.0 1685.2 L350.9 1685.3 L351.8 1684.5 L352.7 1685.3 L353.6 1684.9 L354.5 1682.9 L355.4 1682.7 L356.3 1682.6 L357.2 1683.1 L358.1 1683.6 L359.0 1682.5 L359.9 1681.0 L360.8 1681.1 L361.7 1681.2 L362.6 1681.6 L363.5 1680.0 L364.4 1678.7 L365.3 1678.3 L366.2 1677.3 L367.1 1675.7 L368.0 1675.0 L368.9 1674.0 L369.8 1672.8 L370.7 1672.1 L371.6 1672.1 L372.5 1671.5 L373.4 1670.6 L374.3 1667.7 L375.2 1665.8 L376.1 1665.0 L377.0 1664.6 L377.9 1662.4 L378.8 1660.3 L379.7 1656.1 L380.6 1655.6 L381.5 1656.1 L382.4 1653.4 L383.3 1651.5 L384.2 1648.3 L385.1 1645.8 L386.0 1644.9 L386.9 1642.7 L387.8 1640.2 L388.7 1637.7 L389.6 1632.3 L390.5 1628.5 L391.4 1625.9 L392.3 1621.9 L393.2 1616.0 L394.1 1611.0 L395.0 1607.4 L395.9 1603.5 L396.8 1601.1 L397.7 1598.3 L398.6 1596.3 L399.5 1595.1 L400.4 1593.8 L401.3 1591.6 L402.2 1591.8 L403.1 1591.4 L404.0 1591.5 L404.9 1593.3 L405.8 1595.7 L406.7 1597.9 L407.6 1600.0 L408.5 1603.4 L409.4 1606.1 L410.3 1610.1 L411.2 1617.0 L412.1 1624.1 L413.0 1631.0 L413.9 1640.3 L414.8 1649.0 L415.7 1657.1 L416.6 1669.0 L417.5 1676.7 L418.4 1686.0 L419.3 1698.3 L420.2 1708.7 L421.1 1718.4 L422.0 1727.7 L422.9 1735.6 L423.8 1742.8 L424.7 1750.7 L425.6 1757.3 L426.5 1761.4 L427.4 1765.7 L428.3 1768.7 L429.2 1770.8 L430.1 1774.0 L431.0 1777.8 L431.9 1780.0 L432.8 1782.1 L433.7 1782.5 L434.6 1779.0 L435.5 1775.0 L436.4 1769.6 L437.3 1769.6 L438.2 1768.8 L439.1 1766.1 L440.0 1764.5 L440.9 1760.4 L441.8 1756.2 L442.7 1751.2 L443.6 1744.7 L444.5 1740.1 L445.4 1736.6 L446.3 1732.0 L447.2 1729.1 L448.1 1724.3 L449.0 1719.3 L449.9 1716.8 L450.8 1714.6 L451.7 1711.0 L452.6 1709.1 L453.5 1706.4 L454.4 1704.6 L455.3 1704.5 L456.2 1704.0 L457.1 1701.4 L458.0 1699.8 L458.9 1700.3 L459.8 1699.7 L460.7 1698.1 L461.6 1696.3 L462.5 1693.7 L463.4 1691.1 L464.3 1689.7 L465.2 1688.9 L466.1 1687.8 L467.0 1688.1 L467.9 1684.3 L468.8 1680.6 L469.7 1677.3 L470.6 1675.4 L471.5 1674.2 L472.4 1673.9 L473.3 1671.5 L474.2 1669.5 L475.1 1668.5 L476.0 1666.1 L476.9 1664.6 L477.8 1663.4 L478.7 1661.1 L479.6 1657.8 L480.5 1652.9 L481.4 1649.2 L482.3 1646.3 L483.2 1642.5 L484.1 1637.6 L485.0 1634.1 L485.9 1630.7 L486.8 1624.9 L487.7 1619.2 L488.6 1614.6 L489.5 1610.7 L490.4 1608.5 L491.3 1604.5 L492.2 1599.5 L493.1 1597.7 L494.0 1596.0 L494.9 1593.4 L495.8 1590.1 L496.7 1590.0 L497.6 1588.8 L498.5 1586.3 L499.4 1584.5 L500.3 1583.1 L501.2 1582.9 L502.1 1584.3 L503.0 1583.8 L503.9 1586.4 L504.8 1589.2 L505.7 1590.9 L506.6 1593.2 L507.5 1596.5 L508.4 1601.5 L509.3 1604.1 L510.2 1608.1 L511.1 1614.7 L512.0 1621.7 L512.9 1629.5 L513.8 1637.3 L514.7 1647.4 L515.6 1657.7 L516.5 1666.4 L517.4 1673.8 L518.3 1680.1 L519.2 1687.6 L520.1 1695.2 L521.0 1701.5 L521.9 1703.5 L522.8 1703.3 L523.7 1703.6 L524.6 1702.4 L525.5 1700.3 L526.4 1700.2 L527.3 1700.3 L528.2 1699.8 L529.1 1696.8 L530.0 1693.0 L530.9 1688.8 L531.8 1683.8 L532.7 1679.9 L533.6 1678.4 L534.5 1678.0 L535.4 1675.2 L536.3 1671.9 L537.2 1668.9 L538.1 1669.2 L539.0 1669.5 L539.9 1669.6 L540.8 1671.4 L541.7 1674.2 L542.6 1675.6 L543.5 1676.9 L544.4 1679.9 L545.3 1683.8 L546.2 1688.4 L547.1 1694.7 L548.0 1701.6 L548.9 1707.0 L549.8 1711.5 L550.7 1718.0 L551.6 1725.5 L552.5 1733.6 L553.4 1741.4 L554.3 1748.0 L555.2 1754.5 L556.1 1761.9 L557.0 1767.3 L557.9 1770.8 L558.8 1777.6 L559.7 1785.4 L560.6 1788.1 L561.5 1789.2 L562.4 1789.8 L563.3 1792.1 L564.2 1792.9 L565.1 1793.0 L566.0 1791.1 L566.9 1788.2 L567.8 1783.7 L568.7 1781.9 L569.6 1780.8 L570.5 1776.3 L571.4 1772.9 L572.3 1769.1 L573.2 1764.2 L574.1 1757.7 L575.0 1752.8 L575.9 1748.4 L576.8 1743.8 L577.7 1740.4 L578.6 1737.6 L579.5 1733.4 L580.4 1730.2 L581.3 1728.7 L582.2 1725.9 L583.1 1722.1 L584.0 1719.8 L584.9 1718.3 L585.8 1716.9 L586.7 1714.3 L587.6 1711.3 L588.5 1709.0 L589.4 1706.2 L590.3 1704.7 L591.2 1703.7 L592.1 1701.4 L593.0 1700.0 L593.9 1698.5 L594.8 1696.2 L595.7 1694.8 L596.6 1690.9 L597.5 1689.7 L598.4 1689.8 L599.3 1688.1 L600.2 1684.6 L601.1 1682.3 L602.0 1682.2 L602.9 1680.6 L603.8 1678.2 L604.7 1677.1 L605.6 1675.5 L606.5 1672.0 L607.4 1669.8 L608.3 1669.2 L609.2 1668.5 L610.1 1667.2 L611.0 1663.7 L611.9 1661.9 L612.8 1659.1 L613.7 1656.4 L614.6 1653.8 L615.5 1650.8 L616.4 1646.6 L617.3 1642.5 L618.2 1637.2 L619.1 1631.2 L620.0 1627.4 L620.9 1621.5 L621.8 1615.6 L622.7 1611.4 L623.6 1605.7 L624.5 1601.5 L625.4 1598.5 L626.3 1596.1 L627.2 1593.7 L628.1 1591.0 L629.0 1588.9 L629.9 1587.2 L630.8 1586.7 L631.7 1585.5 L632.6 1584.6 L633.5 1584.3 L634.4 1585.0 L635.3 1586.9 L636.2 1588.1 L637.1 1589.0 L638.0 1590.4 L638.9 1594.1 L639.8 1598.2 L640.7 1602.5 L641.6 1609.1 L642.5 1617.9 L643.4 1625.4 L644.3 1633.0 L645.2 1641.2 L646.1 1648.9 L647.0 1655.0 L647.9 1662.7 L648.8 1671.0 L649.7 1679.8 L650.6 1686.0 L651.5 1690.8 L652.4 1695.8 L653.3 1699.7 L654.2 1704.9 L655.1 1708.7 L656.0 1710.8 L656.9 1711.0 L657.8 1709.3 L658.7 1706.9 L659.6 1705.9 L660.5 1704.9 L661.4 1701.7 L662.3 1700.7 L663.2 1697.6 L664.1 1692.6 L665.0 1686.6 L665.9 1682.6 L666.8 1682.3 L667.7 1681.2 L668.6 1677.9 L669.5 1675.2 L670.4 1672.3 L671.3 1671.3 L672.2 1671.6 L673.1 1671.9 L674.0 1672.2 L674.9 1673.1 L675.8 1675.3 L676.7 1679.1 L677.6 1682.8 L678.5 1688.7 L679.4 1696.3 L680.3 1703.7 L681.2 1709.6 L682.1 1716.3 L683.0 1722.0 L683.9 1729.0 L684.8 1736.6 L685.7 1743.1 L686.6 1750.1 L687.5 1758.3 L688.4 1764.7 L689.3 1769.0 L690.2 1773.9 L691.1 1778.0 L692.0 1783.1 L692.9 1788.0 L693.8 1791.3 L694.7 1793.9 L695.6 1793.9 L696.5 1792.3 L697.4 1791.9 L698.3 1792.4 L699.2 1791.2 L700.1 1788.8 L701.0 1787.3 L701.9 1785.0 L702.8 1782.8 L703.7 1778.6 L704.6 1773.1 L705.5 1768.7 L706.4 1764.6 L707.3 1762.2 L708.2 1759.9 L709.1 1754.5 L710.0 1750.6 L710.9 1747.6 L711.8 1743.3 L712.7 1740.1 L713.6 1737.2 L714.5 1733.9 L715.4 1732.1 L716.3 1728.8 L717.2 1724.6 L718.1 1719.7 L719.0 1715.7 L719.9 1713.2 L720.8 1711.2 L721.7 1708.9 L722.6 1707.7 L723.5 1706.1 L724.4 1704.5 L725.3 1702.5 L726.2 1700.3 L727.1 1697.8 L728.0 1697.5 L728.9 1695.3 L729.8 1693.1 L730.7 1692.5 L731.6 1692.5 L732.5 1690.5 L733.4 1687.7 L734.3 1683.7 L735.2 1685.0 L736.1 1685.2 L737.0 1682.6 L737.9 1681.1 L738.8 1680.3 L739.7 1678.2 L740.6 1675.3 L741.5 1673.6 L742.4 1670.0 L743.3 1667.9 L744.2 1665.8 L745.1 1663.7 L746.0 1660.6 L746.9 1656.9 L747.8 1653.6 L748.7 1648.4 L749.6 1642.5 L750.5 1638.2 L751.4 1634.9 L752.3 1630.6 L753.2 1626.6 L754.1 1622.6 L755.0 1617.6 L755.9 1612.8 L756.8 1611.1 L757.7 1609.6 L758.6 1606.6 L759.5 1603.1 L760.4 1602.4 L761.3 1603.3 L762.2 1601.1 L763.1 1598.5 L764.0 1597.3 L764.9 1597.7 L765.8 1598.1 L766.7 1599.8 L767.6 1601.5 L768.5 1602.9 L769.4 1606.5 L770.3 1606.9 L771.2 1609.6 L772.1 1613.6 L773.0 1616.4 L773.9 1621.2 L774.8 1627.7 L775.7 1633.1 L776.6 1638.5 L777.5 1647.2 L778.4 1658.9 L779.3 1670.7 L780.2 1680.4 L781.1 1689.4 L782.0 1701.7 L782.9 1713.9 L783.8 1726.3 L784.7 1736.8 L785.6 1746.1 L786.5 1753.6 L787.4 1758.1 L788.3 1763.2 L789.2 1769.0 L790.1 1774.4 L791.0 1777.2 L791.9 1781.0 L792.8 1785.6 L793.7 1788.3 L794.6 1787.0 L795.5 1786.3 L796.4 1784.6 L797.3 1783.2 L798.2 1780.2 L799.1 1777.6 L800.0 1775.1 L800.9 1773.2 L801.8 1770.5 L802.7 1768.0 L803.6 1763.6 L804.5 1758.7 L805.4 1755.1 L806.3 1749.9 L807.2 1746.2 L808.1 1742.8 L809.0 1738.7 L809.9 1736.2 L810.8 1732.5 L811.7 1729.2 L812.6 1726.3 L813.5 1724.9 L814.4 1721.4 L815.3 1719.0 L816.2 1718.1 L817.1 1715.3 L818.0 1712.8 L818.9 1712.3 L819.8 1711.9 L820.7 1709.8 L821.6 1707.8 L822.5 1706.6 L823.4 1705.0 L824.3 1704.0 L825.2 1704.5 L826.1 1703.1 L827.0 1702.5 L827.9 1701.2 L828.8 1699.0 L829.7 1698.5 L830.6 1697.8 L831.5 1697.2 L832.4 1696.8 L833.3 1695.3 L834.2 1694.4 L835.1 1695.7 L836.0 1695.2 L836.9 1694.3 L837.8 1693.6 L838.7 1694.3 L839.6 1695.2 L840.5 1694.3 L841.4 1695.3 L842.3 1696.1 L843.2 1696.7 L844.1 1695.3 L845.0 1694.2 L845.9 1692.9 L846.8 1694.2 L847.7 1695.4 L848.6 1695.8 L849.5 1695.6 L850.4 1694.7 L851.3 1694.0 L852.2 1692.6 L853.1 1692.6 L854.0 1693.8 L854.9 1693.9 L855.8 1694.0 L856.7 1693.8 L857.6 1692.3 L858.5 1691.4 L859.4 1692.9 L860.3 1692.5 L861.2 1693.2 L862.1 1693.5 L863.0 1692.3 L863.9 1692.1 L864.8 1692.9 L865.7 1693.6 L866.6 1695.4 L867.5 1694.9 L868.4 1693.3 L869.3 1694.2 L870.2 1693.9 L871.1 1693.8 L872.0 1693.6 L872.9 1695.0 L873.8 1696.1 L874.7 1693.4 L875.6 1691.5 L876.5 1692.8 L877.4 1693.1 L878.3 1693.7 L879.2 1693.7 L880.1 1693.2 L881.0 1693.9 L881.9 1695.0 L882.8 1693.4 L883.7 1692.1 L884.6 1692.8 L885.5 1692.6 L886.4 1692.3 L887.3 1692.3 L888.2 1693.7 L889.1 1693.1 L890.0 1691.3 L890.9 1690.8 L891.8 1692.0 L892.7 1692.0 L893.6 1691.9 L894.5 1691.4 L895.4 1691.0 L896.3 1691.9 L897.2 1691.7 L898.1 1691.7 L899.0 1692.5 L899.9 1692.2 L900.8 1691.1 L901.7 1692.7 L902.6 1693.4 L903.5 1691.7 L904.4 1692.4 L905.3 1692.7 L906.2 1690.2 L907.1 1690.3 L908.0 1691.1 L908.9 1691.4 L909.8 1691.4 L910.7 1691.9 L911.6 1691.5 L912.5 1691.5 L913.4 1689.8 L914.3 1690.7 L915.2 1691.6 L916.1 1691.9 L917.0 1691.2 L917.9 1691.9 L918.8 1691.9 L919.7 1691.4 L920.6 1690.8 L921.5 1691.6 L922.4 1691.5 L923.3 1693.3 L924.2 1690.3 L925.1 1689.3 L926.0 1691.1 L926.9 1692.2 L927.8 1692.2 L928.7 1691.5 L929.6 1690.7 L930.5 1690.6 L931.4 1692.2 L932.3 1692.6 L933.2 1691.7 L934.1 1691.3 L935.0 1691.5 L935.9 1692.0 L936.8 1692.5 L937.7 1691.5 L938.6 1691.0 L939.5 1691.1 L940.4 1692.2 L941.3 1691.6 L942.2 1690.4 L943.1 1689.3 L944.0 1690.6 L944.9 1692.3 L945.8 1692.7 L946.7 1691.9 L947.6 1692.5 L948.5 1692.6 L949.4 1691.4 L950.3 1691.4 L951.2 1691.9 L952.1 1692.4 L953.0 1692.1 L953.9 1692.8 L954.8 1692.5 L955.7 1692.6 L956.6 1690.9 L957.5 1690.7 L958.4 1690.4 L959.3 1691.1 L960.2 1691.4 L961.1 1692.4 L962.0 1691.6 L962.9 1691.2 L963.8 1690.2 L964.7 1689.9 L965.6 1690.7 L966.5 1691.4 L967.4 1691.1 L968.3 1690.4 L969.2 1690.1 L970.1 1689.0 L971.0 1689.7 L971.9 1690.8 L972.8 1691.3 L973.7 1690.8 L974.6 1688.7 L975.5 1688.8 L976.4 1689.2 L977.3 1689.5 L978.2 1689.9 L979.1 1690.9 L980.0 1690.6 L980.9 1690.6 L981.8 1691.1 L982.7 1691.0 L983.6 1691.1 L984.5 1690.2 L985.4 1689.4 L986.3 1689.9 L987.2 1689.0 L988.1 1688.6 L989.0 1690.1 L989.9 1689.9 L990.8 1687.8 L991.7 1689.3 L992.6 1688.1 L993.5 1688.1 L994.4 1689.1 L995.3 1689.3 L996.2 1688.7 L997.1 1688.6 L998.0 1688.7 L998.9 1689.1 L999.8 1689.8 L1000.7 1690.4 L1001.6 1689.4 L1002.5 1689.3 L1003.4 1689.2 L1004.3 1689.0 L1005.2 1690.1 L1006.1 1691.1 L1007.0 1689.8 L1007.9 1690.2 L1008.8 1689.9 L1009.7 1689.1 L1010.6 1688.5 L1011.5 1688.6 L1012.4 1688.3 L1013.3 1689.9 L1014.2 1691.6 L1015.1 1689.9 L1016.0 1689.9 L1016.9 1691.2 L1017.8 1690.5 L1018.7 1688.2 L1019.6 1687.1 L1020.5 1688.6 L1021.4 1690.2 L1022.3 1691.4 L1023.2 1692.4 L1024.1 1692.3 L1025.0 1690.6 L1025.9 1690.0 L1026.8 1691.2 L1027.7 1690.3 L1028.6 1689.7 L1029.5 1689.9 L1030.4 1689.3 L1031.3 1689.3 L1032.2 1687.9 L1033.1 1688.7 L1034.0 1689.2 L1034.9 1688.8 L1035.8 1688.6 L1036.7 1688.2 L1037.6 1688.4 L1038.5 1687.1 L1039.4 1687.8 L1040.3 1688.6 L1041.2 1688.9 L1042.1 1687.2 L1043.0 1687.1 L1043.9 1687.8 L1044.8 1688.5 L1045.7 1689.7 L1046.6 1692.1 L1047.5 1690.6 L1048.4 1688.8 L1049.3 1689.6 L1050.2 1689.5 L1051.1 1690.0 L1052.0 1688.2 L1052.9 1686.6 L1053.8 1687.9 L1054.7 1689.6 L1055.6 1690.1 L1056.5 1690.8 L1057.4 1690.8 L1058.3 1690.7 L1059.2 1690.2 L1060.1 1690.0 L1061.0 1688.6 L1061.9 1689.7 L1062.8 1690.1 L1063.7 1691.1 L1064.6 1690.6 L1065.5 1689.8 L1066.4 1688.7 L1067.3 1690.2 L1068.2 1690.5 L1069.1 1689.3 L1070.0 1688.3 L1070.9 1689.2 L1071.8 1690.5 L1072.7 1690.1 L1073.6 1690.5 L1074.5 1689.9 L1075.4 1688.8 L1076.3 1689.3 L1077.2 1690.7 L1078.1 1691.7 L1079.0 1690.3 L1079.9 1690.2 L1080.8 1690.9 L1081.7 1690.4 L1082.6 1690.5 L1083.5 1690.7" fill="none" stroke="#0000ff" stroke-width="4.0" stroke-linejoin="round"/>
<path transform="translate(404.8 1132.5)" d="M0 20.00 C-3.00 15.00 -10.50 11.00 -10.50 5.50 C-10.50 1.50 -7.80 0 -5.30 0 C-2.80 0 -0.80 1.50 0 3.50 C0.80 1.50 2.80 0 5.30 0 C7.80 0 10.50 1.50 10.50 5.50 C10.50 11.00 3.00 15.00 0 20.00 Z" fill="#111"/>
<path transform="translate(503.0 1132.5)" d="M0 20.00 C-3.00 15.00 -10.50 11.00 -10.50 5.50 C-10.50 1.50 -7.80 0 -5.30 0 C-2.80 0 -0.80 1.50 0 3.50 C0.80 1.50 2.80 0 5.30 0 C7.80 0 10.50 1.50 10.50 5.50 C10.50 11.00 3.00 15.00 0 20.00 Z" fill="#111"/>
<path transform="translate(637.6 1132.5)" d="M0 20.00 C-3.00 15.00 -10.50 11.00 -10.50 5.50 C-10.50 1.50 -7.80 0 -5.30 0 C-2.80 0 -0.80 1.50 0 3.50 C0.80 1.50 2.80 0 5.30 0 C7.80 0 10.50 1.50 10.50 5.50 C10.50 11.00 3.00 15.00 0 20.00 Z" fill="#111"/>
<path transform="translate(764.3 1132.5)" d="M0 20.00 C-3.00 15.00 -10.50 11.00 -10.50 5.50 C-10.50 1.50 -7.80 0 -5.30 0 C-2.80 0 -0.80 1.50 0 3.50 C0.80 1.50 2.80 0 5.30 0 C7.80 0 10.50 1.50 10.50 5.50 C10.50 11.00 3.00 15.00 0 20.00 Z" fill="#111"/>
<text transform="translate(1092.0 1283.8) scale(1.022 1.04)" font-size="36.3" fill="#e3182f" text-anchor="end" >GF/PDA/TiO<tspan font-size="0.68em" dy="0.4265em">2</tspan><tspan dy="-0.2900em">​</tspan>-NT</text>
<text transform="translate(1089.5 1431.2) scale(1.022 1.04)" font-size="36.3" fill="#f08a2a" text-anchor="end" >GF/PDA/TiO<tspan font-size="0.68em" dy="0.4265em">2</tspan><tspan dy="-0.2900em">​</tspan>-NT/Ru</text>
<text transform="translate(1091.8 1565.2) scale(1.022 1.04)" font-size="36.3" fill="#1e8a2e" text-anchor="end" >GF/PDA/TiO<tspan font-size="0.68em" dy="0.4265em">2</tspan><tspan dy="-0.2900em">​</tspan>-NT/SnO<tspan font-size="0.68em" dy="0.4265em">2</tspan><tspan dy="-0.2900em">​</tspan></text>
<text transform="translate(1092.0 1831.8) scale(1.022 1.04)" font-size="36.3" fill="#1515f0" text-anchor="end" >GF/PDA/TiO<tspan font-size="0.68em" dy="0.4265em">2</tspan><tspan dy="-0.2900em">​</tspan>-NT/SnO<tspan font-size="0.68em" dy="0.4265em">2</tspan><tspan dy="-0.2900em">​</tspan>/Ru</text>
<rect x="1377.5" y="158.5" width="96.8" height="652.2" fill="#da9dc1" stroke="#8e6a84" stroke-width="2"/>
<rect x="1474.3" y="410.7" width="98.5" height="400.0" fill="#acdef5" stroke="#6d93aa" stroke-width="2"/>
<line x1="1474.3" y1="158.5" x2="1474.3" y2="810.7" stroke="#3a3a3a" stroke-width="2.2"/>
<rect x="1622.9" y="154.3" width="96.8" height="656.4" fill="#da9dc1" stroke="#8e6a84" stroke-width="2"/>
<rect x="1719.7" y="402.8" width="98.5" height="407.9" fill="#acdef5" stroke="#6d93aa" stroke-width="2"/>
<line x1="1719.7" y1="154.3" x2="1719.7" y2="810.7" stroke="#3a3a3a" stroke-width="2.2"/>
<rect x="1868.3" y="97.1" width="96.8" height="713.6" fill="#da9dc1" stroke="#8e6a84" stroke-width="2"/>
<rect x="1965.1" y="153.5" width="98.5" height="657.2" fill="#acdef5" stroke="#6d93aa" stroke-width="2"/>
<line x1="1965.1" y1="97.1" x2="1965.1" y2="810.7" stroke="#3a3a3a" stroke-width="2.2"/>
<rect x="2113.7" y="97.1" width="96.8" height="713.6" fill="#da9dc1" stroke="#8e6a84" stroke-width="2"/>
<rect x="2210.5" y="240.0" width="98.5" height="570.7" fill="#acdef5" stroke="#6d93aa" stroke-width="2"/>
<line x1="2210.5" y1="97.1" x2="2210.5" y2="810.7" stroke="#3a3a3a" stroke-width="2.2"/>
<line x1="1474.3" y1="159.3" x2="1571.5" y2="159.3" stroke="#2a2a2a" stroke-width="3.4"/>
<line x1="1719.7" y1="155.1" x2="1815.0" y2="155.1" stroke="#2a2a2a" stroke-width="3.4"/>
<line x1="1965.1" y1="103.8" x2="2062.4" y2="103.8" stroke="#2a2a2a" stroke-width="3.4"/>
<line x1="2210.5" y1="103.8" x2="2307.4" y2="103.8" stroke="#2a2a2a" stroke-width="3.4"/>
<line x1="1526.9" y1="177.5" x2="1526.9" y2="234.0" stroke="#333" stroke-width="2.2"/>
<path d="M1526.9 160.5 L1521.9 179.0 L1531.9 179.0 Z" fill="#111"/>
<line x1="1526.9" y1="393.0" x2="1526.9" y2="322.0" stroke="#333" stroke-width="2.2"/>
<path d="M1526.9 410.0 L1521.9 391.5 L1531.9 391.5 Z" fill="#111"/>
<line x1="1771.4" y1="173.3" x2="1771.4" y2="230.6" stroke="#333" stroke-width="2.2"/>
<path d="M1771.4 156.3 L1766.4 174.8 L1776.4 174.8 Z" fill="#111"/>
<line x1="1771.4" y1="386.0" x2="1771.4" y2="315.0" stroke="#333" stroke-width="2.2"/>
<path d="M1771.4 403.0 L1766.4 384.5 L1776.4 384.5 Z" fill="#111"/>
<line x1="1982.5" y1="122.5" x2="1982.5" y2="135.0" stroke="#333" stroke-width="2.2"/>
<path d="M1982.5 105.5 L1977.5 124.0 L1987.5 124.0 Z" fill="#111"/>
<line x1="1982.5" y1="136.5" x2="1982.5" y2="125.0" stroke="#333" stroke-width="2.2"/>
<path d="M1982.5 153.5 L1977.5 135.0 L1987.5 135.0 Z" fill="#111"/>
<line x1="2259.5" y1="122.5" x2="2259.5" y2="147.0" stroke="#333" stroke-width="2.2"/>
<path d="M2259.5 105.5 L2254.5 124.0 L2264.5 124.0 Z" fill="#111"/>
<line x1="2259.5" y1="221.5" x2="2259.5" y2="193.7" stroke="#333" stroke-width="2.2"/>
<path d="M2259.5 238.5 L2254.5 220.0 L2264.5 220.0 Z" fill="#111"/>
<text transform="translate(1477.5 286.6) scale(1.020 1.04)" font-size="40.5" fill="#1a1a1a" text-anchor="start" >35.4%</text>
<text transform="translate(1733.8 286.6) scale(1.020 1.04)" font-size="40.5" fill="#1a1a1a" text-anchor="start" >35%</text>
<text transform="translate(2001.5 144.7) scale(1.020 1.04)" font-size="40.5" fill="#1a1a1a" text-anchor="start" >8%</text>
<text transform="translate(2218.6 184.3) scale(1.020 1.04)" font-size="40.5" fill="#1a1a1a" text-anchor="start" >19%</text>
<rect x="1352.6" y="25.5" width="981.0" height="785.3" fill="none" stroke="#262626" stroke-width="4.2"/>
<path d="M1352.6 810.7H1366.6M1352.6 739.3H1359.6M1352.6 667.8H1366.6M1352.6 596.4H1359.6M1352.6 525.0H1366.6M1352.6 453.6H1359.6M1352.6 382.1H1366.6M1352.6 310.7H1359.6M1352.6 239.3H1366.6M1352.6 167.8H1359.6M1352.6 96.4H1366.6M1474.3 810.8V795.8M1719.7 810.8V795.8M1965.1 810.8V795.8M2210.5 810.8V795.8M1597.0 810.8V803.8M1842.4 810.8V803.8M2087.8 810.8V803.8" stroke="#262626" stroke-width="3.2" fill="none"/>
<text transform="translate(1336.0 825.5) scale(1.030 1.04)" font-size="43" fill="#1a1a1a" text-anchor="end" >0</text>
<text transform="translate(1336.0 682.6) scale(1.030 1.04)" font-size="43" fill="#1a1a1a" text-anchor="end" >20</text>
<text transform="translate(1336.0 539.8) scale(1.030 1.04)" font-size="43" fill="#1a1a1a" text-anchor="end" >40</text>
<text transform="translate(1336.0 396.9) scale(1.030 1.04)" font-size="43" fill="#1a1a1a" text-anchor="end" >60</text>
<text transform="translate(1336.0 254.1) scale(1.030 1.04)" font-size="43" fill="#1a1a1a" text-anchor="end" >80</text>
<text transform="translate(1336.0 111.2) scale(1.030 1.04)" font-size="43" fill="#1a1a1a" text-anchor="end" >100</text>
<rect x="1665.7" y="33.6" width="81.7" height="40.6" fill="#da9dc1" stroke="#8e6a84" stroke-width="2.2"/>
<text transform="translate(1755.8 67.1) scale(1.000 1.04)" font-size="37.5" fill="#1a1a1a" text-anchor="start" >0 M Methanol</text>
<rect x="2003.2" y="33.6" width="82.9" height="40.6" fill="#acdef5" stroke="#6d93aa" stroke-width="2.2"/>
<text transform="translate(2095.4 67.1) scale(1.000 1.04)" font-size="37.5" fill="#1a1a1a" text-anchor="start" >2 M Methanol</text>
<text transform="translate(1379.2 96.0) scale(1.030 1.04)" font-size="79" fill="#0a0a0a" text-anchor="start" >b</text>
<text transform="translate(1244.0 401.2) rotate(-90) scale(1.012 1.04)" font-size="46.2" fill="#1a1a1a" text-anchor="middle" >Electrolysis efficiency&#160;&#160;(%)</text>
<text transform="translate(1314.0 937.0) rotate(-14.8) scale(1.000 1.04)" font-size="45" fill="#1a1a1a" text-anchor="start" >GF/PDA/TiO<tspan font-size="0.68em" dy="0.4265em">2</tspan><tspan dy="-0.2900em">​</tspan>-NT</text>
<text transform="translate(1489.3 954.0) rotate(-14.8) scale(1.000 1.04)" font-size="45" fill="#1a1a1a" text-anchor="start" >GF/PDA/TiO<tspan font-size="0.68em" dy="0.4265em">2</tspan><tspan dy="-0.2900em">​</tspan>-NT/Ru</text>
<text transform="translate(1697.9 967.3) rotate(-14.8) scale(1.000 1.04)" font-size="45" fill="#1a1a1a" text-anchor="start" >GF/PDA/TiO<tspan font-size="0.68em" dy="0.4265em">2</tspan><tspan dy="-0.2900em">​</tspan>-NT/SnO<tspan font-size="0.68em" dy="0.4265em">2</tspan><tspan dy="-0.2900em">​</tspan></text>
<text transform="translate(1876.0 988.3) rotate(-14.8) scale(1.000 1.04)" font-size="45" fill="#1a1a1a" text-anchor="start" >GF/PDA/TiO<tspan font-size="0.68em" dy="0.4265em">2</tspan><tspan dy="-0.2900em">​</tspan>-NT/SnO<tspan font-size="0.68em" dy="0.4265em">2</tspan><tspan dy="-0.2900em">​</tspan>/Ru</text>
<line x1="1474.3" y1="836" x2="1474.3" y2="853.5" stroke="#9a9a9a" stroke-width="1.8"/>
<path d="M1474.3 821 L1469.7 839 L1478.9 839 Z" fill="#111"/>
<line x1="1719.7" y1="836" x2="1719.7" y2="853.5" stroke="#9a9a9a" stroke-width="1.8"/>
<path d="M1719.7 821 L1715.1 839 L1724.3 839 Z" fill="#111"/>
<line x1="1965.1" y1="836" x2="1965.1" y2="853.5" stroke="#9a9a9a" stroke-width="1.8"/>
<path d="M1965.1 821 L1960.5 839 L1969.7 839 Z" fill="#111"/>
<line x1="2210.5" y1="836" x2="2210.5" y2="853.5" stroke="#9a9a9a" stroke-width="1.8"/>
<path d="M2210.5 821 L2205.9 839 L2215.1 839 Z" fill="#111"/>
<rect x="1381.4" y="1196.0" width="97.8" height="658.6" fill="#9eefc0" stroke="#4f8a68" stroke-width="2"/>
<rect x="1479.2" y="1350.1" width="97.6" height="504.5" fill="#f7d594" stroke="#9a8050" stroke-width="2"/>
<line x1="1479.2" y1="1196.0" x2="1479.2" y2="1854.6" stroke="#3a3a3a" stroke-width="2.2"/>
<rect x="1625.9" y="1191.4" width="97.8" height="663.2" fill="#9eefc0" stroke="#4f8a68" stroke-width="2"/>
<rect x="1723.7" y="1364.2" width="97.6" height="490.4" fill="#f7d594" stroke="#9a8050" stroke-width="2"/>
<line x1="1723.7" y1="1191.4" x2="1723.7" y2="1854.6" stroke="#3a3a3a" stroke-width="2.2"/>
<rect x="1870.4" y="1133.3" width="97.8" height="721.3" fill="#9eefc0" stroke="#4f8a68" stroke-width="2"/>
<rect x="1968.2" y="1399.9" width="97.6" height="454.7" fill="#f7d594" stroke="#9a8050" stroke-width="2"/>
<line x1="1968.2" y1="1133.3" x2="1968.2" y2="1854.6" stroke="#3a3a3a" stroke-width="2.2"/>
<rect x="2114.9" y="1133.3" width="97.8" height="721.3" fill="#9eefc0" stroke="#4f8a68" stroke-width="2"/>
<rect x="2212.7" y="1681.4" width="97.6" height="173.2" fill="#f7d594" stroke="#9a8050" stroke-width="2"/>
<line x1="2212.7" y1="1133.3" x2="2212.7" y2="1854.6" stroke="#3a3a3a" stroke-width="2.2"/>
<line x1="1479.2" y1="1196.0" x2="1576.0" y2="1196.0" stroke="#2a2a2a" stroke-width="3.4"/>
<line x1="1723.7" y1="1192.0" x2="1819.4" y2="1192.0" stroke="#2a2a2a" stroke-width="3.4"/>
<line x1="1968.2" y1="1135.0" x2="2064.7" y2="1135.0" stroke="#2a2a2a" stroke-width="3.4"/>
<line x1="2212.7" y1="1135.0" x2="2308.5" y2="1135.0" stroke="#2a2a2a" stroke-width="3.4"/>
<line x1="1529.0" y1="1214.5" x2="1529.0" y2="1246.3" stroke="#333" stroke-width="2.2"/>
<path d="M1529.0 1197.5 L1524.0 1216.0 L1534.0 1216.0 Z" fill="#111"/>
<line x1="1529.0" y1="1332.5" x2="1529.0" y2="1300.0" stroke="#333" stroke-width="2.2"/>
<path d="M1529.0 1349.5 L1524.0 1331.0 L1534.0 1331.0 Z" fill="#111"/>
<line x1="1771.4" y1="1210.5" x2="1771.4" y2="1241.7" stroke="#333" stroke-width="2.2"/>
<path d="M1771.4 1193.5 L1766.4 1212.0 L1776.4 1212.0 Z" fill="#111"/>
<line x1="1771.4" y1="1347.5" x2="1771.4" y2="1317.0" stroke="#333" stroke-width="2.2"/>
<path d="M1771.4 1364.5 L1766.4 1346.0 L1776.4 1346.0 Z" fill="#111"/>
<line x1="2015.2" y1="1153.5" x2="2015.2" y2="1208.5" stroke="#333" stroke-width="2.2"/>
<path d="M2015.2 1136.5 L2010.2 1155.0 L2020.2 1155.0 Z" fill="#111"/>
<line x1="2015.2" y1="1381.5" x2="2015.2" y2="1308.8" stroke="#333" stroke-width="2.2"/>
<path d="M2015.2 1398.5 L2010.2 1380.0 L2020.2 1380.0 Z" fill="#111"/>
<line x1="2261.0" y1="1153.5" x2="2261.0" y2="1342.7" stroke="#9a9a9a" stroke-width="1.6"/>
<path d="M2261.0 1136.5 L2256.0 1155.0 L2266.0 1155.0 Z" fill="#111"/>
<line x1="2261.0" y1="1663.5" x2="2261.0" y2="1445.7" stroke="#444" stroke-width="2.0"/>
<path d="M2261.0 1680.5 L2256.0 1662.0 L2266.0 1662.0 Z" fill="#111"/>
<text transform="translate(1479.8 1287.4) scale(1.020 1.04)" font-size="40.5" fill="#1a1a1a" text-anchor="start" >21.4%</text>
<text transform="translate(1733.6 1289.7) scale(1.020 1.04)" font-size="40.5" fill="#1a1a1a" text-anchor="start" >24%</text>
<text transform="translate(1979.4 1272.7) scale(1.020 1.04)" font-size="40.5" fill="#1a1a1a" text-anchor="start" >37%</text>
<text transform="translate(2223.0 1404.2) scale(1.020 1.04)" font-size="40.5" fill="#1a1a1a" text-anchor="start" >76%</text>
<rect x="1358.0" y="1062.2" width="977.2" height="792.6" fill="none" stroke="#262626" stroke-width="4.2"/>
<path d="M1358.0 1854.6H1372.0M1358.0 1782.4H1365.0M1358.0 1710.3H1372.0M1358.0 1638.1H1365.0M1358.0 1565.9H1372.0M1358.0 1493.8H1365.0M1358.0 1421.6H1372.0M1358.0 1349.4H1365.0M1358.0 1277.2H1372.0M1358.0 1205.1H1365.0M1358.0 1132.9H1372.0M1479.2 1854.8V1839.8M1723.7 1854.8V1839.8M1968.2 1854.8V1839.8M2212.7 1854.8V1839.8M1601.5 1854.8V1847.8M1846.0 1854.8V1847.8M2090.4 1854.8V1847.8" stroke="#262626" stroke-width="3.2" fill="none"/>
<text transform="translate(1340.0 1869.4) scale(1.030 1.04)" font-size="43" fill="#1a1a1a" text-anchor="end" >0</text>
<text transform="translate(1340.0 1725.1) scale(1.030 1.04)" font-size="43" fill="#1a1a1a" text-anchor="end" >20</text>
<text transform="translate(1340.0 1580.7) scale(1.030 1.04)" font-size="43" fill="#1a1a1a" text-anchor="end" >40</text>
<text transform="translate(1340.0 1436.4) scale(1.030 1.04)" font-size="43" fill="#1a1a1a" text-anchor="end" >60</text>
<text transform="translate(1340.0 1292.0) scale(1.030 1.04)" font-size="43" fill="#1a1a1a" text-anchor="end" >80</text>
<text transform="translate(1340.0 1147.7) scale(1.030 1.04)" font-size="43" fill="#1a1a1a" text-anchor="end" >100</text>
<rect x="1424.3" y="1071.4" width="81.4" height="40.0" fill="#9eefc0" stroke="#4f8a68" stroke-width="2.2"/>
<text transform="translate(1514.6 1104.3) scale(1.000 1.04)" font-size="36.9" fill="#1a1a1a" text-anchor="start" >0 M Trichloromethane</text>
<rect x="1886.2" y="1071.4" width="80.8" height="40.0" fill="#f7d594" stroke="#9a8050" stroke-width="2.2"/>
<text transform="translate(1975.5 1103.6) scale(1.000 1.04)" font-size="36.9" fill="#1a1a1a" text-anchor="start" >2 M Trichloromethane</text>
<text transform="translate(1376.0 1134.0) scale(1.000 1.04)" font-size="79" fill="#0a0a0a" text-anchor="start" >d</text>
<text transform="translate(1246.6 1457.0) rotate(-90) scale(1.022 1.04)" font-size="48.0" fill="#1a1a1a" text-anchor="middle" >Electrolysis efficiency&#160;&#160;(%)</text>
<text transform="translate(1296.0 2000.5) rotate(-14.8) scale(1.000 1.04)" font-size="45" fill="#1a1a1a" text-anchor="start" >GF/PDA/TiO<tspan font-size="0.68em" dy="0.4265em">2</tspan><tspan dy="-0.2900em">​</tspan>-NT</text>
<text transform="translate(1507.4 2009.1) rotate(-14.8) scale(1.000 1.04)" font-size="45" fill="#1a1a1a" text-anchor="start" >GF/PDA/TiO<tspan font-size="0.68em" dy="0.4265em">2</tspan><tspan dy="-0.2900em">​</tspan>-NT/Ru</text>
<text transform="translate(1727.4 2020.5) rotate(-14.8) scale(1.000 1.04)" font-size="45" fill="#1a1a1a" text-anchor="start" >GF/PDA/TiO<tspan font-size="0.68em" dy="0.4265em">2</tspan><tspan dy="-0.2900em">​</tspan>-NT/SnO<tspan font-size="0.68em" dy="0.4265em">2</tspan><tspan dy="-0.2900em">​</tspan></text>
<text transform="translate(1937.8 2026.0) rotate(-14.8) scale(1.000 1.04)" font-size="45" fill="#1a1a1a" text-anchor="start" >GF/PDA/TiO<tspan font-size="0.68em" dy="0.4265em">2</tspan><tspan dy="-0.2900em">​</tspan>-NT/SnO<tspan font-size="0.68em" dy="0.4265em">2</tspan><tspan dy="-0.2900em">​</tspan>/Ru</text>
</svg>
</body></html>
